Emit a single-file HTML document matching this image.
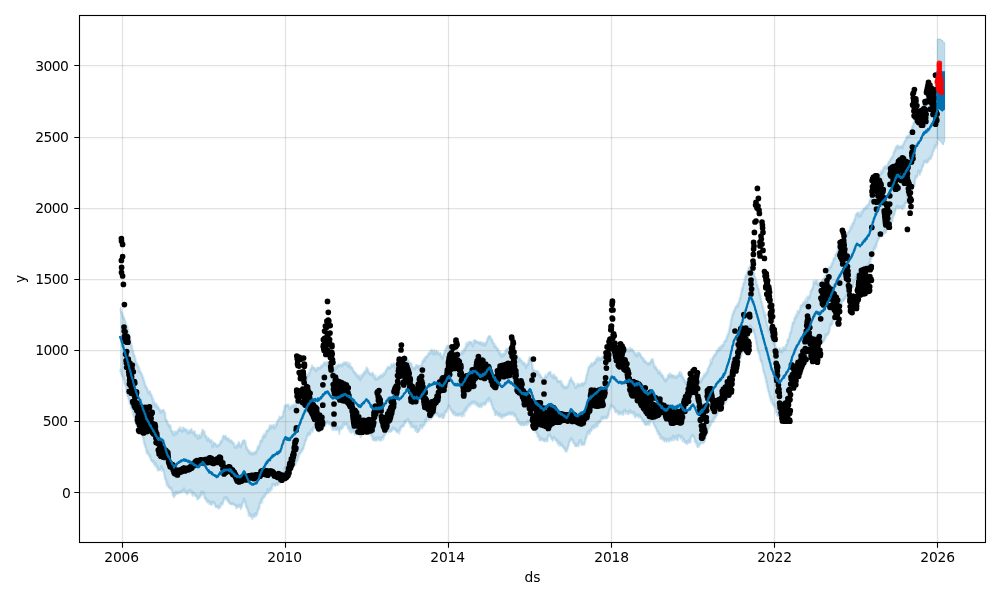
<!DOCTYPE html>
<html lang="en"><head><meta charset="utf-8"><title>Forecast plot</title>
<style>html,body{margin:0;padding:0;background:#fff}svg{display:block;will-change:transform}</style></head>
<body>
<svg width="1000" height="600" viewBox="0 0 1000 600">
<rect width="1000" height="600" fill="#fff"/>
<defs><clipPath id="ax"><rect x="79.5" y="15.5" width="906.0" height="527.0"/></clipPath></defs>
<g clip-path="url(#ax)">
<path d="M120 306.7 120.4 306.8 120.8 309.1 121.2 311.6 121.6 310.9 122 311.3 122.4 314.3 122.8 313.6 123.2 316.3 123.6 315.8 124 317.6 124.4 317.7 124.8 319 125.2 320.3 125.6 320.8 126 322.6 126.4 324.8 126.8 324.9 127.2 325.1 127.6 326.5 128 328.9 128.4 330.7 128.8 333.5 129.2 335.1 129.6 336.4 130 338 130.4 338.5 130.8 339.4 131.2 343.7 131.6 344 132 345.8 132.4 347.6 132.8 350.9 133.2 350 133.6 353.2 134 353.8 134.4 354.8 134.8 354.9 135.2 357.7 135.6 359.1 136 360.4 136.4 363.4 136.8 362.1 137.2 363.3 137.6 363.8 138 365.8 138.4 365.2 138.8 366 139.2 370.6 139.6 367.4 140 370.4 140.4 370.9 140.8 371.4 141.2 372 141.6 373.1 142 373.8 142.4 374.7 142.8 376.5 143.2 376.7 143.6 377.8 144 380.3 144.4 380 144.8 383.1 145.2 383.1 145.6 385.6 146 386 146.4 386.3 146.8 386.5 147.2 387.9 147.6 388.5 148 390.5 148.4 391.8 148.8 391.5 149.2 390.3 149.6 391.2 150 390.5 150.4 392.1 150.8 393.6 151.2 394.5 151.6 394.3 152 394.4 152.4 397.4 152.8 398.3 153.2 397.7 153.6 403.6 154 401.4 154.4 400.8 154.8 403.1 155.2 402.7 155.6 405.5 156 402.7 156.4 403.2 156.8 404.5 157.2 405.5 157.6 407.2 158 405.2 158.4 406.5 158.8 407.4 159.2 407.7 159.6 409.2 160 409.1 160.4 411.5 160.8 409.2 161.2 410.1 161.6 410.7 162 409.9 162.4 409.7 162.8 409.6 163.2 409.6 163.6 408.9 164 410.5 164.4 410.3 164.8 413.6 165.2 411.7 165.6 418.1 166 418.7 166.4 419.5 166.8 419.3 167.2 420 167.6 423 168 422.7 168.4 424.1 168.8 423.3 169.2 425.8 169.6 424 170 425.2 170.4 424.3 170.8 427.1 171.2 429.6 171.6 429.7 172 430 172.4 431.4 172.8 430.7 173.2 433.6 173.6 430.4 174 434.1 174.4 433.7 174.8 430.7 175.2 430.8 175.6 432.5 176 430.6 176.4 430.9 176.8 432.7 177.2 430.7 177.6 431 178 428.7 178.4 429.1 178.8 429.7 179.2 429.1 179.6 426.3 180 429.5 180.4 429.1 180.8 427.2 181.2 429.7 181.6 426.7 182 430.4 182.4 429.1 182.8 430.2 183.2 427.6 183.6 426.7 184 427.4 184.4 427.7 184.8 428.7 185.2 429.6 185.6 428 186 430.1 186.4 428.9 186.8 429.3 187.2 429.5 187.6 429.9 188 432.4 188.4 431.9 188.8 430.1 189.2 429.3 189.6 431.6 190 429.1 190.4 431.5 190.8 430.2 191.2 427.9 191.6 429.5 192 429.1 192.4 431.3 192.8 432.1 193.2 431 193.6 432.2 194 431.6 194.4 430.3 194.8 430.8 195.2 435 195.6 433.5 196 433.8 196.4 433.9 196.8 435 197.2 433.7 197.6 436.2 198 437.7 198.4 436.3 198.8 434.7 199.2 435.2 199.6 433.8 200 434.1 200.4 436.2 200.8 436.3 201.2 434 201.6 431.7 202 432.5 202.4 428.7 202.8 429.2 203.2 430.9 203.6 430.6 204 430.3 204.4 430.5 204.8 434.4 205.2 434.3 205.6 434.4 206 436.3 206.4 436 206.8 435.6 207.2 439.5 207.6 438 208 437 208.4 437 208.8 438.3 209.2 438.2 209.6 439.9 210 439 210.4 441.1 210.8 440.2 211.2 439.9 211.6 438.9 212 440.7 212.4 442.9 212.8 446.1 213.2 441 213.6 441.3 214 442.9 214.4 443.3 214.8 442.3 215.2 443.4 215.6 442.5 216 443.8 216.4 444.5 216.8 445.4 217.2 444.6 217.6 444.2 218 445 218.4 444.9 218.8 444.5 219.2 443 219.6 443.1 220 443.1 220.4 441.2 220.8 439.7 221.2 440.8 221.6 440.5 222 440.2 222.4 437.7 222.8 436.2 223.2 435.4 223.6 434.8 224 435.2 224.4 435.9 224.8 435.7 225.2 437.1 225.6 434.7 226 435.9 226.4 436.6 226.8 438.3 227.2 438.2 227.6 437.5 228 438.6 228.4 437.7 228.8 437.3 229.2 439.3 229.6 438.8 230 440.5 230.4 440.5 230.8 440.6 231.2 439.5 231.6 439.4 232 441.1 232.4 440.8 232.8 442.4 233.2 442.6 233.6 442.3 234 442 234.4 444.9 234.8 446.3 235.2 445.6 235.6 446 236 446.8 236.4 444.4 236.8 444.6 237.2 443.6 237.6 445.7 238 444.5 238.4 442.4 238.8 441 239.2 441.8 239.6 443.5 240 443.2 240.4 444.8 240.8 445.9 241.2 443.3 241.6 443.7 242 442.6 242.4 440.8 242.8 440 243.2 441.2 243.6 440.1 244 439.5 244.4 439.3 244.8 439.9 245.2 440.4 245.6 441.5 246 444.7 246.4 445.9 246.8 447.7 247.2 446.5 247.6 449.4 248 449.2 248.4 449.3 248.8 450.2 249.2 450.6 249.6 452.3 250 450.2 250.4 452.6 250.8 451.8 251.2 451.6 251.6 452.9 252 453.3 252.4 451.5 252.8 452.8 253.2 453.1 253.6 451.5 254 453.1 254.4 451.5 254.8 451.4 255.2 450.7 255.6 452.3 256 450.4 256.4 449.2 256.8 450.3 257.2 447.6 257.6 446.8 258 445 258.4 447.5 258.8 445.3 259.2 444.9 259.6 443.1 260 441.6 260.4 440.2 260.8 439.5 261.2 440 261.6 439 262 439.9 262.4 436 262.8 435.8 263.2 434.7 263.6 436.5 264 432.9 264.4 434.8 264.8 435.8 265.2 433.3 265.6 433.7 266 430.6 266.4 431.1 266.8 429.3 267.2 430.1 267.6 430 268 428.9 268.4 429.6 268.8 427.5 269.2 426.4 269.6 425.7 270 424.2 270.4 425.5 270.8 427.3 271.2 424.6 271.6 425.6 272 424.6 272.4 425.9 272.8 425.7 273.2 425 273.6 424 274 425.3 274.4 427.2 274.8 425.8 275.2 426.2 275.6 424.3 276 422.5 276.4 424.1 276.8 422.6 277.2 420.8 277.6 419.4 278 419.4 278.4 418.4 278.8 418.4 279.2 417.8 279.6 415.6 280 417.2 280.4 416.9 280.8 417.1 281.2 416.9 281.6 416 282 416 282.4 415.5 282.8 414.4 283.2 411 283.6 410 284 410.1 284.4 406.8 284.8 404.7 285.2 404.8 285.6 404.6 286 404.6 286.4 405.1 286.8 403.7 287.2 404.1 287.6 404.4 288 405 288.4 403.5 288.8 405.3 289.2 405 289.6 407.8 290 407.4 290.4 407.1 290.8 405.9 291.2 404.7 291.6 406.5 292 405.3 292.4 405.7 292.8 404 293.2 403.7 293.6 404.7 294 405.9 294.4 403.8 294.8 405.7 295.2 405.9 295.6 401.5 296 402.1 296.4 399.9 296.8 400.6 297.2 399.3 297.6 398 298 397.6 298.4 396 298.8 394.8 299.2 393.6 299.6 391.6 300 390.8 300.4 390.9 300.8 389.5 301.2 388.5 301.6 385.2 302 386.4 302.4 386.7 302.8 383.3 303.2 379.8 303.6 382.4 304 380.3 304.4 376.3 304.8 377.8 305.2 378 305.6 378.7 306 378.8 306.4 377.4 306.8 376.6 307.2 374.7 307.6 374.4 308 374.5 308.4 374.9 308.8 371.5 309.2 372.5 309.6 372 310 368.7 310.4 368.4 310.8 368.6 311.2 367.8 311.6 366.7 312 364.1 312.4 366.4 312.8 366.2 313.2 367.1 313.6 366.7 314 367.6 314.4 367.4 314.8 366.9 315.2 368.4 315.6 369.4 316 369 316.4 369.9 316.8 367 317.2 368.7 317.6 367.6 318 366.4 318.4 367.7 318.8 366.7 319.2 367.2 319.6 367.3 320 367.5 320.4 366.1 320.8 366.5 321.2 364.3 321.6 365.8 322 365.8 322.4 364.9 322.8 364.3 323.2 363.1 323.6 362.5 324 363.1 324.4 361.6 324.8 361.3 325.2 363.3 325.6 361.3 326 364 326.4 361.5 326.8 363.3 327.2 360.7 327.6 362.3 328 361.5 328.4 362.4 328.8 361.6 329.2 362.1 329.6 363.6 330 365.3 330.4 363.3 330.8 365.8 331.2 366.1 331.6 366.3 332 368.7 332.4 364.6 332.8 367.7 333.2 366.4 333.6 367 334 366.9 334.4 370.5 334.8 366 335.2 367.7 335.6 366.7 336 364.6 336.4 365.2 336.8 366.7 337.2 364.5 337.6 365.1 338 365.4 338.4 363.6 338.8 363.9 339.2 364.5 339.6 364.7 340 363.9 340.4 364.5 340.8 363.3 341.2 364 341.6 365 342 364.1 342.4 363.4 342.8 362.3 343.2 362.6 343.6 364 344 361 344.4 363 344.8 362.3 345.2 361.4 345.6 362.7 346 361.5 346.4 361.7 346.8 362.1 347.2 362.5 347.6 365.1 348 361.3 348.4 363.7 348.8 364.2 349.2 365.7 349.6 364 350 362.3 350.4 366.6 350.8 365.2 351.2 367.3 351.6 366 352 366.7 352.4 367.2 352.8 368 353.2 369.8 353.6 369.5 354 371.2 354.4 370.8 354.8 371.5 355.2 371.9 355.6 373.5 356 372 356.4 372.7 356.8 374.5 357.2 374.4 357.6 374 358 376.7 358.4 374.7 358.8 375.4 359.2 375.7 359.6 376.8 360 374.1 360.4 378.9 360.8 376.1 361.2 374.3 361.6 375.3 362 376.4 362.4 374.3 362.8 373.2 363.2 372.7 363.6 373.8 364 370.7 364.4 371.7 364.8 371 365.2 372.1 365.6 369.2 366 370.3 366.4 367.4 366.8 366.4 367.2 368.4 367.6 368.8 368 368 368.4 370.9 368.8 371.6 369.2 371.3 369.6 372.4 370 373.1 370.4 373.2 370.8 373.1 371.2 373.5 371.6 374.2 372 372.2 372.4 373.2 372.8 371.5 373.2 373.9 373.6 374.1 374 374 374.4 376.4 374.8 377.8 375.2 377.6 375.6 374.4 376 378.3 376.4 378.2 376.8 378.3 377.2 377.1 377.6 377.8 378 378 378.4 376.4 378.8 375.8 379.2 375.3 379.6 375.9 380 376.3 380.4 376.7 380.8 373.9 381.2 375.2 381.6 374.2 382 374.5 382.4 375.2 382.8 375.2 383.2 372.4 383.6 373.2 384 374 384.4 373.2 384.8 372.2 385.2 370.2 385.6 370.2 386 370.5 386.4 368.8 386.8 367.3 387.2 367.7 387.6 367.4 388 365.6 388.4 367.4 388.8 366.6 389.2 366.1 389.6 366.9 390 366.3 390.4 367 390.8 365.7 391.2 363.4 391.6 363.4 392 365.4 392.4 363.6 392.8 364.3 393.2 364.1 393.6 364.8 394 362 394.4 365.2 394.8 364.3 395.2 366.5 395.6 366.8 396 363.8 396.4 365.6 396.8 365.1 397.2 364.5 397.6 365.3 398 364.8 398.4 364.5 398.8 366.2 399.2 366.1 399.6 364.2 400 363.6 400.4 367.1 400.8 365.4 401.2 364.2 401.6 361.7 402 361 402.4 361.2 402.8 359.4 403.2 361.6 403.6 360.7 404 360.6 404.4 358.6 404.8 358.5 405.2 359 405.6 359.8 406 359.6 406.4 359.7 406.8 360.3 407.2 359.6 407.6 361.1 408 359.5 408.4 359.3 408.8 360.8 409.2 362.4 409.6 361.5 410 362.2 410.4 362.5 410.8 363.1 411.2 363.6 411.6 362.8 412 364.3 412.4 366.7 412.8 367.1 413.2 367.5 413.6 367.7 414 367.3 414.4 366.3 414.8 368 415.2 366.2 415.6 366.4 416 364 416.4 365.5 416.8 365.4 417.2 364.2 417.6 366.1 418 364.5 418.4 365.8 418.8 365.5 419.2 365.1 419.6 368.2 420 366.1 420.4 365.7 420.8 364.2 421.2 365.3 421.6 364 422 362 422.4 360.2 422.8 360.2 423.2 361 423.6 358.6 424 358.2 424.4 357.3 424.8 359.4 425.2 356.9 425.6 355.7 426 356 426.4 355.6 426.8 356.3 427.2 355.7 427.6 354.5 428 352.9 428.4 352.4 428.8 353.1 429.2 352.8 429.6 350.7 430 352.8 430.4 352.4 430.8 349.5 431.2 350.1 431.6 348.7 432 350.8 432.4 349.9 432.8 349.6 433.2 351.1 433.6 353.3 434 350.4 434.4 349.2 434.8 350.7 435.2 351.1 435.6 353 436 350.2 436.4 349.8 436.8 351.3 437.2 351.6 437.6 351.4 438 352.6 438.4 351.2 438.8 352.4 439.2 352.9 439.6 353.7 440 353.5 440.4 352.2 440.8 352.6 441.2 354.9 441.6 355.4 442 357.5 442.4 355 442.8 356.8 443.2 354.2 443.6 353.7 444 352.6 444.4 351.6 444.8 350.3 445.2 349.1 445.6 349.2 446 347.2 446.4 346.9 446.8 345.4 447.2 344.7 447.6 346.2 448 345.3 448.4 345.6 448.8 344.9 449.2 345.5 449.6 346.5 450 346.1 450.4 349 450.8 350.2 451.2 350.3 451.6 349.3 452 348.4 452.4 349.9 452.8 350.6 453.2 352.5 453.6 351.2 454 351.2 454.4 354.1 454.8 351 455.2 352.4 455.6 352.5 456 349.5 456.4 352.3 456.8 350.7 457.2 350.6 457.6 351 458 351.9 458.4 353.1 458.8 353.5 459.2 354.1 459.6 352.8 460 353.8 460.4 352.7 460.8 352.8 461.2 351.7 461.6 353 462 352.2 462.4 350.2 462.8 350.7 463.2 351.3 463.6 350.8 464 347.9 464.4 348.5 464.8 348.6 465.2 346.4 465.6 346.9 466 342.6 466.4 346.1 466.8 343.9 467.2 341.3 467.6 344.1 468 343.5 468.4 343.1 468.8 342.3 469.2 340.9 469.6 340.6 470 341.2 470.4 342.2 470.8 342.2 471.2 341.2 471.6 341.4 472 342.3 472.4 342.4 472.8 345 473.2 344.2 473.6 340.1 474 340.3 474.4 339.1 474.8 339 475.2 341.4 475.6 339.8 476 340.1 476.4 340.5 476.8 340.8 477.2 340.7 477.6 340.9 478 341.8 478.4 341.4 478.8 342.1 479.2 342.5 479.6 341.1 480 341.9 480.4 341.3 480.8 343 481.2 342.4 481.6 341.1 482 343.4 482.4 341.9 482.8 344 483.2 343.1 483.6 342 484 342.1 484.4 343.2 484.8 344.2 485.2 342.5 485.6 343.5 486 341.2 486.4 341.5 486.8 340.9 487.2 337.7 487.6 338.8 488 337.4 488.4 335.3 488.8 335.6 489.2 336.2 489.6 336.6 490 334.8 490.4 336.3 490.8 336.5 491.2 337.7 491.6 339.4 492 338.6 492.4 338.7 492.8 341.7 493.2 342.1 493.6 342.3 494 343 494.4 342.8 494.8 345.9 495.2 345.9 495.6 344.6 496 346 496.4 346.8 496.8 346.9 497.2 348.7 497.6 348.6 498 347.2 498.4 349.6 498.8 351.2 499.2 351.7 499.6 353.1 500 350.5 500.4 352.5 500.8 352.7 501.2 354.1 501.6 355.8 502 353.5 502.4 353.7 502.8 352.9 503.2 354.8 503.6 352.3 504 354.1 504.4 353.3 504.8 353 505.2 349.5 505.6 350.2 506 350.9 506.4 348.2 506.8 348.4 507.2 348.6 507.6 348 508 348.1 508.4 349.6 508.8 348.8 509.2 350 509.6 350.6 510 352.4 510.4 351.5 510.8 353.2 511.2 350.2 511.6 354.5 512 353.1 512.4 354.1 512.8 353.1 513.2 354.2 513.6 354.5 514 351.9 514.4 353.2 514.8 353.3 515.2 353.7 515.6 352.7 516 354.4 516.4 353.9 516.8 354.4 517.2 355 517.6 354.6 518 358.1 518.4 357.7 518.8 359.7 519.2 357.6 519.6 357.1 520 359.8 520.4 357.9 520.8 359.8 521.2 359.7 521.6 359.9 522 360.2 522.4 361 522.8 362.8 523.2 362.8 523.6 361.2 524 362.9 524.4 361.8 524.8 363.6 525.2 362.7 525.6 363.9 526 366.7 526.4 364.2 526.8 364.7 527.2 364 527.6 363.1 528 363.8 528.4 360.3 528.8 359 529.2 359.4 529.6 356.1 530 357 530.4 359 530.8 358.5 531.2 358.8 531.6 360.8 532 361.9 532.4 364.3 532.8 366.7 533.2 369.2 533.6 370.1 534 368.7 534.4 369.3 534.8 371.3 535.2 370.2 535.6 370.7 536 372 536.4 370.3 536.8 370.6 537.2 371.1 537.6 369.7 538 371.8 538.4 372.7 538.8 373.8 539.2 371.5 539.6 375.2 540 373.7 540.4 374.4 540.8 374.8 541.2 376.3 541.6 376.3 542 378.3 542.4 376.9 542.8 377.5 543.2 379.6 543.6 377.9 544 378.8 544.4 377.8 544.8 376.1 545.2 376.7 545.6 373.8 546 376.8 546.4 375.4 546.8 375.4 547.2 375.1 547.6 373.5 548 372.3 548.4 372.7 548.8 372 549.2 371.2 549.6 371.5 550 371.6 550.4 372.7 550.8 371.1 551.2 374.5 551.6 375.3 552 374.8 552.4 374 552.8 376.2 553.2 373.7 553.6 375.5 554 377.2 554.4 373.6 554.8 376.1 555.2 375.9 555.6 376.9 556 376.5 556.4 377.1 556.8 376.4 557.2 379 557.6 380.6 558 379.8 558.4 380 558.8 380.7 559.2 380.6 559.6 380.3 560 380.7 560.4 381.3 560.8 381 561.2 379.7 561.6 383.2 562 384.8 562.4 382.5 562.8 383.4 563.2 385.1 563.6 386.5 564 385.8 564.4 386.7 564.8 385.5 565.2 386 565.6 386.7 566 385.6 566.4 386.9 566.8 386.5 567.2 386.4 567.6 384.5 568 385.4 568.4 383 568.8 383.3 569.2 379.9 569.6 379.7 570 380.1 570.4 378.1 570.8 377.9 571.2 376.6 571.6 379.8 572 380 572.4 379.6 572.8 380.7 573.2 381 573.6 382.8 574 383 574.4 382.3 574.8 384.1 575.2 386 575.6 386.8 576 385.5 576.4 386.1 576.8 384.9 577.2 384.6 577.6 382.6 578 382.8 578.4 383.9 578.8 383.9 579.2 385 579.6 385 580 383 580.4 383.7 580.8 383.2 581.2 383.6 581.6 383.5 582 382.5 582.4 381.8 582.8 384.3 583.2 382.1 583.6 383.8 584 382.3 584.4 381.9 584.8 382.4 585.2 381.6 585.6 378.5 586 378.5 586.4 374.5 586.8 373.6 587.2 374 587.6 370 588 369.5 588.4 366.7 588.8 366.7 589.2 365.7 589.6 365.4 590 364.7 590.4 364.1 590.8 364.9 591.2 362.3 591.6 362.6 592 364.9 592.4 363.7 592.8 363 593.2 361.9 593.6 362.9 594 361.2 594.4 361.5 594.8 360.6 595.2 362.6 595.6 360.3 596 357.9 596.4 359.3 596.8 358.3 597.2 358 597.6 355.9 598 358.9 598.4 357.9 598.8 358 599.2 356.5 599.6 357.8 600 357.6 600.4 358.8 600.8 357.2 601.2 357.2 601.6 358.4 602 356.5 602.4 356.8 602.8 355.6 603.2 356 603.6 355.9 604 355.3 604.4 355.1 604.8 354.8 605.2 354.9 605.6 355.1 606 356.7 606.4 356.8 606.8 353.9 607.2 355.3 607.6 356.2 608 354.4 608.4 353.8 608.8 352.3 609.2 351 609.6 348.5 610 349.6 610.4 348.7 610.8 348.3 611.2 347.2 611.6 345.6 612 344.2 612.4 343.6 612.8 343.8 613.2 344.7 613.6 344.6 614 344.9 614.4 346.1 614.8 345.2 615.2 343.5 615.6 347.5 616 346.1 616.4 351 616.8 350.5 617.2 349.6 617.6 347.9 618 347.2 618.4 348.8 618.8 349.2 619.2 348.5 619.6 348.7 620 349.8 620.4 349.2 620.8 347.5 621.2 347.2 621.6 349.4 622 349.1 622.4 350.3 622.8 352.1 623.2 351.7 623.6 350.4 624 350.5 624.4 351.2 624.8 349.7 625.2 349.7 625.6 350.8 626 349.8 626.4 348.9 626.8 347.8 627.2 349.1 627.6 348.3 628 349.8 628.4 348.6 628.8 350.3 629.2 350 629.6 346.8 630 348.8 630.4 347.3 630.8 349.4 631.2 348.6 631.6 348.2 632 349 632.4 348.4 632.8 348.9 633.2 350 633.6 350.3 634 351.5 634.4 351.4 634.8 353.1 635.2 351.5 635.6 354.5 636 353.7 636.4 353.5 636.8 353.1 637.2 355.2 637.6 351.9 638 352.2 638.4 351.7 638.8 353.4 639.2 352 639.6 353.3 640 352.5 640.4 353.9 640.8 353.7 641.2 356 641.6 355.7 642 356.1 642.4 357.5 642.8 357.1 643.2 358.1 643.6 359.6 644 357.6 644.4 361 644.8 359.9 645.2 359.8 645.6 360.7 646 361.5 646.4 361.1 646.8 361.5 647.2 362.7 647.6 363.2 648 363.1 648.4 362.4 648.8 362.1 649.2 361.9 649.6 363.1 650 361.7 650.4 360.5 650.8 361 651.2 359.1 651.6 358.8 652 358.6 652.4 360.6 652.8 357.8 653.2 360.6 653.6 361.9 654 362.9 654.4 365.8 654.8 366 655.2 366.8 655.6 365.4 656 367.4 656.4 367 656.8 368.5 657.2 369.2 657.6 368.9 658 370.2 658.4 372.2 658.8 371.6 659.2 370.8 659.6 369.7 660 372.1 660.4 372.9 660.8 371.8 661.2 372.6 661.6 374.8 662 374.3 662.4 375.5 662.8 374.4 663.2 375 663.6 377.2 664 377 664.4 378.9 664.8 379.3 665.2 377.7 665.6 380.3 666 378.6 666.4 379.1 666.8 378.5 667.2 377.1 667.6 376.5 668 373.8 668.4 374.4 668.8 374.3 669.2 375.9 669.6 374.1 670 372.2 670.4 375.1 670.8 374.4 671.2 373.5 671.6 374.1 672 376.1 672.4 374.7 672.8 374 673.2 375.6 673.6 374.8 674 376.3 674.4 375.6 674.8 375.3 675.2 375.5 675.6 376.7 676 376.9 676.4 375.5 676.8 374.6 677.2 376 677.6 375.2 678 374.4 678.4 374.7 678.8 372.6 679.2 373.2 679.6 371.9 680 370.9 680.4 374.5 680.8 374.4 681.2 371.4 681.6 373.9 682 374 682.4 376.5 682.8 376.2 683.2 376.4 683.6 377.6 684 378.6 684.4 379.3 684.8 379.5 685.2 380.8 685.6 382.1 686 380.5 686.4 380.8 686.8 380.8 687.2 380.6 687.6 381.4 688 378.6 688.4 378.2 688.8 377.5 689.2 378.1 689.6 376.4 690 375.8 690.4 376.1 690.8 373.1 691.2 374.4 691.6 372.9 692 373 692.4 373.1 692.8 372.7 693.2 372.2 693.6 372.6 694 372.6 694.4 372.5 694.8 373.9 695.2 375.9 695.6 377.2 696 377.4 696.4 377.5 696.8 380.2 697.2 381.6 697.6 382.4 698 382 698.4 380.3 698.8 381.5 699.2 382.7 699.6 382.5 700 379.5 700.4 381.2 700.8 378 701.2 381 701.6 379.1 702 376.6 702.4 378.1 702.8 376.6 703.2 376.8 703.6 375.1 704 373.4 704.4 375.1 704.8 372.9 705.2 374.7 705.6 373.5 706 372.3 706.4 370.6 706.8 372.5 707.2 371.1 707.6 367.7 708 369.9 708.4 366.8 708.8 366.1 709.2 365.8 709.6 364.3 710 364.3 710.4 361.7 710.8 358.5 711.2 362.4 711.6 360.8 712 358.3 712.4 358.3 712.8 356.5 713.2 356.2 713.6 355.5 714 354.9 714.4 353.8 714.8 353.9 715.2 354.5 715.6 352.4 716 353 716.4 349.9 716.8 351.4 717.2 350.1 717.6 348.7 718 350.3 718.4 348.9 718.8 347.1 719.2 347.2 719.6 348 720 345.9 720.4 348 720.8 346.3 721.2 344.5 721.6 345.5 722 346 722.4 344.2 722.8 343.8 723.2 344.7 723.6 344.1 724 341 724.4 340.8 724.8 341 725.2 340.6 725.6 338.9 726 339.8 726.4 337.8 726.8 335.9 727.2 336 727.6 333.4 728 333.4 728.4 332.9 728.8 330.4 729.2 328.8 729.6 327.7 730 324.7 730.4 324.6 730.8 320.3 731.2 319.4 731.6 316.8 732 316.1 732.4 313.2 732.8 313.4 733.2 311.9 733.6 310.2 734 310.7 734.4 309.1 734.8 308.4 735.2 307.8 735.6 305.6 736 306.3 736.4 305.7 736.8 305 737.2 304.5 737.6 303 738 305.2 738.4 301.5 738.8 301.6 739.2 300.5 739.6 297.1 740 297.8 740.4 296.4 740.8 293.4 741.2 291.2 741.6 289.5 742 286.8 742.4 289.1 742.8 285.9 743.2 283.6 743.6 281.9 744 282.9 744.4 281.6 744.8 277.8 745.2 276.5 745.6 274.5 746 275.8 746.4 273.6 746.8 274.8 747.2 271.1 747.6 270.6 748 269 748.4 270.6 748.8 266.5 749.2 267.6 749.6 266.6 750 264.9 750.4 264.8 750.8 267.2 751.2 268.7 751.6 266.8 752 268.2 752.4 269.9 752.8 268.7 753.2 270.5 753.6 269.7 754 272.2 754.4 274.1 754.8 275.4 755.2 277.2 755.6 277.8 756 278.5 756.4 280.4 756.8 283.6 757.2 283.8 757.6 285.1 758 287.1 758.4 287.8 758.8 287.9 759.2 289.9 759.6 292.1 760 294 760.4 294.5 760.8 296.8 761.2 298.8 761.6 301.4 762 301.2 762.4 304.9 762.8 306.4 763.2 305.4 763.6 309.7 764 311.2 764.4 310.6 764.8 315.4 765.2 312.4 765.6 314.3 766 317 766.4 320 766.8 321.3 767.2 322.9 767.6 325.1 768 325.6 768.4 327.3 768.8 329.9 769.2 329.4 769.6 327 770 330.2 770.4 330.3 770.8 333.2 771.2 334.7 771.6 334.7 772 336.5 772.4 338 772.8 339.1 773.2 337 773.6 342.8 774 342.9 774.4 343.3 774.8 343.4 775.2 343.1 775.6 345.2 776 346.9 776.4 347.7 776.8 347.6 777.2 348.1 777.6 347.9 778 349.8 778.4 349.6 778.8 349.5 779.2 347.4 779.6 348.9 780 347.5 780.4 350.8 780.8 350.3 781.2 349.1 781.6 349 782 351.3 782.4 349.7 782.8 346.5 783.2 348.2 783.6 346.7 784 346.5 784.4 347.6 784.8 348.5 785.2 347.2 785.6 344.7 786 344 786.4 343.8 786.8 344.1 787.2 340 787.6 338.6 788 340.2 788.4 338.3 788.8 338.3 789.2 335.8 789.6 335.1 790 331.5 790.4 332 790.8 330.9 791.2 329.3 791.6 326.1 792 325.7 792.4 322.7 792.8 321.5 793.2 321.7 793.6 322.4 794 320.7 794.4 316.8 794.8 318.2 795.2 316.7 795.6 315.7 796 313.1 796.4 315.9 796.8 315.3 797.2 313.8 797.6 310 798 310.1 798.4 312.1 798.8 311.3 799.2 311 799.6 308.6 800 308.7 800.4 305.7 800.8 304.9 801.2 304.1 801.6 305.3 802 303.8 802.4 304.1 802.8 303.7 803.2 301.5 803.6 303.9 804 300.3 804.4 302.3 804.8 302.2 805.2 302.2 805.6 297.7 806 300.6 806.4 301.1 806.8 300.4 807.2 295.7 807.6 297 808 297.7 808.4 296 808.8 297.2 809.2 294.6 809.6 296.4 810 294.3 810.4 291 810.8 290 811.2 289.9 811.6 288.7 812 288.2 812.4 286.7 812.8 287.2 813.2 283.6 813.6 280.2 814 282.5 814.4 282.3 814.8 281.1 815.2 279.5 815.6 280.9 816 282.6 816.4 280.5 816.8 279.7 817.2 279.4 817.6 283.8 818 281.9 818.4 283.6 818.8 284.1 819.2 283.2 819.6 281.5 820 282.9 820.4 282.9 820.8 282.2 821.2 283 821.6 280.5 822 279.7 822.4 278.6 822.8 279.4 823.2 278.1 823.6 278.7 824 277.1 824.4 277.4 824.8 275.8 825.2 275.3 825.6 274.8 826 274.3 826.4 272.5 826.8 269.8 827.2 271.8 827.6 268.7 828 268.3 828.4 267.4 828.8 268.9 829.2 266.2 829.6 266.8 830 266.4 830.4 266.4 830.8 266.1 831.2 265.1 831.6 262.5 832 263.5 832.4 262.1 832.8 260.3 833.2 259.2 833.6 257.7 834 257.2 834.4 258.4 834.8 257.1 835.2 253.8 835.6 254.3 836 252.8 836.4 252.8 836.8 251.6 837.2 252 837.6 250.1 838 247.7 838.4 243.8 838.8 244.3 839.2 242.2 839.6 241 840 242.1 840.4 239.2 840.8 241.5 841.2 241.7 841.6 239 842 240.9 842.4 240.2 842.8 240.4 843.2 238.4 843.6 238.7 844 237.4 844.4 237.2 844.8 235.6 845.2 235.4 845.6 234.1 846 233.7 846.4 234.2 846.8 232.7 847.2 233.2 847.6 232.2 848 232 848.4 230.5 848.8 230.9 849.2 230.6 849.6 229.4 850 229.3 850.4 227.4 850.8 225.1 851.2 226.2 851.6 226.7 852 224.8 852.4 222.3 852.8 223.3 853.2 221.4 853.6 222.2 854 220.1 854.4 219 854.8 217.9 855.2 216.6 855.6 214.7 856 213.2 856.4 213.5 856.8 212.4 857.2 213.8 857.6 211.6 858 211.8 858.4 213 858.8 211.9 859.2 215.7 859.6 211.9 860 214.9 860.4 211.1 860.8 212.5 861.2 214.7 861.6 209.9 862 210.3 862.4 211.3 862.8 210.3 863.2 208.6 863.6 208.4 864 207.3 864.4 207.9 864.8 208.3 865.2 206.4 865.6 205.9 866 207 866.4 207.2 866.8 204.3 867.2 205.6 867.6 204.8 868 204 868.4 203.8 868.8 203.1 869.2 201.3 869.6 199.7 870 199.7 870.4 199 870.8 197.9 871.2 193.7 871.6 193.8 872 193.5 872.4 192.7 872.8 190.3 873.2 189 873.6 189.4 874 185.6 874.4 185.6 874.8 183.5 875.2 185.1 875.6 182.9 876 183.8 876.4 180.6 876.8 181.5 877.2 180.4 877.6 181.2 878 177.3 878.4 178.5 878.8 176.3 879.2 175.8 879.6 174.8 880 174.2 880.4 172.7 880.8 170.1 881.2 172.7 881.6 171.3 882 169.2 882.4 169 882.8 171.2 883.2 167.8 883.6 166.2 884 167.9 884.4 166.4 884.8 166.3 885.2 165.1 885.6 165.1 886 166.9 886.4 167 886.8 164.7 887.2 164.5 887.6 163.9 888 162.9 888.4 161.8 888.8 160.9 889.2 160.4 889.6 160.8 890 158.7 890.4 159.2 890.8 157.7 891.2 156.7 891.6 157.5 892 156.2 892.4 155.6 892.8 155 893.2 153.4 893.6 151.3 894 151.7 894.4 150.2 894.8 149.1 895.2 149.6 895.6 147 896 146.3 896.4 145.4 896.8 146.8 897.2 144.6 897.6 145 898 144.6 898.4 146 898.8 147.1 899.2 145.5 899.6 146.1 900 145.8 900.4 145.7 900.8 146.2 901.2 145.4 901.6 145.9 902 144.4 902.4 147 902.8 144.5 903.2 143.2 903.6 143.4 904 141.4 904.4 140.9 904.8 139.9 905.2 140.1 905.6 139 906 138.7 906.4 136.6 906.8 135.5 907.2 135.4 907.6 135.6 908 134.9 908.4 136.5 908.8 135.9 909.2 134.6 909.6 131.9 910 132.8 910.4 130.5 910.8 131.1 911.2 129.8 911.6 128 912 126.3 912.4 124.9 912.8 126.2 913.2 122.7 913.6 122 914 121.9 914.4 119.8 914.8 119.2 915.2 115.7 915.6 114.6 916 117.7 916.4 114.3 916.8 113.1 917.2 112.9 917.6 113.2 918 110.4 918.4 111.8 918.8 111.5 919.2 111.9 919.6 111.3 920 110.4 920.4 108.5 920.8 106.8 921.2 109.2 921.6 105.7 922 106.3 922.4 107.7 922.8 104.3 923.2 104.5 923.6 102.1 924 102.7 924.4 102.6 924.8 101.9 925.2 103.3 925.6 101.2 926 99.9 926.4 99.7 926.8 100.4 927.2 98 927.6 100.6 928 100.3 928.4 99.5 928.8 96.1 929.2 96.8 929.6 93.8 930 94.1 930.4 94.2 930.8 94 931.2 92.5 931.6 91.9 932 91 932.4 91.5 932.8 91.6 933.2 91.2 933.6 90.4 934 90.2 934.4 89.7 934.8 85.7 935.2 87.6 935.6 86.8 936 84.5 936.4 85.1 936.8 82.6 937.2 79.7 937.6 78.8 938 78.4 L938 142.6 937.6 142.7 937.2 145.4 936.8 144.8 936.4 147.5 936 146.3 935.6 149.2 935.2 146.8 934.8 149 934.4 148.5 934 151.4 933.6 150.9 933.2 152.5 932.8 153.6 932.4 156.1 932 156.5 931.6 156.8 931.2 159 930.8 157.9 930.4 160.4 930 159.6 929.6 159.5 929.2 160.5 928.8 160.1 928.4 162.4 928 161.4 927.6 163.5 927.2 162.3 926.8 163.8 926.4 163.1 926 162.9 925.6 163.2 925.2 161.9 924.8 162.1 924.4 164.1 924 162.9 923.6 166 923.2 166 922.8 168.1 922.4 167.1 922 169 921.6 171.8 921.2 172 920.8 172.4 920.4 172.9 920 175.8 919.6 174.8 919.2 174.3 918.8 171.8 918.4 172.8 918 175.5 917.6 176.5 917.2 177.3 916.8 178.6 916.4 178.1 916 177.2 915.6 179.8 915.2 180.8 914.8 185.5 914.4 186.9 914 186.5 913.6 186.1 913.2 186.5 912.8 188 912.4 190.2 912 190.3 911.6 193.8 911.2 193.1 910.8 193.2 910.4 194.2 910 196.4 909.6 197.9 909.2 198.8 908.8 198.7 908.4 199 908 201.2 907.6 198.7 907.2 204.1 906.8 203.2 906.4 203.5 906 202.8 905.6 204.1 905.2 205 904.8 207.3 904.4 208.5 904 206.3 903.6 209.3 903.2 207.1 902.8 210.1 902.4 208.6 902 209.9 901.6 209.1 901.2 208.3 900.8 208.2 900.4 207.9 900 208.6 899.6 208.6 899.2 208.1 898.8 208.7 898.4 209.3 898 209.2 897.6 208 897.2 207.1 896.8 207.8 896.4 208.3 896 209.9 895.6 211.5 895.2 211.7 894.8 214.7 894.4 215.4 894 216.2 893.6 216 893.2 218 892.8 218.6 892.4 222.2 892 221.9 891.6 220.8 891.2 222.6 890.8 222.2 890.4 220.5 890 222.6 889.6 225.6 889.2 224.8 888.8 226.2 888.4 224.9 888 226.6 887.6 229 887.2 228.9 886.8 230.6 886.4 232.1 886 233.6 885.6 232.8 885.2 233.8 884.8 233.5 884.4 231.3 884 234.7 883.6 233.3 883.2 234.4 882.8 236.9 882.4 235.7 882 236.4 881.6 236.3 881.2 237.4 880.8 236 880.4 237.5 880 236 879.6 238.4 879.2 239 878.8 238.9 878.4 240.3 878 241.4 877.6 242.7 877.2 242.7 876.8 244.8 876.4 247.7 876 245.4 875.6 247.9 875.2 249.4 874.8 249.2 874.4 248.5 874 250.3 873.6 252.5 873.2 254.5 872.8 253.1 872.4 255.6 872 255 871.6 259.6 871.2 259 870.8 259.2 870.4 262.6 870 264.4 869.6 263.8 869.2 264.2 868.8 264.7 868.4 267.4 868 268 867.6 268 867.2 268.5 866.8 269.9 866.4 270.3 866 268.2 865.6 270 865.2 272.1 864.8 271.9 864.4 271.3 864 272.6 863.6 273.5 863.2 271.7 862.8 272.1 862.4 273.9 862 272.6 861.6 274.5 861.2 275.5 860.8 275.8 860.4 276.1 860 276.8 859.6 278.6 859.2 276.2 858.8 276.5 858.4 278.1 858 276.9 857.6 275.9 857.2 274.4 856.8 277.8 856.4 278.9 856 278.1 855.6 279.9 855.2 280.7 854.8 282.5 854.4 282.6 854 283.8 853.6 287.5 853.2 287.2 852.8 286.9 852.4 288.4 852 288.1 851.6 290.3 851.2 289.4 850.8 291.6 850.4 290.3 850 292.2 849.6 293.8 849.2 293.1 848.8 292.4 848.4 294 848 295.5 847.6 295.9 847.2 296.4 846.8 295.6 846.4 298.1 846 298.9 845.6 298.5 845.2 298.6 844.8 300.2 844.4 300.3 844 301.2 843.6 301.8 843.2 301.8 842.8 300.9 842.4 302.6 842 303.2 841.6 305.4 841.2 307 840.8 305.7 840.4 307.8 840 309.2 839.6 311.1 839.2 308.6 838.8 310.1 838.4 310.6 838 309.9 837.6 313.5 837.2 312.5 836.8 314.2 836.4 316.9 836 316.9 835.6 317.5 835.2 317.3 834.8 320.2 834.4 320.3 834 318.3 833.6 319.9 833.2 321.2 832.8 322.1 832.4 324.7 832 325.4 831.6 326 831.2 325.7 830.8 325 830.4 326.8 830 328.9 829.6 331.3 829.2 333.3 828.8 334 828.4 333.9 828 335.3 827.6 335.7 827.2 335.9 826.8 336.3 826.4 335.7 826 339 825.6 335.7 825.2 339.7 824.8 339.2 824.4 341.5 824 341 823.6 341.5 823.2 343.1 822.8 341.4 822.4 342.1 822 344.3 821.6 344.7 821.2 342.4 820.8 340.5 820.4 343.4 820 341.8 819.6 343.1 819.2 342.3 818.8 343.1 818.4 345 818 340.3 817.6 343.7 817.2 344.9 816.8 342.2 816.4 344 816 342.9 815.6 344.4 815.2 344.9 814.8 347.4 814.4 348.4 814 350.9 813.6 348.3 813.2 351.5 812.8 353 812.4 351.8 812 354.7 811.6 355.2 811.2 352.6 810.8 355.9 810.4 358.9 810 358.7 809.6 357.4 809.2 358.9 808.8 357.3 808.4 361.8 808 360.8 807.6 361.2 807.2 362 806.8 362.1 806.4 363.8 806 362.7 805.6 364.3 805.2 364.8 804.8 367.3 804.4 367.3 804 366.2 803.6 365.3 803.2 365.8 802.8 367.3 802.4 369.3 802 370.7 801.6 371 801.2 370.7 800.8 371.1 800.4 370.7 800 372.6 799.6 374 799.2 373.9 798.8 376.9 798.4 374.9 798 376.2 797.6 376.6 797.2 378.5 796.8 378.5 796.4 381.1 796 380.8 795.6 385.2 795.2 380.7 794.8 385 794.4 383.2 794 382.1 793.6 385 793.2 388.5 792.8 386.8 792.4 388.4 792 388.8 791.6 391.8 791.2 393.7 790.8 395.1 790.4 398.1 790 400.8 789.6 399.7 789.2 402.5 788.8 401.6 788.4 403.9 788 404.1 787.6 405.2 787.2 404.1 786.8 403.9 786.4 405 786 402.2 785.6 404.1 785.2 405.5 784.8 407 784.4 407.5 784 407.9 783.6 408 783.2 408.8 782.8 410.8 782.4 410.7 782 410.5 781.6 410.8 781.2 413.4 780.8 413.7 780.4 413.2 780 414.6 779.6 413.4 779.2 416.1 778.8 416.8 778.4 415.9 778 417.1 777.6 416.3 777.2 416.6 776.8 412.9 776.4 412.8 776 413.7 775.6 409 775.2 406.4 774.8 409 774.4 406.2 774 407.1 773.6 405.3 773.2 405.8 772.8 404.6 772.4 405.3 772 402.9 771.6 401.3 771.2 399 770.8 402.6 770.4 400.1 770 396.8 769.6 397.8 769.2 394.1 768.8 393.6 768.4 392.2 768 391.8 767.6 389.1 767.2 387.2 766.8 385.2 766.4 382.2 766 383.1 765.6 379 765.2 378.4 764.8 376 764.4 375.6 764 373.4 763.6 373.2 763.2 370.9 762.8 369.4 762.4 366.3 762 365.6 761.6 361.7 761.2 363.3 760.8 361.7 760.4 361.1 760 360.4 759.6 356.8 759.2 354.5 758.8 353.4 758.4 353.8 758 352 757.6 349.2 757.2 350.4 756.8 345.9 756.4 344.3 756 342.2 755.6 338.7 755.2 339.5 754.8 335.9 754.4 334.4 754 333.8 753.6 331.1 753.2 332.2 752.8 332.6 752.4 332.8 752 329.6 751.6 328.7 751.2 329.6 750.8 327.1 750.4 329.2 750 326.5 749.6 327.5 749.2 330.6 748.8 332.4 748.4 333.5 748 333.4 747.6 337.5 747.2 337.3 746.8 340.2 746.4 340.7 746 341.5 745.6 342.3 745.2 345.2 744.8 345.9 744.4 348.4 744 348.6 743.6 348.9 743.2 350.7 742.8 351.6 742.4 353.3 742 354.5 741.6 356.2 741.2 357.3 740.8 357.4 740.4 357.3 740 361 739.6 363.6 739.2 363.6 738.8 362.4 738.4 366 738 366.3 737.6 367.7 737.2 366 736.8 368.1 736.4 368.9 736 368.4 735.6 369.4 735.2 371.2 734.8 371.4 734.4 369.9 734 371.2 733.6 371 733.2 374 732.8 375.6 732.4 379 732 380.7 731.6 381.6 731.2 386.8 730.8 386.8 730.4 388.8 730 392.1 729.6 393.2 729.2 393.9 728.8 395.6 728.4 395.1 728 398.8 727.6 400.1 727.2 399.2 726.8 398.7 726.4 402.8 726 401.1 725.6 401.4 725.2 402.8 724.8 404.8 724.4 403.3 724 405.7 723.6 406.9 723.2 406.2 722.8 409.1 722.4 407 722 406.6 721.6 406.7 721.2 408 720.8 409.8 720.4 408.3 720 409.4 719.6 410.5 719.2 410.4 718.8 411.6 718.4 412 718 411.8 717.6 414.4 717.2 416.1 716.8 416.3 716.4 416.5 716 416.9 715.6 417.7 715.2 419.6 714.8 419.6 714.4 418.7 714 418.3 713.6 422.8 713.2 422.6 712.8 420.8 712.4 423.1 712 422.1 711.6 423 711.2 424.6 710.8 426.2 710.4 426 710 427 709.6 426.2 709.2 429 708.8 427.3 708.4 429.9 708 430.7 707.6 433.4 707.2 432 706.8 433.3 706.4 436.1 706 436.3 705.6 439.4 705.2 439.9 704.8 442 704.4 442.7 704 442.6 703.6 442.1 703.2 444.4 702.8 442.2 702.4 444.1 702 443.5 701.6 443.1 701.2 444.3 700.8 444 700.4 444.3 700 445.4 699.6 445.5 699.2 446.1 698.8 447.9 698.4 445.7 698 446.3 697.6 448.1 697.2 447.7 696.8 443.8 696.4 445.8 696 442.3 695.6 443.1 695.2 443 694.8 442.8 694.4 438.9 694 439.2 693.6 437.2 693.2 437 692.8 436.7 692.4 436.1 692 437.4 691.6 437.5 691.2 437.6 690.8 440.5 690.4 443.4 690 443.1 689.6 440.8 689.2 443.8 688.8 443.3 688.4 442.3 688 443.9 687.6 443 687.2 443.8 686.8 445.3 686.4 442.5 686 443.4 685.6 444 685.2 443.1 684.8 443.4 684.4 443 684 441.3 683.6 440.2 683.2 440.2 682.8 442.4 682.4 441.6 682 438.1 681.6 437.2 681.2 437.2 680.8 439.5 680.4 439.1 680 438.2 679.6 436.6 679.2 436.9 678.8 437.2 678.4 436.5 678 440.9 677.6 441.3 677.2 439.7 676.8 439.7 676.4 437.1 676 439.7 675.6 440.3 675.2 438.5 674.8 438.8 674.4 441.2 674 439 673.6 439.4 673.2 436.7 672.8 439.3 672.4 441.5 672 439.3 671.6 440.4 671.2 441.5 670.8 439.3 670.4 440.6 670 441.8 669.6 440.8 669.2 441 668.8 442.6 668.4 441.9 668 440 667.6 440.5 667.2 440.7 666.8 442.8 666.4 441.5 666 441.7 665.6 440.2 665.2 440.9 664.8 441.8 664.4 442.7 664 439.3 663.6 440.2 663.2 440.5 662.8 440.8 662.4 438.5 662 438.5 661.6 440 661.2 438.1 660.8 439.8 660.4 436 660 439.1 659.6 435.3 659.2 435.5 658.8 433.8 658.4 435.3 658 435.3 657.6 432 657.2 431.2 656.8 432.5 656.4 430.3 656 429.8 655.6 427.8 655.2 428.3 654.8 427.1 654.4 426.6 654 425.3 653.6 424.7 653.2 424.2 652.8 420.9 652.4 422 652 420 651.6 420.6 651.2 422.3 650.8 422.7 650.4 423.5 650 422.5 649.6 421.3 649.2 426.3 648.8 424.3 648.4 424.6 648 425.5 647.6 423.6 647.2 425.5 646.8 425.6 646.4 425.7 646 426 645.6 425.1 645.2 425.6 644.8 424.8 644.4 425 644 421.6 643.6 423 643.2 421.7 642.8 421.1 642.4 420.7 642 421.1 641.6 419.5 641.2 418.7 640.8 418.2 640.4 417.9 640 417.4 639.6 416 639.2 417.7 638.8 418.8 638.4 416.7 638 416 637.6 416.7 637.2 416 636.8 416.8 636.4 417 636 415.6 635.6 418.3 635.2 416.3 634.8 418.4 634.4 414.2 634 413.3 633.6 415.8 633.2 414.7 632.8 413.4 632.4 413.7 632 413.1 631.6 412.9 631.2 414.2 630.8 414.1 630.4 412.9 630 411.5 629.6 412.7 629.2 413 628.8 415.1 628.4 414.1 628 413.6 627.6 415.1 627.2 412.4 626.8 412.4 626.4 412.5 626 412.5 625.6 414.8 625.2 412.8 624.8 410.9 624.4 412.9 624 411.2 623.6 414.6 623.2 415.9 622.8 415 622.4 414.7 622 413.6 621.6 413.2 621.2 414 620.8 415.7 620.4 413.6 620 414.9 619.6 413.5 619.2 415.1 618.8 413 618.4 415.6 618 414 617.6 414.3 617.2 411.9 616.8 413 616.4 412 616 411.7 615.6 412.6 615.2 413.2 614.8 410 614.4 409 614 410.5 613.6 407.7 613.2 407.8 612.8 407.9 612.4 407.3 612 406.8 611.6 406.9 611.2 405.9 610.8 408.2 610.4 409.3 610 409.5 609.6 410.8 609.2 412.7 608.8 415.3 608.4 415.3 608 418.3 607.6 417 607.2 418.9 606.8 417.9 606.4 419.4 606 419.4 605.6 419.1 605.2 418.6 604.8 418.3 604.4 418.1 604 418.4 603.6 418.9 603.2 420 602.8 419.9 602.4 418.9 602 418.4 601.6 419.1 601.2 422 600.8 421.9 600.4 421.4 600 423.4 599.6 422.3 599.2 424.4 598.8 423.4 598.4 422.8 598 425.3 597.6 426.9 597.2 427.5 596.8 427.7 596.4 424.4 596 426.1 595.6 428.6 595.2 425.8 594.8 428.1 594.4 428.7 594 427.6 593.6 427.9 593.2 430 592.8 426.9 592.4 429.8 592 428.2 591.6 431 591.2 432.2 590.8 432.3 590.4 430.6 590 432.2 589.6 435.2 589.2 433.1 588.8 431.9 588.4 435.1 588 432.9 587.6 435.4 587.2 435.1 586.8 438.2 586.4 437.4 586 440.1 585.6 439.7 585.2 442.8 584.8 444 584.4 445.7 584 444.9 583.6 444.2 583.2 445.5 582.8 444.4 582.4 446.5 582 444.9 581.6 445.2 581.2 444.4 580.8 441.2 580.4 443.8 580 445.1 579.6 441.8 579.2 443.5 578.8 447.4 578.4 444.9 578 444.8 577.6 446.8 577.2 446 576.8 446.8 576.4 446.4 576 447.3 575.6 447.3 575.2 445.7 574.8 446.4 574.4 444.4 574 443.8 573.6 444.1 573.2 443 572.8 442.9 572.4 440.5 572 440.9 571.6 440.7 571.2 439.2 570.8 440.3 570.4 441.9 570 441.2 569.6 443 569.2 443.5 568.8 446.6 568.4 447.1 568 448.9 567.6 449.9 567.2 449.8 566.8 452.5 566.4 451.2 566 452.5 565.6 450.6 565.2 452.5 564.8 449.5 564.4 448.9 564 449.6 563.6 449.1 563.2 447.5 562.8 447.8 562.4 447.3 562 446.8 561.6 444.9 561.2 446.7 560.8 446.1 560.4 446.6 560 444.4 559.6 443.5 559.2 446.9 558.8 443.1 558.4 445.2 558 444.4 557.6 444.4 557.2 440.9 556.8 443.1 556.4 441.3 556 441.1 555.6 441.1 555.2 440.5 554.8 438.9 554.4 438.9 554 438.9 553.6 438.2 553.2 439.9 552.8 441.8 552.4 440.2 552 439.5 551.6 439 551.2 440.1 550.8 437.4 550.4 437.4 550 437 549.6 435.3 549.2 437.1 548.8 437.5 548.4 436.4 548 437.9 547.6 441.5 547.2 442.6 546.8 440.6 546.4 441 546 442.1 545.6 441 545.2 439.9 544.8 442.2 544.4 442 544 441.7 543.6 441.7 543.2 440.3 542.8 441.6 542.4 440 542 439.8 541.6 440.9 541.2 439.5 540.8 440.7 540.4 441.2 540 438.6 539.6 441.5 539.2 440.2 538.8 438.4 538.4 436.3 538 437.2 537.6 437.9 537.2 434.4 536.8 434.1 536.4 434.1 536 431.2 535.6 429.6 535.2 433 534.8 430.2 534.4 430.4 534 430.6 533.6 426.8 533.2 428.4 532.8 427.6 532.4 424.9 532 426 531.6 426.8 531.2 425.1 530.8 425.2 530.4 423.3 530 422 529.6 421.9 529.2 422.6 528.8 422.8 528.4 423.9 528 424.9 527.6 422 527.2 426.2 526.8 425.2 526.4 423.8 526 424.4 525.6 424.1 525.2 425.9 524.8 425.7 524.4 425.4 524 425.6 523.6 426.3 523.2 425.8 522.8 425.6 522.4 424 522 424.5 521.6 426.5 521.2 426.1 520.8 424.5 520.4 425.7 520 425 519.6 424.3 519.2 424.5 518.8 423.7 518.4 423.9 518 421 517.6 421.9 517.2 420.7 516.8 421.6 516.4 419.3 516 418.7 515.6 418.1 515.2 415.5 514.8 416.7 514.4 416.1 514 416.5 513.6 416.8 513.2 414.7 512.8 413.8 512.4 415.3 512 414 511.6 415.3 511.2 415.4 510.8 413.9 510.4 414.3 510 415.8 509.6 414.2 509.2 413.7 508.8 414.8 508.4 415.4 508 415 507.6 415.8 507.2 414.5 506.8 416.2 506.4 415.9 506 415.7 505.6 416.1 505.2 416.6 504.8 417.3 504.4 415.6 504 416.3 503.6 418.1 503.2 416 502.8 416.5 502.4 417.3 502 418.6 501.6 419.2 501.2 416.4 500.8 417.3 500.4 416.9 500 417 499.6 414.4 499.2 417.5 498.8 416 498.4 416.7 498 415.3 497.6 415.1 497.2 415.8 496.8 413.1 496.4 415.6 496 415.2 495.6 415.4 495.2 416.2 494.8 413.8 494.4 412.5 494 410.3 493.6 410.8 493.2 409.4 492.8 409.8 492.4 408 492 405.6 491.6 405.8 491.2 405.1 490.8 401.7 490.4 402.7 490 401.8 489.6 401.1 489.2 398.9 488.8 402.4 488.4 399.8 488 403.2 487.6 400.3 487.2 401.1 486.8 403.3 486.4 402.6 486 403.6 485.6 405.4 485.2 404.3 484.8 405.3 484.4 406.1 484 404.1 483.6 404.4 483.2 404.6 482.8 405 482.4 406.4 482 405.9 481.6 408.1 481.2 406.6 480.8 405.6 480.4 407.4 480 408.2 479.6 405.9 479.2 408 478.8 407.2 478.4 407.1 478 407 477.6 404.4 477.2 406.5 476.8 406.3 476.4 406.3 476 404.6 475.6 404 475.2 403 474.8 405.2 474.4 402.8 474 402.9 473.6 404 473.2 403.6 472.8 403.7 472.4 402.9 472 405.2 471.6 403.6 471.2 405.1 470.8 404 470.4 404.7 470 407.7 469.6 404.7 469.2 406 468.8 406.4 468.4 406.2 468 407 467.6 409.4 467.2 407.9 466.8 411 466.4 411 466 408.8 465.6 412.6 465.2 412.5 464.8 411 464.4 412.5 464 417.2 463.6 414.1 463.2 415.5 462.8 413.7 462.4 415.9 462 415.6 461.6 417.8 461.2 415.3 460.8 415.2 460.4 415.1 460 415.7 459.6 415.3 459.2 416 458.8 416.8 458.4 416.4 458 415.2 457.6 415.1 457.2 416.6 456.8 416 456.4 416.3 456 416.3 455.6 416.6 455.2 415.2 454.8 415.9 454.4 413.1 454 414.2 453.6 415.5 453.2 414.8 452.8 412.4 452.4 414.2 452 411.9 451.6 412.6 451.2 410.9 450.8 410.5 450.4 410.4 450 409.6 449.6 407.7 449.2 407.3 448.8 406.6 448.4 407.7 448 409.2 447.6 410 447.2 410 446.8 412.8 446.4 413 446 412 445.6 412.9 445.2 413.3 444.8 415.7 444.4 416.6 444 418.4 443.6 418.1 443.2 418.9 442.8 419 442.4 419.1 442 415.4 441.6 416.7 441.2 416.4 440.8 417.9 440.4 417.7 440 417.6 439.6 417.2 439.2 418 438.8 417.5 438.4 417.4 438 415.8 437.6 414.5 437.2 414.6 436.8 416.4 436.4 414.5 436 414.2 435.6 414.1 435.2 414.8 434.8 415.4 434.4 414.8 434 415.7 433.6 416.7 433.2 417.2 432.8 417.6 432.4 417 432 418.8 431.6 418.5 431.2 419.9 430.8 417.9 430.4 419.9 430 418.2 429.6 418.8 429.2 420.5 428.8 420.7 428.4 419.9 428 417.8 427.6 418.2 427.2 419.5 426.8 422.4 426.4 420.9 426 421.6 425.6 424.2 425.2 421 424.8 424.7 424.4 426.1 424 426.2 423.6 426.5 423.2 427.2 422.8 426.1 422.4 428.4 422 429.4 421.6 428.4 421.2 426 420.8 427.7 420.4 427.2 420 430.1 419.6 429.9 419.2 431.9 418.8 431 418.4 431.8 418 433 417.6 433.3 417.2 433 416.8 432.9 416.4 430.3 416 427.7 415.6 431.9 415.2 431.1 414.8 428 414.4 429.3 414 427.6 413.6 427.1 413.2 428.4 412.8 428.2 412.4 427.9 412 427.4 411.6 427.6 411.2 423.8 410.8 428.4 410.4 424.8 410 424.5 409.6 424.6 409.2 423.6 408.8 422.9 408.4 420.8 408 420.3 407.6 420.6 407.2 421.1 406.8 421.1 406.4 422.4 406 421.4 405.6 423.6 405.2 424.2 404.8 422.3 404.4 424.9 404 426.4 403.6 427 403.2 427.6 402.8 426.3 402.4 426.4 402 427.5 401.6 428.3 401.2 428.5 400.8 428.1 400.4 431.2 400 430.7 399.6 430.4 399.2 434.7 398.8 431.8 398.4 431.4 398 431.4 397.6 432.8 397.2 433.2 396.8 433.1 396.4 432.2 396 432.2 395.6 429.9 395.2 431 394.8 430 394.4 430.3 394 429.7 393.6 429.7 393.2 428.5 392.8 429.6 392.4 431.4 392 430.6 391.6 432.1 391.2 432.2 390.8 431.1 390.4 432.8 390 432.5 389.6 431.9 389.2 431.5 388.8 433.1 388.4 431.8 388 431.2 387.6 431.5 387.2 429 386.8 430.9 386.4 432.2 386 434.6 385.6 434.6 385.2 436.2 384.8 434.5 384.4 436.9 384 437.7 383.6 437 383.2 440.5 382.8 437.9 382.4 437.7 382 439 381.6 441.5 381.2 440.1 380.8 441.7 380.4 440.1 380 438.9 379.6 441.4 379.2 440.3 378.8 438.8 378.4 440 378 441 377.6 439.7 377.2 438.8 376.8 441.3 376.4 439.9 376 442.1 375.6 438.9 375.2 441.5 374.8 441.1 374.4 440.9 374 439.4 373.6 440.8 373.2 441.1 372.8 440.5 372.4 439.8 372 435.5 371.6 436.6 371.2 436.7 370.8 436.6 370.4 434.8 370 433.3 369.6 434.1 369.2 433.2 368.8 431 368.4 430.8 368 431.6 367.6 430.5 367.2 429.6 366.8 428.9 366.4 428 366 429.5 365.6 431.3 365.2 432.8 364.8 432.9 364.4 433.7 364 433.9 363.6 433.9 363.2 433.3 362.8 434.5 362.4 435.4 362 436.2 361.6 435.8 361.2 436.7 360.8 438.4 360.4 435.6 360 436.5 359.6 434.8 359.2 435.8 358.8 434.7 358.4 434.5 358 431.5 357.6 434.6 357.2 434.9 356.8 435.3 356.4 435.1 356 433.7 355.6 434.3 355.2 434.9 354.8 435.7 354.4 433.7 354 433.4 353.6 431.8 353.2 433 352.8 432.8 352.4 431.8 352 430 351.6 432.6 351.2 434.2 350.8 432.2 350.4 430.2 350 430.8 349.6 432.8 349.2 428.8 348.8 428.2 348.4 428.4 348 430 347.6 428.3 347.2 425.3 346.8 424.7 346.4 426.1 346 425.7 345.6 425.3 345.2 424.6 344.8 426 344.4 425.9 344 425.3 343.6 424.2 343.2 428.7 342.8 426.4 342.4 428.2 342 428.8 341.6 430.2 341.2 429.6 340.8 428.3 340.4 429.7 340 431 339.6 430.8 339.2 434.9 338.8 432.1 338.4 431 338 429.4 337.6 430.2 337.2 428 336.8 430.8 336.4 430.5 336 430.1 335.6 431.1 335.2 427.1 334.8 431 334.4 429.2 334 427.3 333.6 430.5 333.2 430.6 332.8 428.8 332.4 431.2 332 426.4 331.6 428.5 331.2 427 330.8 426.2 330.4 424.6 330 424.5 329.6 423.8 329.2 425.5 328.8 424.3 328.4 424.7 328 424.1 327.6 424.3 327.2 422.4 326.8 424.4 326.4 424 326 425 325.6 425.3 325.2 426.5 324.8 427.3 324.4 427.7 324 426.4 323.6 426 323.2 428.5 322.8 426.5 322.4 430 322 427.6 321.6 430.2 321.2 429.4 320.8 429.7 320.4 429.9 320 430.9 319.6 432.6 319.2 431.4 318.8 431.1 318.4 432.4 318 431.4 317.6 428.7 317.2 430.9 316.8 430.8 316.4 429.4 316 430 315.6 430.2 315.2 426.9 314.8 427.3 314.4 429.5 314 428.3 313.6 428.4 313.2 430.2 312.8 430.5 312.4 432.9 312 431.3 311.6 430.7 311.2 430.8 310.8 433.6 310.4 434.4 310 435.5 309.6 434.4 309.2 435.8 308.8 436.6 308.4 434.2 308 435.6 307.6 436.6 307.2 437.8 306.8 438.6 306.4 440.7 306 440.9 305.6 441.7 305.2 442.4 304.8 445.4 304.4 445.8 304 447.2 303.6 449.7 303.2 449.9 302.8 450.6 302.4 450.2 302 452.7 301.6 450.7 301.2 452.4 300.8 453.8 300.4 454.1 300 454.4 299.6 454.8 299.2 455.1 298.8 457.7 298.4 457.7 298 460.5 297.6 460.3 297.2 462 296.8 460.8 296.4 462.7 296 464 295.6 465.8 295.2 464.9 294.8 464.5 294.4 465.2 294 462.4 293.6 463.9 293.2 467.5 292.8 467.9 292.4 466.7 292 467.7 291.6 469 291.2 470.1 290.8 469.8 290.4 471.2 290 471.9 289.6 473.4 289.2 473.9 288.8 471.2 288.4 470.3 288 469.6 287.6 469.8 287.2 468.8 286.8 470.5 286.4 470.1 286 469.5 285.6 470.7 285.2 468.4 284.8 469 284.4 472 284 474.2 283.6 473.8 283.2 477.9 282.8 475.8 282.4 476.9 282 476.4 281.6 479.3 281.2 481.2 280.8 479.8 280.4 483.8 280 482 279.6 483.2 279.2 484 278.8 483.4 278.4 484.4 278 486.3 277.6 484.6 277.2 486.2 276.8 484.4 276.4 485.6 276 485.2 275.6 487 275.2 486.1 274.8 486.4 274.4 485.9 274 485.1 273.6 485.2 273.2 485.3 272.8 487.5 272.4 485.4 272 490.4 271.6 488.7 271.2 489 270.8 491.9 270.4 489.5 270 491.4 269.6 491.4 269.2 491.4 268.8 492.9 268.4 494.1 268 491 267.6 490.5 267.2 493.3 266.8 493.5 266.4 495 266 494.8 265.6 495.5 265.2 496.6 264.8 497.6 264.4 497.3 264 496.7 263.6 499.3 263.2 498.2 262.8 500.2 262.4 499.3 262 504.1 261.6 502.2 261.2 500.7 260.8 504.3 260.4 504.1 260 504.1 259.6 507.8 259.2 509.4 258.8 508.4 258.4 511.4 258 510.7 257.6 513.3 257.2 515.4 256.8 514.8 256.4 515.9 256 517 255.6 516.3 255.2 514.6 254.8 516.9 254.4 518.1 254 517.9 253.6 517.7 253.2 516 252.8 516 252.4 518.7 252 520.1 251.6 516.7 251.2 517.2 250.8 517.6 250.4 516.8 250 516 249.6 514.2 249.2 516.7 248.8 516.8 248.4 513.6 248 512.1 247.6 510.4 247.2 509.4 246.8 509.1 246.4 508.1 246 506.5 245.6 506.5 245.2 502.4 244.8 503.2 244.4 502.5 244 499.9 243.6 502.7 243.2 503.5 242.8 504 242.4 505.1 242 506.2 241.6 508.4 241.2 507.7 240.8 510.2 240.4 508.4 240 505.8 239.6 506.9 239.2 507.8 238.8 507.4 238.4 507.9 238 506.9 237.6 507.6 237.2 506.9 236.8 508.4 236.4 509.4 236 507.3 235.6 506.7 235.2 505.7 234.8 506.3 234.4 506.2 234 505.4 233.6 505.3 233.2 504.6 232.8 504.5 232.4 504.6 232 505.5 231.6 504.7 231.2 504.4 230.8 504.4 230.4 504.9 230 504.1 229.6 504.5 229.2 502.7 228.8 503.6 228.4 502.7 228 500.5 227.6 502.1 227.2 501.9 226.8 498.6 226.4 499.7 226 500.3 225.6 498.5 225.2 499.6 224.8 498.7 224.4 499.9 224 499.7 223.6 502.3 223.2 503.3 222.8 504 222.4 505.5 222 505.1 221.6 504.2 221.2 504.5 220.8 506.2 220.4 508.5 220 507.2 219.6 507.6 219.2 508.3 218.8 509.6 218.4 508.8 218 507.1 217.6 508.5 217.2 507.6 216.8 508.1 216.4 507.4 216 507.2 215.6 507.5 215.2 507.6 214.8 505.2 214.4 505.1 214 503.3 213.6 504.1 213.2 503.6 212.8 503.5 212.4 503.1 212 505.3 211.6 505.1 211.2 505.8 210.8 505.5 210.4 503.7 210 504.5 209.6 503 209.2 502.4 208.8 505 208.4 501.8 208 502.3 207.6 501.7 207.2 503.4 206.8 500.9 206.4 502.2 206 499.7 205.6 499.2 205.2 500 204.8 498.9 204.4 498.8 204 494.4 203.6 493.8 203.2 494.9 202.8 496.3 202.4 492.7 202 496.4 201.6 496 201.2 493.3 200.8 496.2 200.4 496.2 200 498.7 199.6 496.9 199.2 498.9 198.8 498.6 198.4 498.9 198 499.4 197.6 500.4 197.2 500.4 196.8 497.4 196.4 496.3 196 497 195.6 497.4 195.2 496 194.8 496.2 194.4 494.5 194 494.3 193.6 493.8 193.2 495.5 192.8 497 192.4 494.1 192 495.2 191.6 492.2 191.2 493.7 190.8 493.3 190.4 491.1 190 492.2 189.6 493.6 189.2 492 188.8 492.1 188.4 491.8 188 494.5 187.6 494.2 187.2 492.8 186.8 495.4 186.4 492.9 186 493 185.6 492.8 185.2 491.9 184.8 492.8 184.4 493.2 184 489.8 183.6 492.2 183.2 492.2 182.8 492.7 182.4 491.7 182 492.1 181.6 493.5 181.2 492.5 180.8 493.1 180.4 493.1 180 493.5 179.6 492.7 179.2 493.5 178.8 494.2 178.4 493.9 178 493.8 177.6 493.5 177.2 494.8 176.8 494.4 176.4 494.6 176 492.9 175.6 495 175.2 496.2 174.8 496.8 174.4 494.3 174 498.3 173.6 497.2 173.2 496.3 172.8 496.2 172.4 493.2 172 491.8 171.6 491.2 171.2 489.4 170.8 490.5 170.4 488.9 170 488.7 169.6 488.4 169.2 488.8 168.8 488.6 168.4 487.8 168 486.6 167.6 486.9 167.2 483.9 166.8 486.6 166.4 483.4 166 481.7 165.6 480.2 165.2 480.6 164.8 478 164.4 476.9 164 473.3 163.6 472.9 163.2 470.8 162.8 470.8 162.4 470 162 471.9 161.6 467.3 161.2 468.9 160.8 469.6 160.4 470.8 160 470.2 159.6 470.9 159.2 470.5 158.8 470.9 158.4 469.5 158 471.7 157.6 470.2 157.2 467.5 156.8 466.6 156.4 468.6 156 467.3 155.6 464.3 155.2 465.3 154.8 466.8 154.4 464.6 154 464.9 153.6 463.4 153.2 462 152.8 463.2 152.4 462.6 152 461.7 151.6 461.7 151.2 461.4 150.8 460.3 150.4 460 150 456.6 149.6 456.9 149.2 457.6 148.8 455.2 148.4 455.1 148 455.4 147.6 453.2 147.2 452.4 146.8 454.6 146.4 451.9 146 450.3 145.6 447.7 145.2 448 144.8 446.3 144.4 444.8 144 444.4 143.6 441.6 143.2 439.3 142.8 438.5 142.4 437.4 142 435.1 141.6 435.2 141.2 432.7 140.8 432.7 140.4 431.5 140 431.9 139.6 429.8 139.2 428.1 138.8 428.5 138.4 429.2 138 429 137.6 428.9 137.2 428.1 136.8 424.7 136.4 425.7 136 421.6 135.6 424.1 135.2 421.3 134.8 420.4 134.4 417.8 134 417.4 133.6 417.1 133.2 414.9 132.8 413.6 132.4 410.2 132 410.1 131.6 408.1 131.2 409.4 130.8 406.7 130.4 403.9 130 405.5 129.6 403.1 129.2 402.5 128.8 400.2 128.4 399.5 128 398.3 127.6 396.6 127.2 396.2 126.8 393 126.4 390.7 126 389.5 125.6 387 125.2 385 124.8 385.5 124.4 384.2 124 379.7 123.6 381 123.2 378.6 122.8 377.6 122.4 377.6 122 376.4 121.6 375.9 121.2 374.2 120.8 373.4 120.4 371.1 120 370Z" fill="#0072B2" fill-opacity="0.2"/>
<path d="M120 307.9 120.4 308 120.8 310.3 121.2 312.8 121.6 312.1 122 312.5 122.4 315.5 122.8 314.8 123.2 317.5 123.6 317 124 318.8 124.4 318.9 124.8 320.2 125.2 321.5 125.6 322 126 323.8 126.4 326 126.8 326.1 127.2 326.3 127.6 327.7 128 330.1 128.4 331.9 128.8 334.7 129.2 336.3 129.6 337.6 130 339.2 130.4 339.7 130.8 340.6 131.2 344.9 131.6 345.2 132 347 132.4 348.8 132.8 352.1 133.2 351.2 133.6 354.4 134 355 134.4 356 134.8 356.1 135.2 358.9 135.6 360.3 136 361.6 136.4 364.6 136.8 363.3 137.2 364.5 137.6 365 138 367 138.4 366.4 138.8 367.2 139.2 371.8 139.6 368.6 140 371.6 140.4 372.1 140.8 372.6 141.2 373.2 141.6 374.3 142 375 142.4 375.9 142.8 377.7 143.2 377.9 143.6 379 144 381.5 144.4 381.2 144.8 384.3 145.2 384.3 145.6 386.8 146 387.2 146.4 387.5 146.8 387.7 147.2 389.1 147.6 389.7 148 391.7 148.4 393 148.8 392.7 149.2 391.5 149.6 392.4 150 391.7 150.4 393.3 150.8 394.8 151.2 395.7 151.6 395.5 152 395.6 152.4 398.6 152.8 399.5 153.2 398.9 153.6 404.8 154 402.6 154.4 402 154.8 404.3 155.2 403.9 155.6 406.7 156 403.9 156.4 404.4 156.8 405.7 157.2 406.7 157.6 408.4 158 406.4 158.4 407.7 158.8 408.6 159.2 408.9 159.6 410.4 160 410.3 160.4 412.7 160.8 410.4 161.2 411.3 161.6 411.9 162 411.1 162.4 410.9 162.8 410.8 163.2 410.8 163.6 410.1 164 411.7 164.4 411.5 164.8 414.8 165.2 412.9 165.6 419.3 166 419.9 166.4 420.7 166.8 420.5 167.2 421.2 167.6 424.2 168 423.9 168.4 425.3 168.8 424.5 169.2 427 169.6 425.2 170 426.4 170.4 425.5 170.8 428.3 171.2 430.8 171.6 430.9 172 431.2 172.4 432.6 172.8 431.9 173.2 434.8 173.6 431.6 174 435.3 174.4 434.9 174.8 431.9 175.2 432 175.6 433.7 176 431.8 176.4 432.1 176.8 433.9 177.2 431.9 177.6 432.2 178 429.9 178.4 430.3 178.8 430.9 179.2 430.3 179.6 427.5 180 430.7 180.4 430.3 180.8 428.4 181.2 430.9 181.6 427.9 182 431.6 182.4 430.3 182.8 431.4 183.2 428.8 183.6 427.9 184 428.6 184.4 428.9 184.8 429.9 185.2 430.8 185.6 429.2 186 431.3 186.4 430.1 186.8 430.5 187.2 430.7 187.6 431.1 188 433.6 188.4 433.1 188.8 431.3 189.2 430.5 189.6 432.8 190 430.3 190.4 432.7 190.8 431.4 191.2 429.1 191.6 430.7 192 430.3 192.4 432.5 192.8 433.3 193.2 432.2 193.6 433.4 194 432.8 194.4 431.5 194.8 432 195.2 436.2 195.6 434.7 196 435 196.4 435.1 196.8 436.2 197.2 434.9 197.6 437.4 198 438.9 198.4 437.5 198.8 435.9 199.2 436.4 199.6 435 200 435.3 200.4 437.4 200.8 437.5 201.2 435.2 201.6 432.9 202 433.7 202.4 429.9 202.8 430.4 203.2 432.1 203.6 431.8 204 431.5 204.4 431.7 204.8 435.6 205.2 435.5 205.6 435.6 206 437.5 206.4 437.2 206.8 436.8 207.2 440.7 207.6 439.2 208 438.2 208.4 438.2 208.8 439.5 209.2 439.4 209.6 441.1 210 440.2 210.4 442.3 210.8 441.4 211.2 441.1 211.6 440.1 212 441.9 212.4 444.1 212.8 447.3 213.2 442.2 213.6 442.5 214 444.1 214.4 444.5 214.8 443.5 215.2 444.6 215.6 443.7 216 445 216.4 445.7 216.8 446.6 217.2 445.8 217.6 445.4 218 446.2 218.4 446.1 218.8 445.7 219.2 444.2 219.6 444.3 220 444.3 220.4 442.4 220.8 440.9 221.2 442 221.6 441.7 222 441.4 222.4 438.9 222.8 437.4 223.2 436.6 223.6 436 224 436.4 224.4 437.1 224.8 436.9 225.2 438.3 225.6 435.9 226 437.1 226.4 437.8 226.8 439.5 227.2 439.4 227.6 438.7 228 439.8 228.4 438.9 228.8 438.5 229.2 440.5 229.6 440 230 441.7 230.4 441.7 230.8 441.8 231.2 440.7 231.6 440.6 232 442.3 232.4 442 232.8 443.6 233.2 443.8 233.6 443.5 234 443.2 234.4 446.1 234.8 447.5 235.2 446.8 235.6 447.2 236 448 236.4 445.6 236.8 445.8 237.2 444.8 237.6 446.9 238 445.7 238.4 443.6 238.8 442.2 239.2 443 239.6 444.7 240 444.4 240.4 446 240.8 447.1 241.2 444.5 241.6 444.9 242 443.8 242.4 442 242.8 441.2 243.2 442.4 243.6 441.3 244 440.7 244.4 440.5 244.8 441.1 245.2 441.6 245.6 442.7 246 445.9 246.4 447.1 246.8 448.9 247.2 447.7 247.6 450.6 248 450.4 248.4 450.5 248.8 451.4 249.2 451.8 249.6 453.5 250 451.4 250.4 453.8 250.8 453 251.2 452.8 251.6 454.1 252 454.5 252.4 452.7 252.8 454 253.2 454.3 253.6 452.7 254 454.3 254.4 452.7 254.8 452.6 255.2 451.9 255.6 453.5 256 451.6 256.4 450.4 256.8 451.5 257.2 448.8 257.6 448 258 446.2 258.4 448.7 258.8 446.5 259.2 446.1 259.6 444.3 260 442.8 260.4 441.4 260.8 440.7 261.2 441.2 261.6 440.2 262 441.1 262.4 437.2 262.8 437 263.2 435.9 263.6 437.7 264 434.1 264.4 436 264.8 437 265.2 434.5 265.6 434.9 266 431.8 266.4 432.3 266.8 430.5 267.2 431.3 267.6 431.2 268 430.1 268.4 430.8 268.8 428.7 269.2 427.6 269.6 426.9 270 425.4 270.4 426.7 270.8 428.5 271.2 425.8 271.6 426.8 272 425.8 272.4 427.1 272.8 426.9 273.2 426.2 273.6 425.2 274 426.5 274.4 428.4 274.8 427 275.2 427.4 275.6 425.5 276 423.7 276.4 425.3 276.8 423.8 277.2 422 277.6 420.6 278 420.6 278.4 419.6 278.8 419.6 279.2 419 279.6 416.8 280 418.4 280.4 418.1 280.8 418.3 281.2 418.1 281.6 417.2 282 417.2 282.4 416.7 282.8 415.6 283.2 412.2 283.6 411.2 284 411.3 284.4 408 284.8 405.9 285.2 406 285.6 405.8 286 405.8 286.4 406.3 286.8 404.9 287.2 405.3 287.6 405.6 288 406.2 288.4 404.7 288.8 406.5 289.2 406.2 289.6 409 290 408.6 290.4 408.3 290.8 407.1 291.2 405.9 291.6 407.7 292 406.5 292.4 406.9 292.8 405.2 293.2 404.9 293.6 405.9 294 407.1 294.4 405 294.8 406.9 295.2 407.1 295.6 402.7 296 403.3 296.4 401.1 296.8 401.8 297.2 400.5 297.6 399.2 298 398.8 298.4 397.2 298.8 396 299.2 394.8 299.6 392.8 300 392 300.4 392.1 300.8 390.7 301.2 389.7 301.6 386.4 302 387.6 302.4 387.9 302.8 384.5 303.2 381 303.6 383.6 304 381.5 304.4 377.5 304.8 379 305.2 379.2 305.6 379.9 306 380 306.4 378.6 306.8 377.8 307.2 375.9 307.6 375.6 308 375.7 308.4 376.1 308.8 372.7 309.2 373.7 309.6 373.2 310 369.9 310.4 369.6 310.8 369.8 311.2 369 311.6 367.9 312 365.3 312.4 367.6 312.8 367.4 313.2 368.3 313.6 367.9 314 368.8 314.4 368.6 314.8 368.1 315.2 369.6 315.6 370.6 316 370.2 316.4 371.1 316.8 368.2 317.2 369.9 317.6 368.8 318 367.6 318.4 368.9 318.8 367.9 319.2 368.4 319.6 368.5 320 368.7 320.4 367.3 320.8 367.7 321.2 365.5 321.6 367 322 367 322.4 366.1 322.8 365.5 323.2 364.3 323.6 363.7 324 364.3 324.4 362.8 324.8 362.5 325.2 364.5 325.6 362.5 326 365.2 326.4 362.7 326.8 364.5 327.2 361.9 327.6 363.5 328 362.7 328.4 363.6 328.8 362.8 329.2 363.3 329.6 364.8 330 366.5 330.4 364.5 330.8 367 331.2 367.3 331.6 367.5 332 369.9 332.4 365.8 332.8 368.9 333.2 367.6 333.6 368.2 334 368.1 334.4 371.7 334.8 367.2 335.2 368.9 335.6 367.9 336 365.8 336.4 366.4 336.8 367.9 337.2 365.7 337.6 366.3 338 366.6 338.4 364.8 338.8 365.1 339.2 365.7 339.6 365.9 340 365.1 340.4 365.7 340.8 364.5 341.2 365.2 341.6 366.2 342 365.3 342.4 364.6 342.8 363.5 343.2 363.8 343.6 365.2 344 362.2 344.4 364.2 344.8 363.5 345.2 362.6 345.6 363.9 346 362.7 346.4 362.9 346.8 363.3 347.2 363.7 347.6 366.3 348 362.5 348.4 364.9 348.8 365.4 349.2 366.9 349.6 365.2 350 363.5 350.4 367.8 350.8 366.4 351.2 368.5 351.6 367.2 352 367.9 352.4 368.4 352.8 369.2 353.2 371 353.6 370.7 354 372.4 354.4 372 354.8 372.7 355.2 373.1 355.6 374.7 356 373.2 356.4 373.9 356.8 375.7 357.2 375.6 357.6 375.2 358 377.9 358.4 375.9 358.8 376.6 359.2 376.9 359.6 378 360 375.3 360.4 380.1 360.8 377.3 361.2 375.5 361.6 376.5 362 377.6 362.4 375.5 362.8 374.4 363.2 373.9 363.6 375 364 371.9 364.4 372.9 364.8 372.2 365.2 373.3 365.6 370.4 366 371.5 366.4 368.6 366.8 367.6 367.2 369.6 367.6 370 368 369.2 368.4 372.1 368.8 372.8 369.2 372.5 369.6 373.6 370 374.3 370.4 374.4 370.8 374.3 371.2 374.7 371.6 375.4 372 373.4 372.4 374.4 372.8 372.7 373.2 375.1 373.6 375.3 374 375.2 374.4 377.6 374.8 379 375.2 378.8 375.6 375.6 376 379.5 376.4 379.4 376.8 379.5 377.2 378.3 377.6 379 378 379.2 378.4 377.6 378.8 377 379.2 376.5 379.6 377.1 380 377.5 380.4 377.9 380.8 375.1 381.2 376.4 381.6 375.4 382 375.7 382.4 376.4 382.8 376.4 383.2 373.6 383.6 374.4 384 375.2 384.4 374.4 384.8 373.4 385.2 371.4 385.6 371.4 386 371.7 386.4 370 386.8 368.5 387.2 368.9 387.6 368.6 388 366.8 388.4 368.6 388.8 367.8 389.2 367.3 389.6 368.1 390 367.5 390.4 368.2 390.8 366.9 391.2 364.6 391.6 364.6 392 366.6 392.4 364.8 392.8 365.5 393.2 365.3 393.6 366 394 363.2 394.4 366.4 394.8 365.5 395.2 367.7 395.6 368 396 365 396.4 366.8 396.8 366.3 397.2 365.7 397.6 366.5 398 366 398.4 365.7 398.8 367.4 399.2 367.3 399.6 365.4 400 364.8 400.4 368.3 400.8 366.6 401.2 365.4 401.6 362.9 402 362.2 402.4 362.4 402.8 360.6 403.2 362.8 403.6 361.9 404 361.8 404.4 359.8 404.8 359.7 405.2 360.2 405.6 361 406 360.8 406.4 360.9 406.8 361.5 407.2 360.8 407.6 362.3 408 360.7 408.4 360.5 408.8 362 409.2 363.6 409.6 362.7 410 363.4 410.4 363.7 410.8 364.3 411.2 364.8 411.6 364 412 365.5 412.4 367.9 412.8 368.3 413.2 368.7 413.6 368.9 414 368.5 414.4 367.5 414.8 369.2 415.2 367.4 415.6 367.6 416 365.2 416.4 366.7 416.8 366.6 417.2 365.4 417.6 367.3 418 365.7 418.4 367 418.8 366.7 419.2 366.3 419.6 369.4 420 367.3 420.4 366.9 420.8 365.4 421.2 366.5 421.6 365.2 422 363.2 422.4 361.4 422.8 361.4 423.2 362.2 423.6 359.8 424 359.4 424.4 358.5 424.8 360.6 425.2 358.1 425.6 356.9 426 357.2 426.4 356.8 426.8 357.5 427.2 356.9 427.6 355.7 428 354.1 428.4 353.6 428.8 354.3 429.2 354 429.6 351.9 430 354 430.4 353.6 430.8 350.7 431.2 351.3 431.6 349.9 432 352 432.4 351.1 432.8 350.8 433.2 352.3 433.6 354.5 434 351.6 434.4 350.4 434.8 351.9 435.2 352.3 435.6 354.2 436 351.4 436.4 351 436.8 352.5 437.2 352.8 437.6 352.6 438 353.8 438.4 352.4 438.8 353.6 439.2 354.1 439.6 354.9 440 354.7 440.4 353.4 440.8 353.8 441.2 356.1 441.6 356.6 442 358.7 442.4 356.2 442.8 358 443.2 355.4 443.6 354.9 444 353.8 444.4 352.8 444.8 351.5 445.2 350.3 445.6 350.4 446 348.4 446.4 348.1 446.8 346.6 447.2 345.9 447.6 347.4 448 346.5 448.4 346.8 448.8 346.1 449.2 346.7 449.6 347.7 450 347.3 450.4 350.2 450.8 351.4 451.2 351.5 451.6 350.5 452 349.6 452.4 351.1 452.8 351.8 453.2 353.7 453.6 352.4 454 352.4 454.4 355.3 454.8 352.2 455.2 353.6 455.6 353.7 456 350.7 456.4 353.5 456.8 351.9 457.2 351.8 457.6 352.2 458 353.1 458.4 354.3 458.8 354.7 459.2 355.3 459.6 354 460 355 460.4 353.9 460.8 354 461.2 352.9 461.6 354.2 462 353.4 462.4 351.4 462.8 351.9 463.2 352.5 463.6 352 464 349.1 464.4 349.7 464.8 349.8 465.2 347.6 465.6 348.1 466 343.8 466.4 347.3 466.8 345.1 467.2 342.5 467.6 345.3 468 344.7 468.4 344.3 468.8 343.5 469.2 342.1 469.6 341.8 470 342.4 470.4 343.4 470.8 343.4 471.2 342.4 471.6 342.6 472 343.5 472.4 343.6 472.8 346.2 473.2 345.4 473.6 341.3 474 341.5 474.4 340.3 474.8 340.2 475.2 342.6 475.6 341 476 341.3 476.4 341.7 476.8 342 477.2 341.9 477.6 342.1 478 343 478.4 342.6 478.8 343.3 479.2 343.7 479.6 342.3 480 343.1 480.4 342.5 480.8 344.2 481.2 343.6 481.6 342.3 482 344.6 482.4 343.1 482.8 345.2 483.2 344.3 483.6 343.2 484 343.3 484.4 344.4 484.8 345.4 485.2 343.7 485.6 344.7 486 342.4 486.4 342.7 486.8 342.1 487.2 338.9 487.6 340 488 338.6 488.4 336.5 488.8 336.8 489.2 337.4 489.6 337.8 490 336 490.4 337.5 490.8 337.7 491.2 338.9 491.6 340.6 492 339.8 492.4 339.9 492.8 342.9 493.2 343.3 493.6 343.5 494 344.2 494.4 344 494.8 347.1 495.2 347.1 495.6 345.8 496 347.2 496.4 348 496.8 348.1 497.2 349.9 497.6 349.8 498 348.4 498.4 350.8 498.8 352.4 499.2 352.9 499.6 354.3 500 351.7 500.4 353.7 500.8 353.9 501.2 355.3 501.6 357 502 354.7 502.4 354.9 502.8 354.1 503.2 356 503.6 353.5 504 355.3 504.4 354.5 504.8 354.2 505.2 350.7 505.6 351.4 506 352.1 506.4 349.4 506.8 349.6 507.2 349.8 507.6 349.2 508 349.3 508.4 350.8 508.8 350 509.2 351.2 509.6 351.8 510 353.6 510.4 352.7 510.8 354.4 511.2 351.4 511.6 355.7 512 354.3 512.4 355.3 512.8 354.3 513.2 355.4 513.6 355.7 514 353.1 514.4 354.4 514.8 354.5 515.2 354.9 515.6 353.9 516 355.6 516.4 355.1 516.8 355.6 517.2 356.2 517.6 355.8 518 359.3 518.4 358.9 518.8 360.9 519.2 358.8 519.6 358.3 520 361 520.4 359.1 520.8 361 521.2 360.9 521.6 361.1 522 361.4 522.4 362.2 522.8 364 523.2 364 523.6 362.4 524 364.1 524.4 363 524.8 364.8 525.2 363.9 525.6 365.1 526 367.9 526.4 365.4 526.8 365.9 527.2 365.2 527.6 364.3 528 365 528.4 361.5 528.8 360.2 529.2 360.6 529.6 357.3 530 358.2 530.4 360.2 530.8 359.7 531.2 360 531.6 362 532 363.1 532.4 365.5 532.8 367.9 533.2 370.4 533.6 371.3 534 369.9 534.4 370.5 534.8 372.5 535.2 371.4 535.6 371.9 536 373.2 536.4 371.5 536.8 371.8 537.2 372.3 537.6 370.9 538 373 538.4 373.9 538.8 375 539.2 372.7 539.6 376.4 540 374.9 540.4 375.6 540.8 376 541.2 377.5 541.6 377.5 542 379.5 542.4 378.1 542.8 378.7 543.2 380.8 543.6 379.1 544 380 544.4 379 544.8 377.3 545.2 377.9 545.6 375 546 378 546.4 376.6 546.8 376.6 547.2 376.3 547.6 374.7 548 373.5 548.4 373.9 548.8 373.2 549.2 372.4 549.6 372.7 550 372.8 550.4 373.9 550.8 372.3 551.2 375.7 551.6 376.5 552 376 552.4 375.2 552.8 377.4 553.2 374.9 553.6 376.7 554 378.4 554.4 374.8 554.8 377.3 555.2 377.1 555.6 378.1 556 377.7 556.4 378.3 556.8 377.6 557.2 380.2 557.6 381.8 558 381 558.4 381.2 558.8 381.9 559.2 381.8 559.6 381.5 560 381.9 560.4 382.5 560.8 382.2 561.2 380.9 561.6 384.4 562 386 562.4 383.7 562.8 384.6 563.2 386.3 563.6 387.7 564 387 564.4 387.9 564.8 386.7 565.2 387.2 565.6 387.9 566 386.8 566.4 388.1 566.8 387.7 567.2 387.6 567.6 385.7 568 386.6 568.4 384.2 568.8 384.5 569.2 381.1 569.6 380.9 570 381.3 570.4 379.3 570.8 379.1 571.2 377.8 571.6 381 572 381.2 572.4 380.8 572.8 381.9 573.2 382.2 573.6 384 574 384.2 574.4 383.5 574.8 385.3 575.2 387.2 575.6 388 576 386.7 576.4 387.3 576.8 386.1 577.2 385.8 577.6 383.8 578 384 578.4 385.1 578.8 385.1 579.2 386.2 579.6 386.2 580 384.2 580.4 384.9 580.8 384.4 581.2 384.8 581.6 384.7 582 383.7 582.4 383 582.8 385.5 583.2 383.3 583.6 385 584 383.5 584.4 383.1 584.8 383.6 585.2 382.8 585.6 379.7 586 379.7 586.4 375.7 586.8 374.8 587.2 375.2 587.6 371.2 588 370.7 588.4 367.9 588.8 367.9 589.2 366.9 589.6 366.6 590 365.9 590.4 365.3 590.8 366.1 591.2 363.5 591.6 363.8 592 366.1 592.4 364.9 592.8 364.2 593.2 363.1 593.6 364.1 594 362.4 594.4 362.7 594.8 361.8 595.2 363.8 595.6 361.5 596 359.1 596.4 360.5 596.8 359.5 597.2 359.2 597.6 357.1 598 360.1 598.4 359.1 598.8 359.2 599.2 357.7 599.6 359 600 358.8 600.4 360 600.8 358.4 601.2 358.4 601.6 359.6 602 357.7 602.4 358 602.8 356.8 603.2 357.2 603.6 357.1 604 356.5 604.4 356.3 604.8 356 605.2 356.1 605.6 356.3 606 357.9 606.4 358 606.8 355.1 607.2 356.5 607.6 357.4 608 355.6 608.4 355 608.8 353.5 609.2 352.2 609.6 349.7 610 350.8 610.4 349.9 610.8 349.5 611.2 348.4 611.6 346.8 612 345.4 612.4 344.8 612.8 345 613.2 345.9 613.6 345.8 614 346.1 614.4 347.3 614.8 346.4 615.2 344.7 615.6 348.7 616 347.3 616.4 352.2 616.8 351.7 617.2 350.8 617.6 349.1 618 348.4 618.4 350 618.8 350.4 619.2 349.7 619.6 349.9 620 351 620.4 350.4 620.8 348.7 621.2 348.4 621.6 350.6 622 350.3 622.4 351.5 622.8 353.3 623.2 352.9 623.6 351.6 624 351.7 624.4 352.4 624.8 350.9 625.2 350.9 625.6 352 626 351 626.4 350.1 626.8 349 627.2 350.3 627.6 349.5 628 351 628.4 349.8 628.8 351.5 629.2 351.2 629.6 348 630 350 630.4 348.5 630.8 350.6 631.2 349.8 631.6 349.4 632 350.2 632.4 349.6 632.8 350.1 633.2 351.2 633.6 351.5 634 352.7 634.4 352.6 634.8 354.3 635.2 352.7 635.6 355.7 636 354.9 636.4 354.7 636.8 354.3 637.2 356.4 637.6 353.1 638 353.4 638.4 352.9 638.8 354.6 639.2 353.2 639.6 354.5 640 353.7 640.4 355.1 640.8 354.9 641.2 357.2 641.6 356.9 642 357.3 642.4 358.7 642.8 358.3 643.2 359.3 643.6 360.8 644 358.8 644.4 362.2 644.8 361.1 645.2 361 645.6 361.9 646 362.7 646.4 362.3 646.8 362.7 647.2 363.9 647.6 364.4 648 364.3 648.4 363.6 648.8 363.3 649.2 363.1 649.6 364.3 650 362.9 650.4 361.7 650.8 362.2 651.2 360.3 651.6 360 652 359.8 652.4 361.8 652.8 359 653.2 361.8 653.6 363.1 654 364.1 654.4 367 654.8 367.2 655.2 368 655.6 366.6 656 368.6 656.4 368.2 656.8 369.7 657.2 370.4 657.6 370.1 658 371.4 658.4 373.4 658.8 372.8 659.2 372 659.6 370.9 660 373.3 660.4 374.1 660.8 373 661.2 373.8 661.6 376 662 375.5 662.4 376.7 662.8 375.6 663.2 376.2 663.6 378.4 664 378.2 664.4 380.1 664.8 380.5 665.2 378.9 665.6 381.5 666 379.8 666.4 380.3 666.8 379.7 667.2 378.3 667.6 377.7 668 375 668.4 375.6 668.8 375.5 669.2 377.1 669.6 375.3 670 373.4 670.4 376.3 670.8 375.6 671.2 374.7 671.6 375.3 672 377.3 672.4 375.9 672.8 375.2 673.2 376.8 673.6 376 674 377.5 674.4 376.8 674.8 376.5 675.2 376.7 675.6 377.9 676 378.1 676.4 376.7 676.8 375.8 677.2 377.2 677.6 376.4 678 375.6 678.4 375.9 678.8 373.8 679.2 374.4 679.6 373.1 680 372.1 680.4 375.7 680.8 375.6 681.2 372.6 681.6 375.1 682 375.2 682.4 377.7 682.8 377.4 683.2 377.6 683.6 378.8 684 379.8 684.4 380.5 684.8 380.7 685.2 382 685.6 383.3 686 381.7 686.4 382 686.8 382 687.2 381.8 687.6 382.6 688 379.8 688.4 379.4 688.8 378.7 689.2 379.3 689.6 377.6 690 377 690.4 377.3 690.8 374.3 691.2 375.6 691.6 374.1 692 374.2 692.4 374.3 692.8 373.9 693.2 373.4 693.6 373.8 694 373.8 694.4 373.7 694.8 375.1 695.2 377.1 695.6 378.4 696 378.6 696.4 378.7 696.8 381.4 697.2 382.8 697.6 383.6 698 383.2 698.4 381.5 698.8 382.7 699.2 383.9 699.6 383.7 700 380.7 700.4 382.4 700.8 379.2 701.2 382.2 701.6 380.3 702 377.8 702.4 379.3 702.8 377.8 703.2 378 703.6 376.3 704 374.6 704.4 376.3 704.8 374.1 705.2 375.9 705.6 374.7 706 373.5 706.4 371.8 706.8 373.7 707.2 372.3 707.6 368.9 708 371.1 708.4 368 708.8 367.3 709.2 367 709.6 365.5 710 365.5 710.4 362.9 710.8 359.7 711.2 363.6 711.6 362 712 359.5 712.4 359.5 712.8 357.7 713.2 357.4 713.6 356.7 714 356.1 714.4 355 714.8 355.1 715.2 355.7 715.6 353.6 716 354.2 716.4 351.1 716.8 352.6 717.2 351.3 717.6 349.9 718 351.5 718.4 350.1 718.8 348.3 719.2 348.4 719.6 349.2 720 347.1 720.4 349.2 720.8 347.5 721.2 345.7 721.6 346.7 722 347.2 722.4 345.4 722.8 345 723.2 345.9 723.6 345.3 724 342.2 724.4 342 724.8 342.2 725.2 341.8 725.6 340.1 726 341 726.4 339 726.8 337.1 727.2 337.2 727.6 334.6 728 334.6 728.4 334.1 728.8 331.6 729.2 330 729.6 328.9 730 325.9 730.4 325.8 730.8 321.5 731.2 320.6 731.6 318 732 317.3 732.4 314.4 732.8 314.6 733.2 313.1 733.6 311.4 734 311.9 734.4 310.3 734.8 309.6 735.2 309 735.6 306.8 736 307.5 736.4 306.9 736.8 306.2 737.2 305.7 737.6 304.2 738 306.4 738.4 302.7 738.8 302.8 739.2 301.7 739.6 298.3 740 299 740.4 297.6 740.8 294.6 741.2 292.4 741.6 290.7 742 288 742.4 290.3 742.8 287.1 743.2 284.8 743.6 283.1 744 284.1 744.4 282.8 744.8 279 745.2 277.7 745.6 275.7 746 277 746.4 274.8 746.8 276 747.2 272.3 747.6 271.8 748 270.2 748.4 271.8 748.8 267.7 749.2 268.8 749.6 267.8 750 266.1 750.4 266 750.8 268.4 751.2 269.9 751.6 268 752 269.4 752.4 271.1 752.8 269.9 753.2 271.7 753.6 270.9 754 273.4 754.4 275.3 754.8 276.6 755.2 278.4 755.6 279 756 279.7 756.4 281.6 756.8 284.8 757.2 285 757.6 286.3 758 288.3 758.4 289 758.8 289.1 759.2 291.1 759.6 293.3 760 295.2 760.4 295.7 760.8 298 761.2 300 761.6 302.6 762 302.4 762.4 306.1 762.8 307.6 763.2 306.6 763.6 310.9 764 312.4 764.4 311.8 764.8 316.6 765.2 313.6 765.6 315.5 766 318.2 766.4 321.2 766.8 322.5 767.2 324.1 767.6 326.3 768 326.8 768.4 328.5 768.8 331.1 769.2 330.6 769.6 328.2 770 331.4 770.4 331.5 770.8 334.4 771.2 335.9 771.6 335.9 772 337.7 772.4 339.2 772.8 340.3 773.2 338.2 773.6 344 774 344.1 774.4 344.5 774.8 344.6 775.2 344.3 775.6 346.4 776 348.1 776.4 348.9 776.8 348.8 777.2 349.3 777.6 349.1 778 351 778.4 350.8 778.8 350.7 779.2 348.6 779.6 350.1 780 348.7 780.4 352 780.8 351.5 781.2 350.3 781.6 350.2 782 352.5 782.4 350.9 782.8 347.7 783.2 349.4 783.6 347.9 784 347.7 784.4 348.8 784.8 349.7 785.2 348.4 785.6 345.9 786 345.2 786.4 345 786.8 345.3 787.2 341.2 787.6 339.8 788 341.4 788.4 339.5 788.8 339.5 789.2 337 789.6 336.3 790 332.7 790.4 333.2 790.8 332.1 791.2 330.5 791.6 327.3 792 326.9 792.4 323.9 792.8 322.7 793.2 322.9 793.6 323.6 794 321.9 794.4 318 794.8 319.4 795.2 317.9 795.6 316.9 796 314.3 796.4 317.1 796.8 316.5 797.2 315 797.6 311.2 798 311.3 798.4 313.3 798.8 312.5 799.2 312.2 799.6 309.8 800 309.9 800.4 306.9 800.8 306.1 801.2 305.3 801.6 306.5 802 305 802.4 305.3 802.8 304.9 803.2 302.7 803.6 305.1 804 301.5 804.4 303.5 804.8 303.4 805.2 303.4 805.6 298.9 806 301.8 806.4 302.3 806.8 301.6 807.2 296.9 807.6 298.2 808 298.9 808.4 297.2 808.8 298.4 809.2 295.8 809.6 297.6 810 295.5 810.4 292.2 810.8 291.2 811.2 291.1 811.6 289.9 812 289.4 812.4 287.9 812.8 288.4 813.2 284.8 813.6 281.4 814 283.7 814.4 283.5 814.8 282.3 815.2 280.7 815.6 282.1 816 283.8 816.4 281.7 816.8 280.9 817.2 280.6 817.6 285 818 283.1 818.4 284.8 818.8 285.3 819.2 284.4 819.6 282.7 820 284.1 820.4 284.1 820.8 283.4 821.2 284.2 821.6 281.7 822 280.9 822.4 279.8 822.8 280.6 823.2 279.3 823.6 279.9 824 278.3 824.4 278.6 824.8 277 825.2 276.5 825.6 276 826 275.5 826.4 273.7 826.8 271 827.2 273 827.6 269.9 828 269.5 828.4 268.6 828.8 270.1 829.2 267.4 829.6 268 830 267.6 830.4 267.6 830.8 267.3 831.2 266.3 831.6 263.7 832 264.7 832.4 263.3 832.8 261.5 833.2 260.4 833.6 258.9 834 258.4 834.4 259.6 834.8 258.3 835.2 255 835.6 255.5 836 254 836.4 254 836.8 252.8 837.2 253.2 837.6 251.3 838 248.9 838.4 245 838.8 245.5 839.2 243.4 839.6 242.2 840 243.3 840.4 240.4 840.8 242.7 841.2 242.9 841.6 240.2 842 242.1 842.4 241.4 842.8 241.6 843.2 239.6 843.6 239.9 844 238.6 844.4 238.4 844.8 236.8 845.2 236.6 845.6 235.3 846 234.9 846.4 235.4 846.8 233.9 847.2 234.4 847.6 233.4 848 233.2 848.4 231.7 848.8 232.1 849.2 231.8 849.6 230.6 850 230.5 850.4 228.6 850.8 226.3 851.2 227.4 851.6 227.9 852 226 852.4 223.5 852.8 224.5 853.2 222.6 853.6 223.4 854 221.3 854.4 220.2 854.8 219.1 855.2 217.8 855.6 215.9 856 214.4 856.4 214.7 856.8 213.6 857.2 215 857.6 212.8 858 213 858.4 214.2 858.8 213.1 859.2 216.9 859.6 213.1 860 216.1 860.4 212.3 860.8 213.7 861.2 215.9 861.6 211.1 862 211.5 862.4 212.5 862.8 211.5 863.2 209.8 863.6 209.6 864 208.5 864.4 209.1 864.8 209.5 865.2 207.6 865.6 207.1 866 208.2 866.4 208.4 866.8 205.5 867.2 206.8 867.6 206 868 205.2 868.4 205 868.8 204.3 869.2 202.5 869.6 200.9 870 200.9 870.4 200.2 870.8 199.1 871.2 194.9 871.6 195 872 194.7 872.4 193.9 872.8 191.5 873.2 190.2 873.6 190.6 874 186.8 874.4 186.8 874.8 184.7 875.2 186.3 875.6 184.1 876 185 876.4 181.8 876.8 182.7 877.2 181.6 877.6 182.4 878 178.5 878.4 179.7 878.8 177.5 879.2 177 879.6 176 880 175.4 880.4 173.9 880.8 171.3 881.2 173.9 881.6 172.5 882 170.4 882.4 170.2 882.8 172.4 883.2 169 883.6 167.4 884 169.1 884.4 167.6 884.8 167.5 885.2 166.3 885.6 166.3 886 168.1 886.4 168.2 886.8 165.9 887.2 165.7 887.6 165.1 888 164.1 888.4 163 888.8 162.1 889.2 161.6 889.6 162 890 159.9 890.4 160.4 890.8 158.9 891.2 157.9 891.6 158.7 892 157.4 892.4 156.8 892.8 156.2 893.2 154.6 893.6 152.5 894 152.9 894.4 151.4 894.8 150.3 895.2 150.8 895.6 148.2 896 147.5 896.4 146.6 896.8 148 897.2 145.8 897.6 146.2 898 145.8 898.4 147.2 898.8 148.3 899.2 146.7 899.6 147.3 900 147 900.4 146.9 900.8 147.4 901.2 146.6 901.6 147.1 902 145.6 902.4 148.2 902.8 145.7 903.2 144.4 903.6 144.6 904 142.6 904.4 142.1 904.8 141.1 905.2 141.3 905.6 140.2 906 139.9 906.4 137.8 906.8 136.7 907.2 136.6 907.6 136.8 908 136.1 908.4 137.7 908.8 137.1 909.2 135.8 909.6 133.1 910 134 910.4 131.7 910.8 132.3 911.2 131 911.6 129.2 912 127.5 912.4 126.1 912.8 127.4 913.2 123.9 913.6 123.2 914 123.1 914.4 121 914.8 120.4 915.2 116.9 915.6 115.8 916 118.9 916.4 115.5 916.8 114.3 917.2 114.1 917.6 114.4 918 111.6 918.4 113 918.8 112.7 919.2 113.1 919.6 112.5 920 111.6 920.4 109.7 920.8 108 921.2 110.4 921.6 106.9 922 107.5 922.4 108.9 922.8 105.5 923.2 105.7 923.6 103.3 924 103.9 924.4 103.8 924.8 103.1 925.2 104.5 925.6 102.4 926 101.1 926.4 100.9 926.8 101.6 927.2 99.2 927.6 101.8 928 101.5 928.4 100.7 928.8 97.3 929.2 98 929.6 95 930 95.3 930.4 95.4 930.8 95.2 931.2 93.7 931.6 93.1 932 92.2 932.4 92.7 932.8 92.8 933.2 92.4 933.6 91.6 934 91.4 934.4 90.9 934.8 86.9 935.2 88.8 935.6 88 936 85.7 936.4 86.3 936.8 83.8 937.2 80.9 937.6 80 938 79.6" fill="none" stroke="#0072B2" stroke-opacity="0.14" stroke-width="2.6" stroke-linejoin="round"/>
<path d="M120 368.8 120.4 369.9 120.8 372.2 121.2 373 121.6 374.7 122 375.2 122.4 376.4 122.8 376.4 123.2 377.4 123.6 379.8 124 378.5 124.4 383 124.8 384.3 125.2 383.8 125.6 385.8 126 388.3 126.4 389.5 126.8 391.8 127.2 395 127.6 395.4 128 397.1 128.4 398.3 128.8 399 129.2 401.3 129.6 401.9 130 404.3 130.4 402.7 130.8 405.5 131.2 408.2 131.6 406.9 132 408.9 132.4 409 132.8 412.4 133.2 413.7 133.6 415.9 134 416.2 134.4 416.6 134.8 419.2 135.2 420.1 135.6 422.9 136 420.4 136.4 424.5 136.8 423.5 137.2 426.9 137.6 427.7 138 427.8 138.4 428 138.8 427.3 139.2 426.9 139.6 428.6 140 430.7 140.4 430.3 140.8 431.5 141.2 431.5 141.6 434 142 433.9 142.4 436.2 142.8 437.3 143.2 438.1 143.6 440.4 144 443.2 144.4 443.6 144.8 445.1 145.2 446.8 145.6 446.5 146 449.1 146.4 450.7 146.8 453.4 147.2 451.2 147.6 452 148 454.2 148.4 453.9 148.8 454 149.2 456.4 149.6 455.7 150 455.4 150.4 458.8 150.8 459.1 151.2 460.2 151.6 460.5 152 460.5 152.4 461.4 152.8 462 153.2 460.8 153.6 462.2 154 463.7 154.4 463.4 154.8 465.6 155.2 464.1 155.6 463.1 156 466.1 156.4 467.4 156.8 465.4 157.2 466.3 157.6 469 158 470.5 158.4 468.3 158.8 469.7 159.2 469.3 159.6 469.7 160 469 160.4 469.6 160.8 468.4 161.2 467.7 161.6 466.1 162 470.7 162.4 468.8 162.8 469.6 163.2 469.6 163.6 471.7 164 472.1 164.4 475.7 164.8 476.8 165.2 479.4 165.6 479 166 480.5 166.4 482.2 166.8 485.4 167.2 482.7 167.6 485.7 168 485.4 168.4 486.6 168.8 487.4 169.2 487.6 169.6 487.2 170 487.5 170.4 487.7 170.8 489.3 171.2 488.2 171.6 490 172 490.6 172.4 492 172.8 495 173.2 495.1 173.6 496 174 497.1 174.4 493.1 174.8 495.6 175.2 495 175.6 493.8 176 491.7 176.4 493.4 176.8 493.2 177.2 493.6 177.6 492.3 178 492.6 178.4 492.7 178.8 493 179.2 492.3 179.6 491.5 180 492.3 180.4 491.9 180.8 491.9 181.2 491.3 181.6 492.3 182 490.9 182.4 490.5 182.8 491.5 183.2 491 183.6 491 184 488.6 184.4 492 184.8 491.6 185.2 490.7 185.6 491.6 186 491.8 186.4 491.7 186.8 494.2 187.2 491.6 187.6 493 188 493.3 188.4 490.6 188.8 490.9 189.2 490.8 189.6 492.4 190 491 190.4 489.9 190.8 492.1 191.2 492.5 191.6 491 192 494 192.4 492.9 192.8 495.8 193.2 494.3 193.6 492.6 194 493.1 194.4 493.3 194.8 495 195.2 494.8 195.6 496.2 196 495.8 196.4 495.1 196.8 496.2 197.2 499.2 197.6 499.2 198 498.2 198.4 497.7 198.8 497.4 199.2 497.7 199.6 495.7 200 497.5 200.4 495 200.8 495 201.2 492.1 201.6 494.8 202 495.2 202.4 491.5 202.8 495.1 203.2 493.7 203.6 492.6 204 493.2 204.4 497.6 204.8 497.7 205.2 498.8 205.6 498 206 498.5 206.4 501 206.8 499.7 207.2 502.2 207.6 500.5 208 501.1 208.4 500.6 208.8 503.8 209.2 501.2 209.6 501.8 210 503.3 210.4 502.5 210.8 504.3 211.2 504.6 211.6 503.9 212 504.1 212.4 501.9 212.8 502.3 213.2 502.4 213.6 502.9 214 502.1 214.4 503.9 214.8 504 215.2 506.4 215.6 506.3 216 506 216.4 506.2 216.8 506.9 217.2 506.4 217.6 507.3 218 505.9 218.4 507.6 218.8 508.4 219.2 507.1 219.6 506.4 220 506 220.4 507.3 220.8 505 221.2 503.3 221.6 503 222 503.9 222.4 504.3 222.8 502.8 223.2 502.1 223.6 501.1 224 498.5 224.4 498.7 224.8 497.5 225.2 498.4 225.6 497.3 226 499.1 226.4 498.5 226.8 497.4 227.2 500.7 227.6 500.9 228 499.3 228.4 501.5 228.8 502.4 229.2 501.5 229.6 503.3 230 502.9 230.4 503.7 230.8 503.2 231.2 503.2 231.6 503.5 232 504.3 232.4 503.4 232.8 503.3 233.2 503.4 233.6 504.1 234 504.2 234.4 505 234.8 505.1 235.2 504.5 235.6 505.5 236 506.1 236.4 508.2 236.8 507.2 237.2 505.7 237.6 506.4 238 505.7 238.4 506.7 238.8 506.2 239.2 506.6 239.6 505.7 240 504.6 240.4 507.2 240.8 509 241.2 506.5 241.6 507.2 242 505 242.4 503.9 242.8 502.8 243.2 502.3 243.6 501.5 244 498.7 244.4 501.3 244.8 502 245.2 501.2 245.6 505.3 246 505.3 246.4 506.9 246.8 507.9 247.2 508.2 247.6 509.2 248 510.9 248.4 512.4 248.8 515.6 249.2 515.5 249.6 513 250 514.8 250.4 515.6 250.8 516.4 251.2 516 251.6 515.5 252 518.9 252.4 517.5 252.8 514.8 253.2 514.8 253.6 516.5 254 516.7 254.4 516.9 254.8 515.7 255.2 513.4 255.6 515.1 256 515.8 256.4 514.7 256.8 513.6 257.2 514.2 257.6 512.1 258 509.5 258.4 510.2 258.8 507.2 259.2 508.2 259.6 506.6 260 502.9 260.4 502.9 260.8 503.1 261.2 499.5 261.6 501 262 502.9 262.4 498.1 262.8 499 263.2 497 263.6 498.1 264 495.5 264.4 496.1 264.8 496.4 265.2 495.4 265.6 494.3 266 493.6 266.4 493.8 266.8 492.3 267.2 492.1 267.6 489.3 268 489.8 268.4 492.9 268.8 491.7 269.2 490.2 269.6 490.2 270 490.2 270.4 488.3 270.8 490.7 271.2 487.8 271.6 487.5 272 489.2 272.4 484.2 272.8 486.3 273.2 484.1 273.6 484 274 483.9 274.4 484.7 274.8 485.2 275.2 484.9 275.6 485.8 276 484 276.4 484.4 276.8 483.2 277.2 485 277.6 483.4 278 485.1 278.4 483.2 278.8 482.2 279.2 482.8 279.6 482 280 480.8 280.4 482.6 280.8 478.6 281.2 480 281.6 478.1 282 475.2 282.4 475.7 282.8 474.6 283.2 476.7 283.6 472.6 284 473 284.4 470.8 284.8 467.8 285.2 467.2 285.6 469.5 286 468.3 286.4 468.9 286.8 469.3 287.2 467.6 287.6 468.6 288 468.4 288.4 469.1 288.8 470 289.2 472.7 289.6 472.2 290 470.7 290.4 470 290.8 468.6 291.2 468.9 291.6 467.8 292 466.5 292.4 465.5 292.8 466.7 293.2 466.3 293.6 462.7 294 461.2 294.4 464 294.8 463.3 295.2 463.7 295.6 464.6 296 462.8 296.4 461.5 296.8 459.6 297.2 460.8 297.6 459.1 298 459.3 298.4 456.5 298.8 456.5 299.2 453.9 299.6 453.6 300 453.2 300.4 452.9 300.8 452.6 301.2 451.2 301.6 449.5 302 451.5 302.4 449 302.8 449.4 303.2 448.7 303.6 448.5 304 446 304.4 444.6 304.8 444.2 305.2 441.2 305.6 440.5 306 439.7 306.4 439.5 306.8 437.4 307.2 436.6 307.6 435.4 308 434.4 308.4 433 308.8 435.4 309.2 434.6 309.6 433.2 310 434.3 310.4 433.2 310.8 432.4 311.2 429.6 311.6 429.5 312 430.1 312.4 431.7 312.8 429.3 313.2 429 313.6 427.2 314 427.1 314.4 428.3 314.8 426.1 315.2 425.7 315.6 429 316 428.8 316.4 428.2 316.8 429.6 317.2 429.7 317.6 427.5 318 430.2 318.4 431.2 318.8 429.9 319.2 430.2 319.6 431.4 320 429.7 320.4 428.7 320.8 428.5 321.2 428.2 321.6 429 322 426.4 322.4 428.8 322.8 425.3 323.2 427.3 323.6 424.8 324 425.2 324.4 426.5 324.8 426.1 325.2 425.3 325.6 424.1 326 423.8 326.4 422.8 326.8 423.2 327.2 421.2 327.6 423.1 328 422.9 328.4 423.5 328.8 423.1 329.2 424.3 329.6 422.6 330 423.3 330.4 423.4 330.8 425 331.2 425.8 331.6 427.3 332 425.2 332.4 430 332.8 427.6 333.2 429.4 333.6 429.3 334 426.1 334.4 428 334.8 429.8 335.2 425.9 335.6 429.9 336 428.9 336.4 429.3 336.8 429.6 337.2 426.8 337.6 429 338 428.2 338.4 429.8 338.8 430.9 339.2 433.7 339.6 429.6 340 429.8 340.4 428.5 340.8 427.1 341.2 428.4 341.6 429 342 427.6 342.4 427 342.8 425.2 343.2 427.5 343.6 423 344 424.1 344.4 424.7 344.8 424.8 345.2 423.4 345.6 424.1 346 424.5 346.4 424.9 346.8 423.5 347.2 424.1 347.6 427.1 348 428.8 348.4 427.2 348.8 427 349.2 427.6 349.6 431.6 350 429.6 350.4 429 350.8 431 351.2 433 351.6 431.4 352 428.8 352.4 430.6 352.8 431.6 353.2 431.8 353.6 430.6 354 432.2 354.4 432.5 354.8 434.5 355.2 433.7 355.6 433.1 356 432.5 356.4 433.9 356.8 434.1 357.2 433.7 357.6 433.4 358 430.3 358.4 433.3 358.8 433.5 359.2 434.6 359.6 433.6 360 435.3 360.4 434.4 360.8 437.2 361.2 435.5 361.6 434.6 362 435 362.4 434.2 362.8 433.3 363.2 432.1 363.6 432.7 364 432.7 364.4 432.5 364.8 431.7 365.2 431.6 365.6 430.1 366 428.3 366.4 426.8 366.8 427.7 367.2 428.4 367.6 429.3 368 430.4 368.4 429.6 368.8 429.8 369.2 432 369.6 432.9 370 432.1 370.4 433.6 370.8 435.4 371.2 435.5 371.6 435.4 372 434.3 372.4 438.6 372.8 439.3 373.2 439.9 373.6 439.6 374 438.2 374.4 439.7 374.8 439.9 375.2 440.3 375.6 437.7 376 440.9 376.4 438.7 376.8 440.1 377.2 437.6 377.6 438.5 378 439.8 378.4 438.8 378.8 437.6 379.2 439.1 379.6 440.2 380 437.7 380.4 438.9 380.8 440.5 381.2 438.9 381.6 440.3 382 437.8 382.4 436.5 382.8 436.7 383.2 439.3 383.6 435.8 384 436.5 384.4 435.7 384.8 433.3 385.2 435 385.6 433.4 386 433.4 386.4 431 386.8 429.7 387.2 427.8 387.6 430.3 388 430 388.4 430.6 388.8 431.9 389.2 430.3 389.6 430.7 390 431.3 390.4 431.6 390.8 429.9 391.2 431 391.6 430.9 392 429.4 392.4 430.2 392.8 428.4 393.2 427.3 393.6 428.5 394 428.5 394.4 429.1 394.8 428.8 395.2 429.8 395.6 428.7 396 431 396.4 431 396.8 431.9 397.2 432 397.6 431.6 398 430.2 398.4 430.2 398.8 430.6 399.2 433.5 399.6 429.2 400 429.5 400.4 430 400.8 426.9 401.2 427.3 401.6 427.1 402 426.3 402.4 425.2 402.8 425.1 403.2 426.4 403.6 425.8 404 425.2 404.4 423.7 404.8 421.1 405.2 423 405.6 422.4 406 420.2 406.4 421.2 406.8 419.9 407.2 419.9 407.6 419.4 408 419.1 408.4 419.6 408.8 421.7 409.2 422.4 409.6 423.4 410 423.3 410.4 423.6 410.8 427.2 411.2 422.6 411.6 426.4 412 426.2 412.4 426.7 412.8 427 413.2 427.2 413.6 425.9 414 426.4 414.4 428.1 414.8 426.8 415.2 429.9 415.6 430.7 416 426.5 416.4 429.1 416.8 431.7 417.2 431.8 417.6 432.1 418 431.8 418.4 430.6 418.8 429.8 419.2 430.7 419.6 428.7 420 428.9 420.4 426 420.8 426.5 421.2 424.8 421.6 427.2 422 428.2 422.4 427.2 422.8 424.9 423.2 426 423.6 425.3 424 425 424.4 424.9 424.8 423.5 425.2 419.8 425.6 423 426 420.4 426.4 419.7 426.8 421.2 427.2 418.3 427.6 417 428 416.6 428.4 418.7 428.8 419.5 429.2 419.3 429.6 417.6 430 417 430.4 418.7 430.8 416.7 431.2 418.7 431.6 417.3 432 417.6 432.4 415.8 432.8 416.4 433.2 416 433.6 415.5 434 414.5 434.4 413.6 434.8 414.2 435.2 413.6 435.6 412.9 436 413 436.4 413.3 436.8 415.2 437.2 413.4 437.6 413.3 438 414.6 438.4 416.2 438.8 416.3 439.2 416.8 439.6 416 440 416.4 440.4 416.5 440.8 416.7 441.2 415.2 441.6 415.5 442 414.2 442.4 417.9 442.8 417.8 443.2 417.7 443.6 416.9 444 417.2 444.4 415.4 444.8 414.5 445.2 412.1 445.6 411.7 446 410.8 446.4 411.8 446.8 411.6 447.2 408.8 447.6 408.8 448 408 448.4 406.5 448.8 405.4 449.2 406.1 449.6 406.5 450 408.4 450.4 409.2 450.8 409.3 451.2 409.7 451.6 411.4 452 410.7 452.4 413 452.8 411.2 453.2 413.6 453.6 414.3 454 413 454.4 411.9 454.8 414.7 455.2 414 455.6 415.4 456 415.1 456.4 415.1 456.8 414.8 457.2 415.4 457.6 413.9 458 414 458.4 415.2 458.8 415.6 459.2 414.8 459.6 414.1 460 414.5 460.4 413.9 460.8 414 461.2 414.1 461.6 416.6 462 414.4 462.4 414.7 462.8 412.5 463.2 414.3 463.6 412.9 464 416 464.4 411.3 464.8 409.8 465.2 411.3 465.6 411.4 466 407.6 466.4 409.8 466.8 409.8 467.2 406.7 467.6 408.2 468 405.8 468.4 405 468.8 405.2 469.2 404.8 469.6 403.5 470 406.5 470.4 403.5 470.8 402.8 471.2 403.9 471.6 402.4 472 404 472.4 401.7 472.8 402.5 473.2 402.4 473.6 402.8 474 401.7 474.4 401.6 474.8 404 475.2 401.8 475.6 402.8 476 403.4 476.4 405.1 476.8 405.1 477.2 405.3 477.6 403.2 478 405.8 478.4 405.9 478.8 406 479.2 406.8 479.6 404.7 480 407 480.4 406.2 480.8 404.4 481.2 405.4 481.6 406.9 482 404.7 482.4 405.2 482.8 403.8 483.2 403.4 483.6 403.2 484 402.9 484.4 404.9 484.8 404.1 485.2 403.1 485.6 404.2 486 402.4 486.4 401.4 486.8 402.1 487.2 399.9 487.6 399.1 488 402 488.4 398.6 488.8 401.2 489.2 397.7 489.6 399.9 490 400.6 490.4 401.5 490.8 400.5 491.2 403.9 491.6 404.6 492 404.4 492.4 406.8 492.8 408.6 493.2 408.2 493.6 409.6 494 409.1 494.4 411.3 494.8 412.6 495.2 415 495.6 414.2 496 414 496.4 414.4 496.8 411.9 497.2 414.6 497.6 413.9 498 414.1 498.4 415.5 498.8 414.8 499.2 416.3 499.6 413.2 500 415.8 500.4 415.7 500.8 416.1 501.2 415.2 501.6 418 502 417.4 502.4 416.1 502.8 415.3 503.2 414.8 503.6 416.9 504 415.1 504.4 414.4 504.8 416.1 505.2 415.4 505.6 414.9 506 414.5 506.4 414.7 506.8 415 507.2 413.3 507.6 414.6 508 413.8 508.4 414.2 508.8 413.6 509.2 412.5 509.6 413 510 414.6 510.4 413.1 510.8 412.7 511.2 414.2 511.6 414.1 512 412.8 512.4 414.1 512.8 412.6 513.2 413.5 513.6 415.6 514 415.3 514.4 414.9 514.8 415.5 515.2 414.3 515.6 416.9 516 417.5 516.4 418.1 516.8 420.4 517.2 419.5 517.6 420.7 518 419.8 518.4 422.7 518.8 422.5 519.2 423.3 519.6 423.1 520 423.8 520.4 424.5 520.8 423.3 521.2 424.9 521.6 425.3 522 423.3 522.4 422.8 522.8 424.4 523.2 424.6 523.6 425.1 524 424.4 524.4 424.2 524.8 424.5 525.2 424.7 525.6 422.9 526 423.2 526.4 422.6 526.8 424 527.2 425 527.6 420.8 528 423.7 528.4 422.7 528.8 421.6 529.2 421.4 529.6 420.7 530 420.8 530.4 422.1 530.8 424 531.2 423.9 531.6 425.6 532 424.8 532.4 423.7 532.8 426.4 533.2 427.2 533.6 425.6 534 429.4 534.4 429.2 534.8 429 535.2 431.8 535.6 428.4 536 430 536.4 432.9 536.8 432.9 537.2 433.2 537.6 436.7 538 436 538.4 435.1 538.8 437.2 539.2 439 539.6 440.3 540 437.4 540.4 440 540.8 439.5 541.2 438.3 541.6 439.7 542 438.6 542.4 438.8 542.8 440.4 543.2 439.1 543.6 440.5 544 440.5 544.4 440.8 544.8 441 545.2 438.7 545.6 439.8 546 440.9 546.4 439.8 546.8 439.4 547.2 441.4 547.6 440.3 548 436.7 548.4 435.2 548.8 436.3 549.2 435.9 549.6 434.1 550 435.8 550.4 436.2 550.8 436.2 551.2 438.9 551.6 437.8 552 438.3 552.4 439 552.8 440.6 553.2 438.7 553.6 437 554 437.7 554.4 437.7 554.8 437.7 555.2 439.3 555.6 439.9 556 439.9 556.4 440.1 556.8 441.9 557.2 439.7 557.6 443.2 558 443.2 558.4 444 558.8 441.9 559.2 445.7 559.6 442.3 560 443.2 560.4 445.4 560.8 444.9 561.2 445.5 561.6 443.7 562 445.6 562.4 446.1 562.8 446.6 563.2 446.3 563.6 447.9 564 448.4 564.4 447.7 564.8 448.3 565.2 451.3 565.6 449.4 566 451.3 566.4 450 566.8 451.3 567.2 448.6 567.6 448.7 568 447.7 568.4 445.9 568.8 445.4 569.2 442.3 569.6 441.8 570 440 570.4 440.7 570.8 439.1 571.2 438 571.6 439.5 572 439.7 572.4 439.3 572.8 441.7 573.2 441.8 573.6 442.9 574 442.6 574.4 443.2 574.8 445.2 575.2 444.5 575.6 446.1 576 446.1 576.4 445.2 576.8 445.6 577.2 444.8 577.6 445.6 578 443.6 578.4 443.7 578.8 446.2 579.2 442.3 579.6 440.6 580 443.9 580.4 442.6 580.8 440 581.2 443.2 581.6 444 582 443.7 582.4 445.3 582.8 443.2 583.2 444.3 583.6 443 584 443.7 584.4 444.5 584.8 442.8 585.2 441.6 585.6 438.5 586 438.9 586.4 436.2 586.8 437 587.2 433.9 587.6 434.2 588 431.7 588.4 433.9 588.8 430.7 589.2 431.9 589.6 434 590 431 590.4 429.4 590.8 431.1 591.2 431 591.6 429.8 592 427 592.4 428.6 592.8 425.7 593.2 428.8 593.6 426.7 594 426.4 594.4 427.5 594.8 426.9 595.2 424.6 595.6 427.4 596 424.9 596.4 423.2 596.8 426.5 597.2 426.3 597.6 425.7 598 424.1 598.4 421.6 598.8 422.2 599.2 423.2 599.6 421.1 600 422.2 600.4 420.2 600.8 420.7 601.2 420.8 601.6 417.9 602 417.2 602.4 417.7 602.8 418.7 603.2 418.8 603.6 417.7 604 417.2 604.4 416.9 604.8 417.1 605.2 417.4 605.6 417.9 606 418.2 606.4 418.2 606.8 416.7 607.2 417.7 607.6 415.8 608 417.1 608.4 414.1 608.8 414.1 609.2 411.5 609.6 409.6 610 408.3 610.4 408.1 610.8 407 611.2 404.7 611.6 405.7 612 405.6 612.4 406.1 612.8 406.7 613.2 406.6 613.6 406.5 614 409.3 614.4 407.8 614.8 408.8 615.2 412 615.6 411.4 616 410.5 616.4 410.8 616.8 411.8 617.2 410.7 617.6 413.1 618 412.8 618.4 414.4 618.8 411.8 619.2 413.9 619.6 412.3 620 413.7 620.4 412.4 620.8 414.5 621.2 412.8 621.6 412 622 412.4 622.4 413.5 622.8 413.8 623.2 414.7 623.6 413.4 624 410 624.4 411.7 624.8 409.7 625.2 411.6 625.6 413.6 626 411.3 626.4 411.3 626.8 411.2 627.2 411.2 627.6 413.9 628 412.4 628.4 412.9 628.8 413.9 629.2 411.8 629.6 411.5 630 410.3 630.4 411.7 630.8 412.9 631.2 413 631.6 411.7 632 411.9 632.4 412.5 632.8 412.2 633.2 413.5 633.6 414.6 634 412.1 634.4 413 634.8 417.2 635.2 415.1 635.6 417.1 636 414.4 636.4 415.8 636.8 415.6 637.2 414.8 637.6 415.5 638 414.8 638.4 415.5 638.8 417.6 639.2 416.5 639.6 414.8 640 416.2 640.4 416.7 640.8 417 641.2 417.5 641.6 418.3 642 419.9 642.4 419.5 642.8 419.9 643.2 420.5 643.6 421.8 644 420.4 644.4 423.8 644.8 423.6 645.2 424.4 645.6 423.9 646 424.8 646.4 424.5 646.8 424.4 647.2 424.3 647.6 422.4 648 424.3 648.4 423.4 648.8 423.1 649.2 425.1 649.6 420.1 650 421.3 650.4 422.3 650.8 421.5 651.2 421.1 651.6 419.4 652 418.8 652.4 420.8 652.8 419.7 653.2 423 653.6 423.5 654 424.1 654.4 425.4 654.8 425.9 655.2 427.1 655.6 426.6 656 428.6 656.4 429.1 656.8 431.3 657.2 430 657.6 430.8 658 434.1 658.4 434.1 658.8 432.6 659.2 434.3 659.6 434.1 660 437.9 660.4 434.8 660.8 438.6 661.2 436.9 661.6 438.8 662 437.3 662.4 437.3 662.8 439.6 663.2 439.3 663.6 439 664 438.1 664.4 441.5 664.8 440.6 665.2 439.7 665.6 439 666 440.5 666.4 440.3 666.8 441.6 667.2 439.5 667.6 439.3 668 438.8 668.4 440.7 668.8 441.4 669.2 439.8 669.6 439.6 670 440.6 670.4 439.4 670.8 438.1 671.2 440.3 671.6 439.2 672 438.1 672.4 440.3 672.8 438.1 673.2 435.5 673.6 438.2 674 437.8 674.4 440 674.8 437.6 675.2 437.3 675.6 439.1 676 438.5 676.4 435.9 676.8 438.5 677.2 438.5 677.6 440.1 678 439.7 678.4 435.3 678.8 436 679.2 435.7 679.6 435.4 680 437 680.4 437.9 680.8 438.3 681.2 436 681.6 436 682 436.9 682.4 440.4 682.8 441.2 683.2 439 683.6 439 684 440.1 684.4 441.8 684.8 442.2 685.2 441.9 685.6 442.8 686 442.2 686.4 441.3 686.8 444.1 687.2 442.6 687.6 441.8 688 442.7 688.4 441.1 688.8 442.1 689.2 442.6 689.6 439.6 690 441.9 690.4 442.2 690.8 439.3 691.2 436.4 691.6 436.3 692 436.2 692.4 434.9 692.8 435.5 693.2 435.8 693.6 436 694 438 694.4 437.7 694.8 441.6 695.2 441.8 695.6 441.9 696 441.1 696.4 444.6 696.8 442.6 697.2 446.5 697.6 446.9 698 445.1 698.4 444.5 698.8 446.7 699.2 444.9 699.6 444.3 700 444.2 700.4 443.1 700.8 442.8 701.2 443.1 701.6 441.9 702 442.3 702.4 442.9 702.8 441 703.2 443.2 703.6 440.9 704 441.4 704.4 441.5 704.8 440.8 705.2 438.7 705.6 438.2 706 435.1 706.4 434.9 706.8 432.1 707.2 430.8 707.6 432.2 708 429.5 708.4 428.7 708.8 426.1 709.2 427.8 709.6 425 710 425.8 710.4 424.8 710.8 425 711.2 423.4 711.6 421.8 712 420.9 712.4 421.9 712.8 419.6 713.2 421.4 713.6 421.6 714 417.1 714.4 417.5 714.8 418.4 715.2 418.4 715.6 416.5 716 415.7 716.4 415.3 716.8 415.1 717.2 414.9 717.6 413.2 718 410.6 718.4 410.8 718.8 410.4 719.2 409.2 719.6 409.3 720 408.2 720.4 407.1 720.8 408.6 721.2 406.8 721.6 405.5 722 405.4 722.4 405.8 722.8 407.9 723.2 405 723.6 405.7 724 404.5 724.4 402.1 724.8 403.6 725.2 401.6 725.6 400.2 726 399.9 726.4 401.6 726.8 397.5 727.2 398 727.6 398.9 728 397.6 728.4 393.9 728.8 394.4 729.2 392.7 729.6 392 730 390.9 730.4 387.6 730.8 385.6 731.2 385.6 731.6 380.4 732 379.5 732.4 377.8 732.8 374.4 733.2 372.8 733.6 369.8 734 370 734.4 368.7 734.8 370.2 735.2 370 735.6 368.2 736 367.2 736.4 367.7 736.8 366.9 737.2 364.8 737.6 366.5 738 365.1 738.4 364.8 738.8 361.2 739.2 362.4 739.6 362.4 740 359.8 740.4 356.1 740.8 356.2 741.2 356.1 741.6 355 742 353.3 742.4 352.1 742.8 350.4 743.2 349.5 743.6 347.7 744 347.4 744.4 347.2 744.8 344.7 745.2 344 745.6 341.1 746 340.3 746.4 339.5 746.8 339 747.2 336.1 747.6 336.3 748 332.2 748.4 332.3 748.8 331.2 749.2 329.4 749.6 326.3 750 325.3 750.4 328 750.8 325.9 751.2 328.4 751.6 327.5 752 328.4 752.4 331.6 752.8 331.4 753.2 331 753.6 329.9 754 332.6 754.4 333.2 754.8 334.7 755.2 338.3 755.6 337.5 756 341 756.4 343.1 756.8 344.7 757.2 349.2 757.6 348 758 350.8 758.4 352.6 758.8 352.2 759.2 353.3 759.6 355.6 760 359.2 760.4 359.9 760.8 360.5 761.2 362.1 761.6 360.5 762 364.4 762.4 365.1 762.8 368.2 763.2 369.7 763.6 372 764 372.2 764.4 374.4 764.8 374.8 765.2 377.2 765.6 377.8 766 381.9 766.4 381 766.8 384 767.2 386 767.6 387.9 768 390.6 768.4 391 768.8 392.4 769.2 392.9 769.6 396.6 770 395.6 770.4 398.9 770.8 401.4 771.2 397.8 771.6 400.1 772 401.7 772.4 404.1 772.8 403.4 773.2 404.6 773.6 404.1 774 405.9 774.4 405 774.8 407.8 775.2 405.2 775.6 407.8 776 412.5 776.4 411.6 776.8 411.7 777.2 415.4 777.6 415.1 778 415.9 778.4 414.7 778.8 415.6 779.2 414.9 779.6 412.2 780 413.4 780.4 412 780.8 412.5 781.2 412.2 781.6 409.6 782 409.3 782.4 409.5 782.8 409.6 783.2 407.6 783.6 406.8 784 406.7 784.4 406.3 784.8 405.8 785.2 404.3 785.6 402.9 786 401 786.4 403.8 786.8 402.7 787.2 402.9 787.6 404 788 402.9 788.4 402.7 788.8 400.4 789.2 401.3 789.6 398.5 790 399.6 790.4 396.9 790.8 393.9 791.2 392.5 791.6 390.6 792 387.6 792.4 387.2 792.8 385.6 793.2 387.3 793.6 383.8 794 380.9 794.4 382 794.8 383.8 795.2 379.5 795.6 384 796 379.6 796.4 379.9 796.8 377.3 797.2 377.3 797.6 375.4 798 375 798.4 373.7 798.8 375.7 799.2 372.7 799.6 372.8 800 371.4 800.4 369.5 800.8 369.9 801.2 369.5 801.6 369.8 802 369.5 802.4 368.1 802.8 366.1 803.2 364.6 803.6 364.1 804 365 804.4 366.1 804.8 366.1 805.2 363.6 805.6 363.1 806 361.5 806.4 362.6 806.8 360.9 807.2 360.8 807.6 360 808 359.6 808.4 360.6 808.8 356.1 809.2 357.7 809.6 356.2 810 357.5 810.4 357.7 810.8 354.7 811.2 351.4 811.6 354 812 353.5 812.4 350.6 812.8 351.8 813.2 350.3 813.6 347.1 814 349.7 814.4 347.2 814.8 346.2 815.2 343.7 815.6 343.2 816 341.7 816.4 342.8 816.8 341 817.2 343.7 817.6 342.5 818 339.1 818.4 343.8 818.8 341.9 819.2 341.1 819.6 341.9 820 340.6 820.4 342.2 820.8 339.3 821.2 341.2 821.6 343.5 822 343.1 822.4 340.9 822.8 340.2 823.2 341.9 823.6 340.3 824 339.8 824.4 340.3 824.8 338 825.2 338.5 825.6 334.5 826 337.8 826.4 334.5 826.8 335.1 827.2 334.7 827.6 334.5 828 334.1 828.4 332.7 828.8 332.8 829.2 332.1 829.6 330.1 830 327.7 830.4 325.6 830.8 323.8 831.2 324.5 831.6 324.8 832 324.2 832.4 323.5 832.8 320.9 833.2 320 833.6 318.7 834 317.1 834.4 319.1 834.8 319 835.2 316.1 835.6 316.3 836 315.7 836.4 315.7 836.8 313 837.2 311.3 837.6 312.3 838 308.7 838.4 309.4 838.8 308.9 839.2 307.4 839.6 309.9 840 308 840.4 306.6 840.8 304.5 841.2 305.8 841.6 304.2 842 302 842.4 301.4 842.8 299.7 843.2 300.6 843.6 300.6 844 300 844.4 299.1 844.8 299 845.2 297.4 845.6 297.3 846 297.7 846.4 296.9 846.8 294.4 847.2 295.2 847.6 294.7 848 294.3 848.4 292.8 848.8 291.2 849.2 291.9 849.6 292.6 850 291 850.4 289.1 850.8 290.4 851.2 288.2 851.6 289.1 852 286.9 852.4 287.2 852.8 285.7 853.2 286 853.6 286.3 854 282.6 854.4 281.4 854.8 281.3 855.2 279.5 855.6 278.7 856 276.9 856.4 277.7 856.8 276.6 857.2 273.2 857.6 274.7 858 275.7 858.4 276.9 858.8 275.3 859.2 275 859.6 277.4 860 275.6 860.4 274.9 860.8 274.6 861.2 274.3 861.6 273.3 862 271.4 862.4 272.7 862.8 270.9 863.2 270.5 863.6 272.3 864 271.4 864.4 270.1 864.8 270.7 865.2 270.9 865.6 268.8 866 267 866.4 269.1 866.8 268.7 867.2 267.3 867.6 266.8 868 266.8 868.4 266.2 868.8 263.5 869.2 263 869.6 262.6 870 263.2 870.4 261.4 870.8 258 871.2 257.8 871.6 258.4 872 253.8 872.4 254.4 872.8 251.9 873.2 253.3 873.6 251.3 874 249.1 874.4 247.3 874.8 248 875.2 248.2 875.6 246.7 876 244.2 876.4 246.5 876.8 243.6 877.2 241.5 877.6 241.5 878 240.2 878.4 239.1 878.8 237.7 879.2 237.8 879.6 237.2 880 234.8 880.4 236.3 880.8 234.8 881.2 236.2 881.6 235.1 882 235.2 882.4 234.5 882.8 235.7 883.2 233.2 883.6 232.1 884 233.5 884.4 230.1 884.8 232.3 885.2 232.6 885.6 231.6 886 232.4 886.4 230.9 886.8 229.4 887.2 227.7 887.6 227.8 888 225.4 888.4 223.7 888.8 225 889.2 223.6 889.6 224.4 890 221.4 890.4 219.3 890.8 221 891.2 221.4 891.6 219.6 892 220.7 892.4 221 892.8 217.4 893.2 216.8 893.6 214.8 894 215 894.4 214.2 894.8 213.5 895.2 210.5 895.6 210.3 896 208.7 896.4 207.1 896.8 206.6 897.2 205.9 897.6 206.8 898 208 898.4 208.1 898.8 207.5 899.2 206.9 899.6 207.4 900 207.4 900.4 206.7 900.8 207 901.2 207.1 901.6 207.9 902 208.7 902.4 207.4 902.8 208.9 903.2 205.9 903.6 208.1 904 205.1 904.4 207.3 904.8 206.1 905.2 203.8 905.6 202.9 906 201.6 906.4 202.3 906.8 202 907.2 202.9 907.6 197.5 908 200 908.4 197.8 908.8 197.5 909.2 197.6 909.6 196.7 910 195.2 910.4 193 910.8 192 911.2 191.9 911.6 192.6 912 189.1 912.4 189 912.8 186.8 913.2 185.3 913.6 184.9 914 185.3 914.4 185.7 914.8 184.3 915.2 179.6 915.6 178.6 916 176 916.4 176.9 916.8 177.4 917.2 176.1 917.6 175.3 918 174.3 918.4 171.6 918.8 170.6 919.2 173.1 919.6 173.6 920 174.6 920.4 171.7 920.8 171.2 921.2 170.8 921.6 170.6 922 167.8 922.4 165.9 922.8 166.9 923.2 164.8 923.6 164.8 924 161.7 924.4 162.9 924.8 160.9 925.2 160.7 925.6 162 926 161.7 926.4 161.9 926.8 162.6 927.2 161.1 927.6 162.3 928 160.2 928.4 161.2 928.8 158.9 929.2 159.3 929.6 158.3 930 158.4 930.4 159.2 930.8 156.7 931.2 157.8 931.6 155.6 932 155.3 932.4 154.9 932.8 152.4 933.2 151.3 933.6 149.7 934 150.2 934.4 147.3 934.8 147.8 935.2 145.6 935.6 148 936 145.1 936.4 146.3 936.8 143.6 937.2 144.2 937.6 141.5 938 141.4" fill="none" stroke="#0072B2" stroke-opacity="0.14" stroke-width="2.6" stroke-linejoin="round"/>
<path d="M937.2 39 L941 39 L941 40.5 L943 40.5 L943 42.5 L944.8 42.5 L944.8 140.5 L943 145 L941 142 L937.2 139 Z" fill="#0072B2" fill-opacity="0.2" stroke="#0072B2" stroke-opacity="0.2" stroke-width="1"/>
<path d="M937.2 39 L941 39 L941 40.5 L943 40.5 L943 42.5 L944.8 42.5 L944.8 140.5 L943 145 L941 142 L937.2 139 Z" fill="#0072B2" fill-opacity="0.06"/>
<g stroke="#808080" stroke-opacity="0.23" stroke-width="1.25" fill="none"><path d="M122.5 15.5V542.5"/><path d="M285.5 15.5V542.5"/><path d="M448.5 15.5V542.5"/><path d="M611.5 15.5V542.5"/><path d="M774.5 15.5V542.5"/><path d="M937.5 15.5V542.5"/><path d="M79.5 492.5H985.5"/><path d="M79.5 421.5H985.5"/><path d="M79.5 350.5H985.5"/><path d="M79.5 279.5H985.5"/><path d="M79.5 208.5H985.5"/><path d="M79.5 137.5H985.5"/><path d="M79.5 65.5H985.5"/></g>
<path d="M124 327h0M124.2 331.1h0M124.4 336.7h0M124.5 338.5h0M124.7 331.7h0M124.8 332.4h0M125.1 331.8h0M125.2 335.3h0M125.5 341.6h0M125.6 354.2h0M125.9 354.8h0M126.1 360.5h0M126.4 363.1h0M126.6 367.2h0M126.7 351.6h0M126.9 342.2h0M127.2 336.6h0M127.4 340.8h0M127.5 338.6h0M127.6 337.3h0M127.8 361.4h0M128 342.2h0M128.3 359.2h0M128.5 362.2h0M128.7 371.8h0M128.8 369.1h0M129 374.7h0M129.2 391.4h0M129.4 383.9h0M129.6 380.4h0M129.8 378h0M129.9 363.1h0M130.1 382.4h0M130.3 374.8h0M130.4 385.2h0M130.7 370h0M130.9 373.5h0M131.1 381.7h0M131.3 393.2h0M131.6 376.9h0M131.7 389.3h0M132 368.5h0M132.3 365.1h0M132.4 386.5h0M132.5 386.2h0M132.7 401.5h0M132.9 402.4h0M133.1 383.6h0M133.3 371.8h0M133.5 391.5h0M133.7 391.7h0M134 394.8h0M134.2 405.6h0M134.4 405.9h0M134.5 381.5h0M134.8 383h0M134.9 397.8h0M135.1 407.4h0M135.2 405.2h0M135.5 406.6h0M135.7 396.6h0M136 405h0M136.2 394.9h0M136.4 391.8h0M136.6 392.7h0M136.8 410.5h0M137 403h0M137.1 403h0M137.3 407.2h0M137.5 420.1h0M137.7 417.3h0M137.8 420.7h0M138.1 422.3h0M138.4 414.2h0M138.6 430.3h0M138.9 431h0M139.2 422.7h0M139.4 425h0M139.6 411.7h0M139.9 425.3h0M140.1 431.5h0M140.2 426.1h0M140.4 420h0M140.6 420.6h0M140.8 415.5h0M141 407h0M141.2 407.3h0M141.4 407.1h0M141.6 421.2h0M141.8 426.6h0M142.1 429.8h0M142.4 427.8h0M142.5 420.5h0M142.7 430h0M142.9 426.9h0M143 432.5h0M143.2 430.6h0M143.4 432.7h0M143.6 432.9h0M143.7 422.1h0M144 413.5h0M144.1 415.7h0M144.3 407.7h0M144.6 407.7h0M144.7 408h0M144.9 412.5h0M145.1 412.6h0M145.4 422.1h0M145.6 421.4h0M145.7 409.3h0M146 407.6h0M146.1 407.6h0M146.3 412.5h0M146.5 426.4h0M146.7 422h0M146.9 426.2h0M147 431.6h0M147.3 427.2h0M147.5 431.2h0M147.7 431h0M147.9 430.8h0M148.2 430.7h0M148.4 430.4h0M148.6 430.3h0M148.9 416h0M149.1 407.9h0M149.4 406.9h0M149.5 406.9h0M149.8 416.8h0M150 422.8h0M150.1 423.3h0M150.3 427h0M150.5 424.7h0M150.7 421.9h0M150.9 418.6h0M151.1 418.4h0M151.4 413.4h0M151.6 413.7h0M151.9 423.2h0M152.1 412.4h0M152.2 412.8h0M152.4 431.4h0M152.6 432.7h0M152.8 432h0M153 427.2h0M153.3 424.6h0M153.4 433.6h0M153.5 433.7h0M153.7 433.9h0M153.9 434.1h0M154.1 431.6h0M154.2 431.9h0M154.4 425.7h0M154.7 425.8h0M154.9 424.4h0M155.1 425.4h0M155.3 426.1h0M155.4 427.1h0M155.7 431.2h0M155.9 438h0M156.1 442.6h0M156.4 438h0M156.7 433.6h0M156.9 435.4h0M157 438.5h0M157.2 437.8h0M157.4 441.4h0M157.6 438.8h0M157.9 440.3h0M158.1 443.6h0M158.3 450.1h0M158.6 450.9h0M158.8 450.9h0M158.9 449.6h0M159.1 454.1h0M159.3 450.3h0M159.5 450.2h0M159.6 448.1h0M159.8 447.3h0M160 447.4h0M160.1 443.7h0M160.4 447.6h0M160.5 453.8h0M160.7 456.1h0M160.9 456.2h0M161.1 447.6h0M161.3 447.5h0M161.5 447.7h0M161.7 450.8h0M162 450.3h0M162.2 450.9h0M162.3 448.2h0M162.5 452.6h0M162.7 449.4h0M162.9 450.4h0M163 456.9h0M163.2 456.7h0M163.3 455.2h0M163.6 457.1h0M163.7 457.1h0M163.9 456.1h0M164 455.7h0M164.3 456.6h0M164.4 457.5h0M164.6 455.9h0M164.9 457.2h0M165.2 455.2h0M165.3 450.1h0M165.6 450.4h0M165.8 452.6h0M165.9 450.7h0M166.1 451.3h0M166.3 454.7h0M166.5 452.7h0M166.6 453h0M166.9 453.2h0M167.1 451.9h0M167.3 452.9h0M167.5 455.1h0M167.7 452.5h0M167.8 452.6h0M168 454.3h0M168.2 456.7h0M168.3 457.9h0M168.6 461.9h0M168.8 462.5h0M168.9 462.9h0M169.1 461.9h0M169.3 463.3h0M169.6 464.9h0M169.8 465.2h0M170 464.2h0M170.2 466.8h0M170.4 465.3h0M170.6 463.5h0M170.8 465h0M171.1 467h0M171.3 466.9h0M171.5 465.4h0M171.7 467.2h0M172 466.7h0M172.1 466.1h0M172.3 466.2h0M172.4 464.7h0M172.7 465.3h0M172.8 465.7h0M173.1 468.4h0M173.2 470h0M173.4 467.2h0M173.6 467.7h0M173.8 468.7h0M174 472.6h0M174.2 472.7h0M174.4 472.2h0M174.6 473.6h0M174.8 473.4h0M175 472.6h0M175.2 469.8h0M175.5 471.7h0M175.6 474.1h0M175.8 473.9h0M176.1 474.2h0M176.3 472.5h0M176.4 473.6h0M176.6 473.1h0M176.8 472.1h0M177 474.5h0M177.1 474.8h0M177.3 474.9h0M177.5 474.9h0M177.7 472.8h0M177.8 470.3h0M178 470.4h0M178.2 471.7h0M178.5 471.6h0M178.7 471.7h0M178.8 472.2h0M179 471.8h0M179.2 471.2h0M179.4 470.9h0M179.6 470.9h0M179.8 470.3h0M179.9 471.4h0M180.2 471.3h0M180.3 471.5h0M180.6 470.8h0M180.7 472.1h0M180.9 469.8h0M181.1 469.6h0M181.3 471.1h0M181.5 471.4h0M181.8 471.5h0M182 470h0M182.2 469h0M182.4 469.4h0M182.7 469.6h0M182.8 468.6h0M183 470.4h0M183.3 469.4h0M183.4 469h0M183.7 468.5h0M183.8 468.1h0M184 468.1h0M184.1 468.5h0M184.3 470.3h0M184.6 469.9h0M184.8 470.2h0M185 470.9h0M185.2 470.3h0M185.5 469.4h0M185.7 470.4h0M185.9 469.4h0M186.1 469h0M186.4 468.6h0M186.6 468.7h0M186.8 470.1h0M187.1 470h0M187.3 470h0M187.5 469.3h0M187.7 469.9h0M187.9 468.7h0M188.1 468.7h0M188.3 469.8h0M188.5 469.7h0M188.7 468h0M188.8 468.2h0M189 468.4h0M189.1 469.3h0M189.4 467.6h0M189.6 469.3h0M189.9 467.9h0M190.2 468.8h0M190.4 467.4h0M190.6 466.6h0M190.9 467.2h0M191 466.5h0M191.2 466.6h0M191.4 468h0M191.5 467.7h0M191.6 466.5h0M191.8 467.9h0M192 467.6h0M192.1 465.7h0M192.3 466.1h0M192.5 466.2h0M192.7 465.2h0M192.9 465.5h0M193.1 465.5h0M193.2 465.3h0M193.4 465.1h0M193.6 463.9h0M193.8 464.5h0M194.1 464.5h0M194.2 463.4h0M194.4 463.9h0M194.6 465.4h0M194.8 463.8h0M194.9 464.1h0M195.1 462.1h0M195.2 462.2h0M195.5 463.7h0M195.7 462.2h0M195.9 461.2h0M196.1 461.7h0M196.2 461.9h0M196.4 461.2h0M196.6 461.8h0M196.9 460.7h0M197 461.4h0M197.2 463h0M197.4 461.5h0M197.7 462.8h0M197.9 463.2h0M198.1 462.5h0M198.3 463.2h0M198.4 462.5h0M198.6 463h0M198.8 463.2h0M199 463.2h0M199.2 463.2h0M199.5 462h0M199.7 460.5h0M199.9 460.4h0M200 460.1h0M200.2 460.8h0M200.5 459.8h0M200.6 460.8h0M200.7 460h0M200.9 459.8h0M201.1 462h0M201.3 461h0M201.5 459.9h0M201.7 462.1h0M201.9 460.6h0M202.1 461.6h0M202.3 462.5h0M202.6 461.5h0M202.7 462.5h0M202.9 461.3h0M203.1 461h0M203.3 462.1h0M203.4 463h0M203.6 462.8h0M203.8 462.5h0M204 460.5h0M204.2 460.6h0M204.4 461h0M204.7 460.3h0M204.8 459.5h0M205.1 461.5h0M205.3 461.8h0M205.5 461.9h0M205.7 459.7h0M205.9 461.3h0M206.2 461.5h0M206.4 460.9h0M206.6 459.7h0M206.8 460.1h0M207 459.9h0M207.2 460.8h0M207.4 461.4h0M207.6 462.6h0M207.8 461.9h0M208 462.5h0M208.2 460.8h0M208.5 460.7h0M208.7 459.7h0M208.8 458.9h0M209 458.8h0M209.3 461.1h0M209.4 458.1h0M209.6 457.9h0M209.9 457.8h0M210 458.3h0M210.2 457.9h0M210.5 459.6h0M210.7 460.7h0M210.9 460h0M211.1 459.1h0M211.4 458.3h0M211.7 460.7h0M211.9 462.4h0M212.2 460.9h0M212.3 463h0M212.4 463h0M212.7 462.8h0M213 462.5h0M213.2 462.5h0M213.5 463.4h0M213.7 460.6h0M214 462.1h0M214.2 462.8h0M214.4 462.7h0M214.6 461.6h0M214.8 461.8h0M215 460.8h0M215.2 460.7h0M215.3 459.6h0M215.5 459.9h0M215.6 459.7h0M215.8 460.1h0M216 459.8h0M216.2 459.6h0M216.5 459.7h0M216.7 460.7h0M216.9 459.7h0M217 459h0M217.2 458.9h0M217.3 460.1h0M217.5 461.1h0M217.6 462.3h0M217.8 462.4h0M218.1 462.1h0M218.2 460.1h0M218.4 461.8h0M218.5 461.7h0M218.7 460.6h0M218.9 458.9h0M219.1 458.7h0M219.3 457.3h0M219.5 457.2h0M219.8 458.2h0M219.9 458.6h0M220.2 460h0M220.4 457.5h0M220.5 458.8h0M220.8 461.4h0M221 462h0M221.1 462.7h0M221.2 461.9h0M221.5 462.8h0M221.7 464.6h0M221.8 463h0M222 463.4h0M222.2 464.4h0M222.5 463.8h0M222.8 462.9h0M223 469h0M223.3 469.3h0M223.6 466.5h0M223.8 467.8h0M224 469.5h0M224.1 471.4h0M224.4 473h0M224.6 471.9h0M224.8 472.8h0M225.1 472.7h0M225.2 472.6h0M225.4 471.3h0M225.7 472.4h0M225.9 470.4h0M226.2 469.4h0M226.3 468.8h0M226.6 469.2h0M226.7 471.5h0M226.9 471.6h0M227 470.1h0M227.2 471.6h0M227.5 469.8h0M227.7 468.7h0M227.8 469.1h0M228 469.8h0M228.3 469.1h0M228.5 468h0M228.7 466.9h0M228.9 466.9h0M229.1 467.2h0M229.4 466.9h0M229.5 467.1h0M229.7 467.1h0M229.9 467.8h0M230.1 470.3h0M230.2 470h0M230.4 468.6h0M230.6 469.7h0M230.9 471.5h0M231.1 471.1h0M231.3 471.3h0M231.6 472.5h0M231.8 472.1h0M232 471.7h0M232.2 469.8h0M232.4 469.8h0M232.5 471.6h0M232.7 474.2h0M232.9 474.6h0M233.1 473.7h0M233.3 472.3h0M233.4 472.3h0M233.7 472h0M233.9 472h0M234 472.9h0M234.2 472h0M234.3 472.3h0M234.5 473.7h0M234.7 474.8h0M234.8 475.8h0M235.1 474.2h0M235.3 475.1h0M235.4 477h0M235.6 476.8h0M235.9 475.7h0M236 475.6h0M236.2 477.7h0M236.4 479.3h0M236.6 478h0M236.7 477.2h0M236.9 477.9h0M237.1 480.1h0M237.2 481.1h0M237.5 477.7h0M237.7 478.1h0M237.9 478h0M238.1 478.7h0M238.3 481.5h0M238.5 481.4h0M238.7 480h0M239 481.9h0M239.2 481.8h0M239.4 481.7h0M239.5 481.7h0M239.8 480.9h0M239.9 480.9h0M240 478.9h0M240.3 480.6h0M240.5 480.8h0M240.6 479.6h0M240.9 481.2h0M241 481.2h0M241.3 481.1h0M241.5 480.9h0M241.7 481h0M241.9 479.2h0M242 478.4h0M242.1 477.1h0M242.4 478.5h0M242.5 477.8h0M242.8 478.2h0M243.1 477.8h0M243.2 478.2h0M243.5 477.3h0M243.8 476.6h0M243.9 475.8h0M244.1 476.4h0M244.4 477.5h0M244.5 475.8h0M244.8 477.6h0M245 479.7h0M245.3 478.3h0M245.5 477.8h0M245.6 476.6h0M245.8 478.3h0M246 479.9h0M246.2 479.8h0M246.3 476.9h0M246.5 478.9h0M246.6 476.5h0M246.8 477.3h0M247 477.8h0M247.2 477.6h0M247.4 477.2h0M247.6 476.3h0M247.8 476.1h0M248.1 477.5h0M248.2 478h0M248.4 477.5h0M248.6 476.5h0M248.9 475.8h0M249 475.8h0M249.3 476.9h0M249.5 477.6h0M249.6 477.8h0M249.9 477.2h0M250.2 476.6h0M250.3 476.7h0M250.4 477.5h0M250.7 475.9h0M250.9 475.6h0M251.1 476.1h0M251.3 475.6h0M251.6 476.8h0M251.8 478h0M252 477.3h0M252.2 477.9h0M252.5 476.6h0M252.8 475.4h0M252.9 475.8h0M253.2 477.5h0M253.4 478.4h0M253.6 478.6h0M253.8 478.6h0M254 478.5h0M254.3 478.3h0M254.5 476.9h0M254.8 477h0M254.9 476.7h0M255.1 477.2h0M255.2 475.7h0M255.4 475.5h0M255.5 474.9h0M255.7 476.3h0M255.8 474.8h0M256.1 477.3h0M256.3 478h0M256.5 477.1h0M256.6 477.1h0M256.9 477.7h0M257.1 474.9h0M257.3 475.5h0M257.6 477.2h0M257.7 477.3h0M257.9 477.2h0M258.1 476.6h0M258.4 475.2h0M258.6 474.9h0M258.8 474.7h0M259.1 475.3h0M259.3 475.5h0M259.5 476.2h0M259.6 475.7h0M259.8 475.5h0M260 476.2h0M260.3 475.8h0M260.5 474.6h0M260.7 473.7h0M261 471.7h0M261.2 471.3h0M261.5 471.1h0M261.7 471.7h0M262 470.8h0M262.2 471.4h0M262.4 470.8h0M262.6 470.8h0M262.8 471.2h0M263 471.4h0M263.1 472.5h0M263.3 472.9h0M263.5 472.1h0M263.7 471.9h0M264 473h0M264.2 473h0M264.4 474.2h0M264.6 472.8h0M264.9 471.7h0M265.1 470.8h0M265.3 472.4h0M265.4 474.6h0M265.6 473.6h0M265.7 472.6h0M266 471h0M266.2 472.8h0M266.4 472.3h0M266.6 472.7h0M266.8 472.8h0M267 470.8h0M267.2 470.8h0M267.4 473.2h0M267.6 474.7h0M267.8 475.2h0M268.1 474.4h0M268.3 473h0M268.6 473h0M268.8 471.7h0M268.9 472.3h0M269.2 472.2h0M269.4 471.8h0M269.5 472.4h0M269.8 472.1h0M270 471.1h0M270.2 471.1h0M270.4 471.3h0M270.6 471.3h0M270.8 472.7h0M271.1 473h0M271.3 473.5h0M271.4 471.6h0M271.7 471.6h0M271.8 471.3h0M271.9 471.3h0M272.1 472.4h0M272.3 471.7h0M272.5 471.5h0M272.7 472.1h0M272.9 471.8h0M273.1 473.6h0M273.2 472.8h0M273.4 472.6h0M273.7 474.6h0M273.9 474.6h0M274.1 474.2h0M274.4 476h0M274.6 475.9h0M274.9 476.1h0M275 476.1h0M275.2 476.1h0M275.3 476.1h0M275.6 476.2h0M275.8 476.2h0M276 475.2h0M276.1 474.9h0M276.3 474.8h0M276.5 476.5h0M276.7 476.7h0M276.9 476.7h0M277.1 476.5h0M277.4 476.6h0M277.6 477.2h0M277.8 477.4h0M278 477.5h0M278.2 475.9h0M278.4 474.2h0M278.6 473.5h0M278.8 476.7h0M279 474.9h0M279.1 474.7h0M279.3 475.2h0M279.4 474.4h0M279.7 475.1h0M280 474.4h0M280.2 475.7h0M280.3 476.4h0M280.5 478.1h0M280.8 479.4h0M281 476.4h0M281.2 479.4h0M281.3 479.7h0M281.5 478.5h0M281.7 480h0M281.9 480.2h0M282.1 478.4h0M282.4 477.5h0M282.5 475.5h0M282.8 476.8h0M282.9 476.5h0M283.1 478.5h0M283.4 477.7h0M283.7 477h0M283.9 475.3h0M284.1 478.1h0M284.3 477.2h0M284.6 478.5h0M284.7 478.4h0M285 478.2h0M285.2 477.8h0M285.5 476.7h0M285.8 476.3h0M286 476.9h0M286.2 477.4h0M286.5 477.2h0M286.7 477.1h0M287 476.5h0M287.1 474.6h0M287.4 473.1h0M287.6 472.7h0M287.7 474.1h0M288 475.6h0M288.2 473.5h0M288.3 472.1h0M288.5 468.9h0M288.6 468.3h0M288.8 469.4h0M289 472.9h0M289.1 470.3h0M289.3 467.7h0M289.6 464.9h0M289.7 465h0M289.9 463.3h0M290.2 467.7h0M290.3 466.6h0M290.6 468.1h0M290.7 465h0M290.9 464.3h0M291.1 466.2h0M291.3 460.2h0M291.4 458.9h0M291.7 460h0M291.9 464.7h0M292.1 463.9h0M292.3 460.6h0M292.6 460h0M292.8 455.3h0M293 457.7h0M293.3 456.9h0M293.4 456.5h0M293.6 452.9h0M293.9 454.4h0M294.2 447.9h0M294.4 449.8h0M294.6 446.3h0M294.9 443.6h0M295 442.9h0M295.1 441.7h0M295.4 442.6h0M295.6 449.4h0M295.9 448.1h0M296.1 440.4h0M296.2 429.9h0M296.4 427.8h0M296.5 410.6h0M296.7 390.2h0M296.8 392.1h0M297.1 396.2h0M297.2 358.5h0M297.5 363.9h0M297.7 361.3h0M297.9 365.6h0M298 390.6h0M298.2 400.8h0M298.5 397.7h0M298.7 397.5h0M298.9 397.7h0M299 366.1h0M299.2 372.5h0M299.4 357.4h0M299.7 357.6h0M299.9 359.4h0M300.1 358.7h0M300.4 378.6h0M300.6 375.3h0M300.8 358.4h0M301.1 358.8h0M301.3 358.7h0M301.5 358.8h0M301.7 372.8h0M301.9 372.2h0M302.2 393.4h0M302.4 393.9h0M302.6 402.6h0M302.8 389h0M303 379.3h0M303.2 371.8h0M303.4 374.2h0M303.6 394.3h0M303.7 397.3h0M303.9 377.9h0M304.1 382.4h0M304.3 364.1h0M304.4 366.3h0M304.5 364.9h0M304.7 389.7h0M304.9 395.7h0M305.1 404.9h0M305.4 401.4h0M305.6 405.3h0M305.8 396.5h0M306 399.3h0M306.1 399.6h0M306.3 399.8h0M306.5 398.3h0M306.8 386.5h0M307 393.4h0M307.3 392.2h0M307.5 387.1h0M307.8 389.5h0M307.9 397.6h0M308.2 398.2h0M308.3 396.4h0M308.6 405.5h0M308.8 392h0M309 399h0M309.2 395.5h0M309.4 396.5h0M309.7 398.2h0M309.9 410.1h0M310.1 393.3h0M310.2 400.5h0M310.5 404.6h0M310.6 405.7h0M310.9 403.2h0M311.2 404.4h0M311.4 412.3h0M311.6 404.1h0M311.8 411.3h0M312 413.1h0M312.1 413.5h0M312.3 413.9h0M312.6 414.5h0M312.7 404.7h0M313 405.2h0M313.1 408h0M313.2 404.6h0M313.4 407.4h0M313.6 416.9h0M313.8 416h0M314 417.8h0M314.2 411.4h0M314.3 416.5h0M314.4 418.7h0M314.6 419.3h0M314.9 414.5h0M315 414.7h0M315.3 407.1h0M315.4 416.5h0M315.7 414.5h0M315.9 412.5h0M316 414.2h0M316.2 417.7h0M316.4 412h0M316.7 408.6h0M316.9 412.1h0M317.1 416.2h0M317.4 424.4h0M317.6 425.3h0M317.7 426.6h0M317.9 423.5h0M318.1 422.2h0M318.3 425.8h0M318.4 427.8h0M318.7 428.8h0M318.9 419.5h0M319.1 417h0M319.2 422.1h0M319.4 422.9h0M319.6 415.1h0M319.7 415.4h0M319.9 415.9h0M320.1 416.3h0M320.3 416.9h0M320.6 417.6h0M320.7 423.5h0M320.9 427.8h0M321.2 421.4h0M321.4 418.7h0M321.7 418h0M321.9 417.4h0M322.2 421.7h0M322.4 424.2h0M322.6 422.6h0M322.8 405.2h0M322.9 384.8h0M323.2 346.5h0M323.4 339.7h0M323.5 345.1h0M323.8 349.2h0M324.1 350h0M324.2 350.6h0M324.5 338.4h0M324.6 331h0M324.8 340h0M325 331.3h0M325.2 339.9h0M325.4 326.1h0M325.6 345.2h0M325.8 354.5h0M326 352.6h0M326.2 344.9h0M326.4 345.6h0M326.6 327.3h0M326.9 321.2h0M327.1 337.4h0M327.4 335.2h0M327.6 350.5h0M327.7 352.3h0M327.9 335.7h0M328.2 320h0M328.3 325.3h0M328.6 320.6h0M328.8 320.9h0M329 352.8h0M329.2 352.4h0M329.4 342.5h0M329.6 339.6h0M329.8 344.7h0M330 333.1h0M330.2 325.6h0M330.4 357.5h0M330.7 366.7h0M330.9 368.2h0M331.1 369.9h0M331.3 362.8h0M331.6 356.1h0M331.8 352.3h0M331.9 345.1h0M332 346.5h0M332.2 353.9h0M332.5 359.8h0M332.7 362.5h0M332.9 362.6h0M333.1 375.7h0M333.2 384.6h0M333.5 389.2h0M333.7 389.8h0M333.9 390.6h0M334 389.1h0M334.3 392.2h0M334.4 392.9h0M334.6 393.8h0M334.8 391.5h0M334.9 390.7h0M335.1 382.8h0M335.3 380.6h0M335.5 377h0M335.7 378.8h0M335.9 381.1h0M336.2 389.2h0M336.4 389.2h0M336.6 387h0M336.7 383.6h0M337 381.1h0M337.2 391.5h0M337.3 396.8h0M337.6 389.4h0M337.8 389.7h0M338 384.8h0M338.1 387.7h0M338.4 392.3h0M338.6 390.7h0M338.8 381.7h0M339 381.8h0M339.3 381.9h0M339.6 395.4h0M339.7 399.8h0M339.9 399.9h0M340.2 394h0M340.5 389.9h0M340.7 386.2h0M340.9 391.7h0M341.1 382.5h0M341.3 389.4h0M341.5 382.6h0M341.7 390.4h0M341.8 393.9h0M342 393.9h0M342.2 394h0M342.3 391.7h0M342.5 400.4h0M342.8 397h0M342.9 396.1h0M343.2 396.5h0M343.5 393.7h0M343.7 400.8h0M343.9 394.8h0M344.1 390.6h0M344.4 384h0M344.6 387.9h0M344.7 387h0M344.9 389.1h0M345.2 394.5h0M345.4 390.7h0M345.5 386.8h0M345.7 385.1h0M345.9 395.9h0M346.1 384.9h0M346.4 385h0M346.6 392.5h0M346.9 396.2h0M347.1 401.9h0M347.3 402h0M347.4 400.3h0M347.6 392.9h0M347.8 392.8h0M348 392.8h0M348.2 387.9h0M348.4 395.8h0M348.6 403.4h0M348.9 395.5h0M349.1 400h0M349.3 402.9h0M349.6 405.3h0M349.7 404h0M350 403.5h0M350.2 406.5h0M350.3 401.6h0M350.5 405.6h0M350.7 400.1h0M350.8 403.5h0M351 403.3h0M351.3 405.8h0M351.5 402.3h0M351.7 402.9h0M351.9 405h0M352.1 410.6h0M352.2 411.6h0M352.4 410.5h0M352.6 408.2h0M352.8 415.3h0M353 417.1h0M353.2 418.7h0M353.5 420.4h0M353.6 421.7h0M353.8 422.9h0M354 424.5h0M354.3 426h0M354.5 414.1h0M354.7 414.7h0M354.9 410.4h0M355.1 411h0M355.3 414.6h0M355.5 411.3h0M355.7 411.6h0M356 412h0M356.1 412.1h0M356.3 414.8h0M356.5 412.6h0M356.6 412.8h0M356.9 418.6h0M357.1 419.7h0M357.3 421.1h0M357.6 424.3h0M357.7 426.1h0M358 431.8h0M358.2 431.8h0M358.4 418.1h0M358.7 416.9h0M358.9 419.2h0M359.1 424.2h0M359.3 426.1h0M359.5 425.9h0M359.8 431.5h0M359.9 432.2h0M360.1 432.2h0M360.2 429.9h0M360.5 431.4h0M360.7 432.2h0M360.8 430.5h0M361 432.2h0M361.2 428.1h0M361.4 429.9h0M361.6 432.2h0M361.8 432.2h0M362.1 428.7h0M362.2 425.1h0M362.4 432.2h0M362.5 426.4h0M362.8 427.2h0M362.9 426.6h0M363.1 420.3h0M363.3 421h0M363.5 427h0M363.7 423.1h0M363.9 420.8h0M364 424.4h0M364.2 427.3h0M364.4 428.3h0M364.6 425.7h0M364.7 423.5h0M364.9 420.7h0M365.1 424.3h0M365.3 427.7h0M365.5 427.3h0M365.7 422.8h0M365.9 423.5h0M366.1 425.3h0M366.3 428.9h0M366.4 428.6h0M366.6 423.8h0M366.9 421.7h0M367 431.9h0M367.3 431.8h0M367.4 431.7h0M367.6 431.7h0M367.8 426.7h0M368 423.1h0M368.2 424.6h0M368.4 424.7h0M368.6 424.5h0M368.8 427.3h0M368.9 419.7h0M369.1 426.5h0M369.2 425h0M369.5 429.6h0M369.7 427.5h0M369.9 430.9h0M370.1 430.8h0M370.3 424.8h0M370.5 423.9h0M370.8 426.6h0M371 430.5h0M371.1 430.5h0M371.4 427.1h0M371.7 426.7h0M371.9 427.1h0M372.1 429.9h0M372.2 420.7h0M372.5 420.1h0M372.6 419.4h0M372.9 422.3h0M373 425.7h0M373.3 424.7h0M373.5 423.7h0M373.7 422.7h0M373.9 414.9h0M374 412.8h0M374.3 415.3h0M374.5 417.2h0M374.7 410.5h0M374.9 406.5h0M375.1 409.9h0M375.3 406h0M375.5 410.3h0M375.7 413.9h0M375.9 412.5h0M376.1 411.9h0M376.3 410.7h0M376.5 409.6h0M376.7 408.8h0M376.9 407.7h0M377.2 392.6h0M377.4 393.4h0M377.6 391.9h0M377.7 392.9h0M377.9 392.2h0M378.2 396.7h0M378.4 400.4h0M378.6 398.3h0M378.8 397.6h0M379 399.6h0M379.1 397.6h0M379.3 400.8h0M379.5 402.7h0M379.8 405.1h0M380 400h0M380.1 402.8h0M380.2 399.9h0M380.5 403.2h0M380.6 404.2h0M380.9 408.4h0M381.1 410.9h0M381.4 416.6h0M381.5 416.9h0M381.7 419.4h0M381.8 417.8h0M382.1 420.7h0M382.2 421.5h0M382.4 421.1h0M382.6 420.6h0M382.8 422.8h0M383 423h0M383.2 425.3h0M383.4 424.4h0M383.5 426.3h0M383.7 426.7h0M383.8 424.6h0M384 427.1h0M384.1 424.2h0M384.4 428.6h0M384.6 428.3h0M384.8 429.1h0M384.9 429.9h0M385 420.1h0M385.2 422.4h0M385.4 428.6h0M385.6 417.4h0M385.8 420.1h0M386 419h0M386.3 424.2h0M386.4 419.2h0M386.6 426.9h0M386.9 425.5h0M387.2 420.8h0M387.4 419.2h0M387.7 413.9h0M388 415h0M388.1 414.1h0M388.4 421h0M388.6 421h0M388.8 418.9h0M388.9 414.6h0M389.1 411.8h0M389.3 411.1h0M389.5 414.4h0M389.7 419.9h0M389.9 418.1h0M390.1 418.6h0M390.3 409.7h0M390.6 416.9h0M390.8 415.8h0M390.9 407.5h0M391.2 401.6h0M391.3 401h0M391.4 406.8h0M391.7 413.2h0M391.9 411.4h0M392.2 406.1h0M392.4 407.6h0M392.5 409h0M392.8 402.4h0M393 402.9h0M393.2 403.5h0M393.4 401.5h0M393.6 406.8h0M393.8 403.8h0M394 391.7h0M394.3 390.9h0M394.6 390.1h0M394.7 389.7h0M394.9 389h0M395.2 388.3h0M395.3 387.8h0M395.5 390.4h0M395.7 397.1h0M396 391.1h0M396.1 386.6h0M396.3 386.2h0M396.5 388.4h0M396.6 393.5h0M396.9 392.2h0M397.1 385.6h0M397.2 389.7h0M397.5 375.6h0M397.7 381.4h0M397.9 387.7h0M398.1 383.7h0M398.2 376.5h0M398.4 371.1h0M398.6 364.2h0M398.8 368.9h0M399 368.6h0M399.1 360h0M399.3 359h0M399.5 360.2h0M399.7 374.6h0M399.8 376.2h0M400 375.3h0M400.3 373.6h0M400.5 372.5h0M400.6 363.5h0M400.8 367.4h0M401.1 363.1h0M401.4 371.7h0M401.6 360.4h0M401.8 365.8h0M402.1 362.7h0M402.2 359.3h0M402.5 360.5h0M402.7 362.9h0M403 374.1h0M403.1 370.5h0M403.4 366.2h0M403.6 382h0M403.8 384.9h0M404.1 370.7h0M404.2 358.5h0M404.5 358.5h0M404.6 364.5h0M404.9 373.9h0M405 377.5h0M405.3 378.9h0M405.5 375.5h0M405.7 381.2h0M405.8 366.6h0M406 367.6h0M406.2 369.9h0M406.5 365.2h0M406.6 372.7h0M406.9 376.4h0M407 366.8h0M407.2 379.1h0M407.4 369.4h0M407.6 368.7h0M407.8 373.8h0M408 369.8h0M408.1 371.8h0M408.3 370.7h0M408.5 372.4h0M408.6 371.7h0M408.9 374.9h0M409 372.9h0M409.2 373.5h0M409.4 383.6h0M409.6 388.5h0M409.9 386.3h0M410.1 383.4h0M410.2 378.6h0M410.3 380h0M410.5 385.5h0M410.7 391.7h0M410.9 398.4h0M411.1 401.1h0M411.3 398.7h0M411.5 399.6h0M411.7 391.8h0M412 394.6h0M412.2 386.3h0M412.4 395.2h0M412.6 401.8h0M412.8 398.4h0M413.1 399.9h0M413.2 397.9h0M413.5 393.9h0M413.6 390.8h0M413.8 391.8h0M414 389.2h0M414.2 391.6h0M414.4 399.2h0M414.7 397.6h0M414.9 393.2h0M415.1 393.4h0M415.4 391h0M415.7 392.7h0M415.8 401.6h0M416 398.9h0M416.3 397.4h0M416.5 394.8h0M416.6 388.8h0M416.8 391.9h0M417.1 395h0M417.2 391.4h0M417.4 394.9h0M417.6 392.1h0M417.8 393.3h0M418.1 386.5h0M418.2 384.8h0M418.4 384.2h0M418.6 387.6h0M418.8 387.7h0M419 386.7h0M419.1 386.1h0M419.3 386.7h0M419.4 379.5h0M419.6 378.8h0M419.8 378h0M419.9 386.9h0M420.1 386h0M420.3 385.7h0M420.4 389h0M420.7 378.8h0M420.8 385h0M421 394.6h0M421.3 385.2h0M421.5 384.9h0M421.6 376.3h0M421.8 381.3h0M422.1 385h0M422.4 383.7h0M422.6 386h0M422.8 390.1h0M423 386.9h0M423.2 397.9h0M423.5 393.9h0M423.7 394.5h0M423.9 401.6h0M424 400.8h0M424.2 403.6h0M424.4 404.6h0M424.7 406.2h0M424.8 407.3h0M425 391.5h0M425.2 392.7h0M425.5 398.6h0M425.7 403.2h0M425.9 401.7h0M426.2 405.1h0M426.3 400.1h0M426.5 402.8h0M426.8 403.4h0M426.9 404.4h0M427.1 404.7h0M427.4 404.6h0M427.6 407.9h0M427.8 404.3h0M428 409h0M428.2 404.1h0M428.4 405.6h0M428.6 406.4h0M428.9 403.7h0M429 403.6h0M429.3 406.7h0M429.6 410.5h0M429.8 414.7h0M430.1 415.2h0M430.4 410.7h0M430.6 406.3h0M430.8 410.8h0M430.9 410.9h0M431.1 413.6h0M431.3 410.2h0M431.4 410.6h0M431.7 408.5h0M431.8 401.9h0M432 405.4h0M432.2 403.3h0M432.4 410.4h0M432.6 409.6h0M432.9 409.2h0M433 411.2h0M433.3 409.3h0M433.5 406.9h0M433.6 402.7h0M433.8 401.9h0M434 401.3h0M434.2 404.6h0M434.4 402.6h0M434.6 402.1h0M434.8 402.9h0M435 401.3h0M435.2 402.9h0M435.5 400h0M435.7 401.6h0M436 402.6h0M436.1 402.2h0M436.4 399.9h0M436.5 399.8h0M436.7 400.4h0M436.8 398.4h0M437.1 396.2h0M437.3 399h0M437.6 397.3h0M437.8 400.2h0M437.9 399.7h0M438.2 396h0M438.3 397h0M438.5 392.4h0M438.7 386.3h0M438.9 384.6h0M439 385.3h0M439.2 383.6h0M439.3 383h0M439.6 383.8h0M439.8 381.9h0M439.9 388.1h0M440 385.5h0M440.1 390h0M440.4 384.4h0M440.5 386.4h0M440.7 384.6h0M440.9 390.4h0M441.2 386.4h0M441.4 389.8h0M441.6 388.6h0M441.7 385h0M441.9 383.3h0M442.2 378.8h0M442.4 380.5h0M442.6 379.3h0M442.9 377.9h0M443.1 384.9h0M443.4 380.9h0M443.6 379.5h0M443.7 380.3h0M444 390.1h0M444.2 385.2h0M444.4 380.3h0M444.6 385.9h0M444.8 383.8h0M445.1 380h0M445.3 382.1h0M445.5 379.6h0M445.8 379.7h0M446 379.8h0M446.2 378.5h0M446.4 377.1h0M446.6 375.6h0M446.9 377.2h0M447.1 373.1h0M447.3 370.9h0M447.4 369.8h0M447.6 376.3h0M447.9 379.1h0M448.1 379.3h0M448.2 376.8h0M448.4 363.1h0M448.6 366h0M448.7 360.8h0M448.9 363.8h0M449.1 358.5h0M449.3 357.3h0M449.5 371h0M449.7 374.5h0M449.9 363.6h0M450 354.7h0M450.2 355.2h0M450.5 357.5h0M450.7 364h0M450.9 369.3h0M451.1 369.1h0M451.3 368.9h0M451.5 352.9h0M451.7 354.7h0M451.8 353.7h0M452 346.8h0M452.2 355.1h0M452.3 355.8h0M452.6 363.1h0M452.8 362.8h0M453 361.1h0M453.2 347.9h0M453.3 363.5h0M453.5 367.6h0M453.8 364h0M454 365.3h0M454.1 356.5h0M454.3 364.5h0M454.5 368.2h0M454.8 355.6h0M455 368.5h0M455.3 359.1h0M455.5 356.6h0M455.7 346.8h0M455.9 341h0M456.1 346.3h0M456.3 343.1h0M456.6 342.8h0M456.7 343.3h0M456.9 344.3h0M457.1 344.8h0M457.3 354.6h0M457.5 362.1h0M457.6 362h0M457.8 360.2h0M458 361.4h0M458.2 363.1h0M458.4 366.4h0M458.6 367.7h0M458.8 363.8h0M459.1 363.2h0M459.3 361.7h0M459.6 369.5h0M459.7 370.2h0M459.9 374.6h0M460.1 368.8h0M460.2 369.6h0M460.5 371.5h0M460.8 365.4h0M461 367.6h0M461.2 373.1h0M461.4 380.5h0M461.6 380.1h0M461.8 379.6h0M461.9 375.4h0M462.2 377.1h0M462.4 379.7h0M462.6 383.5h0M462.8 385.1h0M463 386.3h0M463.3 387.8h0M463.5 390.9h0M463.6 395.2h0M463.8 396h0M464 394.4h0M464.3 382.3h0M464.4 382.6h0M464.7 380.8h0M464.9 380h0M465.1 379.6h0M465.2 380.3h0M465.4 381.4h0M465.6 386.7h0M465.8 385.4h0M466 384.1h0M466.2 382.4h0M466.4 376.1h0M466.7 375.8h0M466.9 384.8h0M467.1 388h0M467.2 388.9h0M467.4 387.6h0M467.7 389.4h0M467.9 389.2h0M468 389.2h0M468.3 387.3h0M468.4 388.3h0M468.6 384h0M468.8 388.8h0M468.9 388.7h0M469.1 385.9h0M469.3 382.1h0M469.4 379.4h0M469.7 379.5h0M469.8 376.5h0M470 377.3h0M470.2 374.3h0M470.4 379h0M470.6 380.1h0M470.8 379.7h0M471 384.4h0M471.1 383h0M471.4 380.3h0M471.5 380.1h0M471.7 376.8h0M471.8 382.4h0M472.1 376.2h0M472.3 369.9h0M472.5 370.2h0M472.7 375.7h0M472.9 373.5h0M473.1 378h0M473.2 386.3h0M473.5 381h0M473.6 378.1h0M473.8 385.9h0M474 377.8h0M474.2 369.5h0M474.4 370.8h0M474.5 378.5h0M474.8 376.9h0M474.9 375.5h0M475.1 375.6h0M475.3 378.3h0M475.6 372h0M475.8 371.3h0M476 368.2h0M476.2 367.5h0M476.4 365.7h0M476.7 362.9h0M476.8 365.6h0M477.1 361.5h0M477.3 360.7h0M477.6 360.6h0M477.7 365.7h0M478 362.8h0M478.2 365.9h0M478.4 371.6h0M478.6 369.3h0M478.8 371.7h0M479 376.4h0M479.1 376.5h0M479.3 375.7h0M479.5 371.7h0M479.6 375.2h0M479.9 375.3h0M480.1 371.1h0M480.3 368.1h0M480.5 374.4h0M480.7 374.7h0M480.9 377.3h0M481.1 377.1h0M481.4 369.8h0M481.6 370.8h0M481.8 372.5h0M481.9 365.3h0M482.1 363.5h0M482.3 360.2h0M482.5 361.8h0M482.7 360.5h0M482.9 360.7h0M483.1 366.4h0M483.2 367h0M483.4 368.4h0M483.7 364.2h0M483.8 365.6h0M484.1 371.2h0M484.4 374.1h0M484.6 378.5h0M484.8 369.4h0M485 375.5h0M485.3 372.6h0M485.5 372h0M485.6 364.2h0M485.8 370.7h0M486 370.2h0M486.1 377.1h0M486.3 370.3h0M486.6 374h0M486.7 371.3h0M486.9 369.9h0M487.1 371.6h0M487.3 367.1h0M487.5 366.7h0M487.6 371.8h0M487.8 371h0M488 371.6h0M488.2 366.3h0M488.4 368.9h0M488.7 367.1h0M489 368h0M489.1 375.2h0M489.3 374.2h0M489.5 373h0M489.8 371.9h0M489.9 371.2h0M490.1 371.6h0M490.2 377.7h0M490.5 373.9h0M490.7 373.7h0M490.9 376h0M491.1 374.9h0M491.3 381h0M491.5 380.2h0M491.6 379.7h0M491.8 378.7h0M492.1 376.2h0M492.3 378.7h0M492.5 381.2h0M492.6 384.7h0M492.9 379.5h0M493 382h0M493.3 379.6h0M493.5 381.6h0M493.8 386.1h0M494 382.4h0M494.1 380.8h0M494.3 380.6h0M494.5 384h0M494.7 387h0M495 383.9h0M495.3 385.1h0M495.5 387.5h0M495.8 386.7h0M496 385.8h0M496.1 383.4h0M496.3 381h0M496.5 381h0M496.7 382.7h0M496.9 382.9h0M497.2 380.7h0M497.4 370.9h0M497.7 374.8h0M497.9 379.5h0M498.2 373.1h0M498.4 379h0M498.6 378.9h0M498.8 376.8h0M499 375.9h0M499.1 372.2h0M499.3 369.6h0M499.5 371.4h0M499.7 372.1h0M499.9 369h0M500.1 366.2h0M500.3 370.1h0M500.6 374.5h0M500.7 369.2h0M500.9 371.5h0M501.1 373.8h0M501.3 370.7h0M501.5 372.4h0M501.6 366h0M501.8 365.7h0M502.1 372.4h0M502.3 373.9h0M502.6 371.9h0M502.8 374.1h0M502.9 370.7h0M503.1 369.2h0M503.3 365.3h0M503.4 367.7h0M503.7 372.3h0M503.9 376.7h0M504.2 374.6h0M504.4 370.2h0M504.6 373.1h0M504.8 371.2h0M505 373.5h0M505.2 372.9h0M505.3 372.8h0M505.6 364.6h0M505.8 367.4h0M506 372.5h0M506.2 376h0M506.5 375.9h0M506.7 375.9h0M506.9 375.8h0M507.1 375.3h0M507.2 373.1h0M507.4 368.2h0M507.7 369.6h0M507.9 365.4h0M508.1 363.4h0M508.2 367.9h0M508.4 373.2h0M508.7 375.4h0M508.8 370.9h0M509.1 368.3h0M509.3 370.9h0M509.4 374.2h0M509.7 375.3h0M509.8 373.2h0M509.9 367.4h0M510.1 373h0M510.3 372.9h0M510.5 366.7h0M510.6 363.8h0M510.9 364.2h0M511 352.7h0M511.2 364.1h0M511.5 348.3h0M511.8 338.3h0M512 348.3h0M512.1 356.2h0M512.4 346.9h0M512.6 348.4h0M512.9 352.8h0M513.1 341.9h0M513.4 343.3h0M513.6 360h0M513.9 364.6h0M514 367.5h0M514.2 368.5h0M514.4 362.2h0M514.6 366.3h0M514.7 357.3h0M514.9 372h0M515 369.8h0M515.2 377.1h0M515.5 374h0M515.6 373h0M515.8 370.9h0M515.9 373.3h0M516.1 375.4h0M516.3 381h0M516.5 380.3h0M516.8 384.3h0M516.9 384.8h0M517.1 390.2h0M517.4 389.4h0M517.6 388.1h0M517.9 391.4h0M518.2 390.1h0M518.3 390.2h0M518.5 390.1h0M518.7 385.7h0M518.9 385.1h0M519.1 383.5h0M519.2 390.5h0M519.4 392.8h0M519.5 390.2h0M519.8 389h0M520.1 389.1h0M520.3 385.4h0M520.4 387.3h0M520.7 385.7h0M520.8 389.2h0M521 380.8h0M521.1 384.5h0M521.3 387.4h0M521.5 388.7h0M521.7 383.2h0M522 384.2h0M522.2 391.9h0M522.4 396.3h0M522.6 397.1h0M522.8 392.5h0M523 392.5h0M523.3 390.8h0M523.5 394.2h0M523.7 399.5h0M523.9 397h0M524.1 397.9h0M524.3 403.9h0M524.6 404.7h0M524.8 398h0M525 394.9h0M525.3 396.7h0M525.4 397.5h0M525.7 394.1h0M525.8 393.3h0M526.1 393.6h0M526.4 396.3h0M526.6 401.2h0M526.8 395.1h0M527 397.9h0M527.2 397.2h0M527.5 395.6h0M527.7 402.7h0M527.9 400.7h0M528.1 401.8h0M528.3 396.9h0M528.5 397.3h0M528.7 403.2h0M528.9 405.1h0M529.1 402.1h0M529.4 408.6h0M529.6 406.5h0M529.8 406h0M530 401.8h0M530.2 401.2h0M530.4 413.3h0M530.7 408.3h0M530.8 404.5h0M531.1 402.2h0M531.2 401h0M531.4 405.9h0M531.6 407.3h0M531.7 401.6h0M531.9 401.7h0M532.1 408.7h0M532.3 405.5h0M532.5 420.3h0M532.8 418.4h0M533 425.6h0M533.2 426.3h0M533.5 426.9h0M533.7 425.5h0M533.9 424.1h0M534.1 415.9h0M534.2 420h0M534.3 428h0M534.6 427.8h0M534.8 427.7h0M535 427.5h0M535.2 422.5h0M535.5 425.2h0M535.7 427.1h0M535.9 417.5h0M536.2 404.1h0M536.4 403.4h0M536.6 412.4h0M536.8 420h0M537 410.1h0M537.2 406.1h0M537.4 403.3h0M537.7 403.2h0M537.9 403.2h0M538.1 410.2h0M538.3 412.5h0M538.6 410h0M538.7 403h0M539 403h0M539.1 413.6h0M539.3 411.8h0M539.5 409.6h0M539.6 413.3h0M539.8 415.5h0M540.1 407.2h0M540.4 402.9h0M540.5 419.5h0M540.7 424.4h0M540.8 424.5h0M540.9 424.5h0M541.2 424.6h0M541.4 424.7h0M541.5 422.7h0M541.8 424.3h0M542 424.9h0M542.2 424.9h0M542.4 420.8h0M542.6 424.7h0M542.8 424.7h0M543.1 422.2h0M543.3 408h0M543.5 413.2h0M543.7 425.4h0M543.8 425.5h0M544.1 425.6h0M544.2 425.6h0M544.3 416.3h0M544.5 417.4h0M544.7 423h0M544.9 423.8h0M545.1 425.9h0M545.4 426h0M545.6 418.8h0M545.8 426.1h0M546 422.7h0M546.2 426.4h0M546.4 426.6h0M546.7 419.3h0M546.8 412.4h0M547 421.8h0M547.2 425.3h0M547.3 417.4h0M547.5 420h0M547.8 415.5h0M547.9 426.9h0M548.1 425.6h0M548.3 428.5h0M548.5 428.2h0M548.8 414.4h0M548.9 406.8h0M549.2 411.4h0M549.4 415.7h0M549.6 415.4h0M549.9 425.3h0M550.1 419.6h0M550.3 419.2h0M550.5 416h0M550.8 413.8h0M551 421h0M551.2 411.6h0M551.5 406.8h0M551.6 411.4h0M551.7 406.8h0M551.9 407.5h0M552 417.3h0M552.3 423.5h0M552.5 417.5h0M552.8 418.9h0M553 414.8h0M553.2 409h0M553.5 407.6h0M553.6 408.9h0M553.9 408.1h0M554.1 409.8h0M554.3 411.4h0M554.6 409.1h0M554.7 409.3h0M554.9 409.7h0M555.1 415.6h0M555.4 419.7h0M555.6 418.7h0M555.8 422.2h0M556 418.2h0M556.2 413.9h0M556.3 411.8h0M556.5 412.1h0M556.7 413.3h0M556.9 415.5h0M557.2 415.7h0M557.3 416.2h0M557.6 417.8h0M557.7 413h0M558 416.1h0M558.2 422h0M558.5 422.2h0M558.7 422.2h0M559 422.2h0M559.1 419h0M559.3 420.3h0M559.5 421.9h0M559.7 417.4h0M559.9 418.2h0M560.1 419.4h0M560.3 419.2h0M560.6 416.2h0M560.8 414.5h0M560.9 414.4h0M561.2 413.8h0M561.3 413.9h0M561.6 418.3h0M561.8 418.4h0M562 420.6h0M562.3 414.1h0M562.5 415.7h0M562.7 415h0M562.8 415.8h0M563 414.3h0M563.1 414.3h0M563.3 414.4h0M563.5 417.1h0M563.6 419h0M563.8 420h0M564 418.1h0M564.3 414.6h0M564.5 414.7h0M564.7 416.7h0M565 417.7h0M565.2 419h0M565.3 418.2h0M565.5 420.2h0M565.8 419.9h0M566 417h0M566.2 419.5h0M566.5 416.7h0M566.6 415.6h0M566.9 414.8h0M567.1 418.1h0M567.3 417.9h0M567.5 420h0M567.7 421.1h0M567.8 416.7h0M568 414.8h0M568.3 415.9h0M568.5 414.8h0M568.7 414.8h0M568.9 415.3h0M569.1 414.8h0M569.3 416.3h0M569.5 418.1h0M569.6 418.8h0M569.8 419.9h0M570 419.3h0M570.2 420.3h0M570.5 417.8h0M570.7 414.8h0M570.9 417.2h0M571.1 416.5h0M571.4 418h0M571.5 416.4h0M571.7 417h0M571.9 419.6h0M572.1 418.3h0M572.3 421.5h0M572.6 420.2h0M572.8 420.5h0M573 420.9h0M573.2 418.7h0M573.5 415.4h0M573.6 414.8h0M573.8 414.8h0M574 417.2h0M574.2 414.8h0M574.5 415.9h0M574.6 415.2h0M574.8 418.6h0M575 417.9h0M575.1 417.2h0M575.3 421h0M575.4 418h0M575.6 417.3h0M575.7 419.1h0M575.9 418.6h0M576.1 419.2h0M576.3 421h0M576.5 421.8h0M576.7 416.9h0M576.9 420.6h0M577 422.1h0M577.3 420.3h0M577.5 422.3h0M577.6 422.3h0M577.8 422.4h0M577.9 421.4h0M578.1 422.4h0M578.2 422.6h0M578.4 422.6h0M578.6 422h0M578.8 422.8h0M579 422.9h0M579.3 421.6h0M579.5 422.4h0M579.7 423.2h0M579.8 423.3h0M580.1 423.4h0M580.3 423.5h0M580.5 423.5h0M580.6 419.9h0M580.8 422.1h0M581 423.8h0M581.3 423.9h0M581.5 420.6h0M581.7 417.8h0M581.9 415.8h0M582 415.8h0M582.3 417h0M582.5 416.2h0M582.8 417.4h0M582.9 421.1h0M583.2 422.7h0M583.3 422.9h0M583.6 420.4h0M583.8 416.7h0M584.1 418.2h0M584.2 417.4h0M584.5 419.1h0M584.7 417.2h0M585 418.7h0M585.2 418.6h0M585.5 417.6h0M585.7 413.4h0M585.8 413.3h0M586 413.1h0M586.2 413h0M586.4 414.9h0M586.7 415.3h0M586.9 417.4h0M587.2 416.1h0M587.4 413.6h0M587.7 412h0M587.9 413h0M588.2 410.2h0M588.4 408.2h0M588.7 411.6h0M588.8 409.6h0M589 409.6h0M589.2 403.8h0M589.3 411h0M589.6 411.1h0M589.8 409.9h0M590 406.7h0M590.3 400.6h0M590.5 396.1h0M590.7 394.5h0M591 393.3h0M591.2 390.8h0M591.4 390.1h0M591.6 396.3h0M591.9 398.9h0M592.1 405.3h0M592.3 398.2h0M592.5 399.1h0M592.7 394.7h0M592.9 394h0M593.1 392.4h0M593.3 400.1h0M593.4 405.5h0M593.6 404.3h0M593.8 403.2h0M594 401.3h0M594.2 399.4h0M594.4 390.3h0M594.5 391.9h0M594.7 399.3h0M594.9 401.3h0M595 405.8h0M595.2 401.4h0M595.4 401.9h0M595.6 400h0M595.8 398.7h0M595.9 397.5h0M596 406h0M596.3 406.1h0M596.5 405.2h0M596.8 406.2h0M597 406.2h0M597.2 404.3h0M597.3 406.2h0M597.5 404.4h0M597.7 402.8h0M597.9 401h0M598.1 400.6h0M598.3 399.5h0M598.4 404.2h0M598.6 405.9h0M598.9 397.8h0M599 390.1h0M599.1 393.7h0M599.3 390h0M599.5 390.9h0M599.8 389.9h0M600 399.3h0M600.3 398.8h0M600.4 389.7h0M600.7 391.5h0M601 394h0M601.1 389.4h0M601.3 389.5h0M601.5 396.7h0M601.6 399.1h0M601.8 405.4h0M602.1 405.4h0M602.2 401.5h0M602.4 402.7h0M602.5 405.3h0M602.8 403.9h0M602.9 404.3h0M603.1 404.9h0M603.4 396.9h0M603.6 394.7h0M603.7 395.2h0M603.9 391.5h0M604.1 390.7h0M604.2 396h0M604.5 394.9h0M604.7 390.1h0M605 393h0M605.2 382.9h0M605.4 383.7h0M605.6 377.8h0M605.8 362.3h0M606 352.8h0M606.2 357.3h0M606.4 368.1h0M606.6 355.1h0M606.8 354.4h0M607.1 346.9h0M607.2 356h0M607.5 356h0M607.6 356.1h0M607.9 352.3h0M608.2 355.4h0M608.4 355.9h0M608.5 359.5h0M608.7 354.6h0M608.8 346.1h0M609 341.8h0M609.2 348.7h0M609.4 345.1h0M609.5 341.8h0M609.7 348.8h0M609.9 339.3h0M610.1 339.1h0M610.2 339h0M610.5 338.8h0M610.6 345h0M610.8 329.8h0M611 326.7h0M611.3 329.4h0M611.5 326.1h0M611.7 310.1h0M611.9 310.1h0M612.1 304.5h0M612.2 302.5h0M612.5 302h0M612.6 318.9h0M612.8 337.9h0M613 344.7h0M613.2 335.1h0M613.5 347.1h0M613.7 333.9h0M613.9 335.8h0M614.2 335.8h0M614.3 350.5h0M614.6 351.4h0M614.8 343.2h0M615 350h0M615.3 353.8h0M615.5 355.4h0M615.8 357.2h0M615.9 355.5h0M616.1 350.3h0M616.4 360.4h0M616.6 356.9h0M616.8 350.7h0M617 356.3h0M617.2 350.9h0M617.4 357.5h0M617.6 347.8h0M617.7 348.3h0M617.9 354.8h0M618.1 359.1h0M618.3 365.3h0M618.5 359.7h0M618.8 365.2h0M619 366.1h0M619.2 360.7h0M619.3 366.4h0M619.5 365.9h0M619.7 366.8h0M619.9 356.7h0M620 348.7h0M620.3 348.6h0M620.5 343.8h0M620.7 352h0M620.9 350.3h0M621.1 357.3h0M621.3 359h0M621.5 357.3h0M621.7 360.6h0M622 345.8h0M622.1 354.6h0M622.2 351.4h0M622.4 358.7h0M622.6 347.4h0M622.9 351.6h0M623.1 360.3h0M623.2 363.9h0M623.4 348.8h0M623.6 350.1h0M623.8 360.6h0M624 369.2h0M624.1 367h0M624.3 363.8h0M624.6 369.6h0M624.8 369.7h0M625 359.9h0M625.2 360.5h0M625.4 370.2h0M625.6 368.3h0M625.8 366.8h0M626 367.4h0M626.3 370.7h0M626.5 370.8h0M626.7 363.6h0M626.9 363.8h0M627.2 369.4h0M627.4 374.7h0M627.6 369.9h0M627.7 376.9h0M628 377.9h0M628.1 371.4h0M628.3 381.6h0M628.5 379.6h0M628.7 373.5h0M628.9 378.8h0M629.2 378.7h0M629.4 380h0M629.7 385.1h0M629.9 389.5h0M630 389.9h0M630.2 383.5h0M630.3 381.2h0M630.5 383.6h0M630.7 389.7h0M630.9 384.7h0M631.1 391h0M631.3 393.5h0M631.6 394.2h0M631.8 394.7h0M631.9 388h0M632.1 391.1h0M632.3 391.3h0M632.5 395.7h0M632.7 391.8h0M633 391h0M633.1 384.6h0M633.4 381.5h0M633.6 381.9h0M633.8 390.8h0M634 395.9h0M634.2 393.4h0M634.4 392.6h0M634.6 393.6h0M634.9 390h0M635 387.5h0M635.2 387.5h0M635.4 382.5h0M635.5 382.6h0M635.8 383.8h0M635.9 382.8h0M636.1 386h0M636.3 385h0M636.6 383.1h0M636.9 383.2h0M637 383.3h0M637.2 384.1h0M637.4 400.6h0M637.7 399.8h0M637.9 397.1h0M638.1 386h0M638.4 390.2h0M638.5 393.1h0M638.6 384.1h0M638.8 384.2h0M639 386.5h0M639.2 388.6h0M639.5 390.9h0M639.6 394.9h0M639.8 392.6h0M640 385.7h0M640.2 389.3h0M640.4 390.4h0M640.6 403.5h0M640.8 395.7h0M641.1 399.2h0M641.2 392.9h0M641.4 405.2h0M641.7 397h0M641.9 393h0M642.1 395.7h0M642.4 397.1h0M642.6 399.9h0M642.8 392.7h0M643 396.3h0M643.3 407.8h0M643.5 400.8h0M643.7 396.7h0M643.9 396.5h0M644.1 406.6h0M644.2 409.1h0M644.4 397.2h0M644.7 394h0M644.9 395.5h0M645.1 387.8h0M645.3 388h0M645.5 409.1h0M645.7 404.7h0M645.9 411.5h0M646.1 411.8h0M646.3 408.7h0M646.5 411.7h0M646.7 405.8h0M646.8 401.1h0M647.1 413.1h0M647.3 413.4h0M647.6 404.1h0M647.7 411.8h0M647.9 404.2h0M648.1 398.2h0M648.3 393.5h0M648.5 398.3h0M648.8 408.7h0M649 401.5h0M649.3 414.5h0M649.4 416.3h0M649.6 409.8h0M649.9 411.4h0M650 394.6h0M650.2 398.1h0M650.4 396.1h0M650.6 392h0M650.7 401h0M650.9 399h0M651.1 395.9h0M651.3 397.7h0M651.4 393.6h0M651.7 394.1h0M651.9 398.3h0M652 410.7h0M652.2 417.1h0M652.4 415h0M652.7 416.3h0M652.8 413.6h0M653.1 412.9h0M653.3 405h0M653.5 404.7h0M653.7 412.9h0M653.9 416.8h0M654.1 414.1h0M654.3 416.7h0M654.5 413.1h0M654.8 415.2h0M655 405.4h0M655.2 412.4h0M655.4 412.5h0M655.6 397.8h0M655.7 397.9h0M655.9 409.5h0M656 411.7h0M656.2 411h0M656.4 415.8h0M656.6 415.8h0M656.8 413.5h0M657 410.7h0M657.1 412.4h0M657.4 405.4h0M657.5 408.6h0M657.7 415.3h0M657.9 415.2h0M658 407.6h0M658.2 411.9h0M658.3 409.7h0M658.5 409.9h0M658.7 414.5h0M658.9 412.2h0M659.1 414.1h0M659.3 407.5h0M659.5 409.5h0M659.8 401.1h0M659.9 399.1h0M660.1 412.3h0M660.3 410.7h0M660.6 410.4h0M660.7 408.9h0M660.9 412.3h0M661 412.2h0M661.2 407.5h0M661.4 407.4h0M661.6 405.2h0M661.8 409.1h0M662.1 410.4h0M662.3 404.8h0M662.4 407h0M662.6 410.4h0M662.8 408.1h0M663 409.5h0M663.3 405.3h0M663.5 408.9h0M663.7 405.8h0M663.9 405.3h0M664.2 409.6h0M664.3 406.8h0M664.5 408.2h0M664.7 411.5h0M664.9 411.6h0M665.1 407.9h0M665.3 410.5h0M665.5 415.1h0M665.6 415.7h0M665.8 414.7h0M666 417.3h0M666.2 416.2h0M666.3 415.2h0M666.5 416.1h0M666.7 418.7h0M666.8 411h0M667.1 408h0M667.4 408.3h0M667.6 407.4h0M667.8 408.3h0M668 410h0M668.1 412.4h0M668.3 416.8h0M668.5 416h0M668.8 411.4h0M669 408.8h0M669.2 409h0M669.4 409.2h0M669.5 411.2h0M669.7 409.5h0M669.8 409.6h0M670.1 410.7h0M670.3 417.1h0M670.5 418.3h0M670.6 420.2h0M670.8 419.9h0M671 419.2h0M671.2 421.2h0M671.4 422.9h0M671.6 423h0M671.9 422.4h0M672 423.2h0M672.2 423.2h0M672.4 423.2h0M672.6 417.3h0M672.9 423.2h0M673 421.5h0M673.3 420.6h0M673.4 414.3h0M673.5 418.1h0M673.7 411.8h0M673.9 414.3h0M674.1 418.5h0M674.3 422.6h0M674.5 419.1h0M674.7 417.6h0M674.9 417.2h0M675.1 416.6h0M675.4 413.5h0M675.6 415.9h0M675.7 416.2h0M676 422.2h0M676.2 422.2h0M676.4 420.1h0M676.7 415.5h0M676.8 411.8h0M677 411.8h0M677.2 411.8h0M677.5 411.8h0M677.8 411.8h0M678 414.5h0M678.2 412.9h0M678.3 412.7h0M678.5 411.8h0M678.7 419.4h0M678.8 419.7h0M679.1 416.5h0M679.2 419.2h0M679.4 419.3h0M679.6 417.8h0M679.7 419.2h0M679.9 422.5h0M680.1 422.5h0M680.3 423h0M680.6 421.5h0M680.8 419.2h0M681 422.6h0M681.2 420.6h0M681.4 422.3h0M681.6 420.4h0M681.8 415.5h0M682 412.5h0M682.3 409.9h0M682.5 417.2h0M682.6 411.2h0M682.9 410.3h0M683.2 409.6h0M683.3 405.3h0M683.5 406.7h0M683.7 406.6h0M683.9 402.6h0M684.1 401.9h0M684.3 403.9h0M684.5 400h0M684.8 411.1h0M685 411.3h0M685.1 403.6h0M685.3 399.6h0M685.5 397h0M685.7 396.7h0M685.9 403.4h0M686.1 401.5h0M686.3 399.5h0M686.5 399.7h0M686.6 396.7h0M686.8 400.2h0M687 396.6h0M687.2 395.6h0M687.5 394.1h0M687.7 393.4h0M687.9 394.8h0M688.1 395.5h0M688.3 389.2h0M688.4 397.5h0M688.6 401.3h0M688.8 390h0M689 395.9h0M689.1 388.4h0M689.3 385.4h0M689.5 385.5h0M689.7 383.2h0M689.9 388h0M690.1 386.8h0M690.2 379.6h0M690.4 373.7h0M690.7 373.4h0M690.9 378.9h0M691.1 386h0M691.3 389.8h0M691.6 392.4h0M691.7 392.3h0M691.9 392.2h0M692 392.2h0M692.2 379.8h0M692.3 377.1h0M692.5 387.1h0M692.8 378.8h0M692.9 377.5h0M693.1 370.9h0M693.3 381.2h0M693.5 389.4h0M693.7 392.2h0M693.9 387h0M694 384.6h0M694.2 383.8h0M694.5 392.2h0M694.7 388.5h0M695 379.7h0M695.1 377.2h0M695.3 381.3h0M695.5 392.6h0M695.8 385.3h0M695.9 377h0M696.1 386.2h0M696.3 388.6h0M696.5 378h0M696.7 381.9h0M696.9 375.6h0M697.2 372.5h0M697.5 372.8h0M697.7 388.5h0M697.9 396.3h0M698.1 398.2h0M698.4 400.1h0M698.5 398.9h0M698.7 399.8h0M698.9 400.8h0M699 401.7h0M699.3 411.3h0M699.4 406.6h0M699.7 405h0M699.9 406h0M700 406.8h0M700.3 420.2h0M700.5 419.5h0M700.6 413.4h0M700.8 407.6h0M701 407.8h0M701.1 407.9h0M701.2 419.5h0M701.4 425.8h0M701.6 435.4h0M701.9 429.9h0M702 438.2h0M702.2 437.8h0M702.4 429.3h0M702.7 435.3h0M702.8 436.9h0M703 416.1h0M703.2 414.7h0M703.5 425.8h0M703.7 427.2h0M704 433.7h0M704.2 430.5h0M704.4 430.6h0M704.6 429.9h0M704.9 432h0M705 408.6h0M705.3 407.8h0M705.5 409.7h0M705.7 406.1h0M705.9 410.9h0M706.1 407.6h0M706.3 417.6h0M706.5 421.3h0M706.7 410.6h0M706.9 405.3h0M707.2 396.3h0M707.4 390.6h0M707.5 392.4h0M707.7 395h0M707.9 398.8h0M708.1 394.8h0M708.3 394.2h0M708.6 397.1h0M708.7 398.7h0M708.9 392.3h0M709.1 388.8h0M709.3 391.8h0M709.5 397.9h0M709.7 394.1h0M710 391.8h0M710.1 388.8h0M710.4 391.3h0M710.5 388.8h0M710.8 388.8h0M711 388.8h0M711.1 392.9h0M711.3 391.5h0M711.5 395.1h0M711.7 395.1h0M711.9 396.4h0M712.1 397.9h0M712.4 399.8h0M712.6 400.8h0M712.7 407.6h0M713 404.8h0M713.2 408.7h0M713.5 406.7h0M713.8 403h0M714 403.3h0M714.3 400.8h0M714.4 411.4h0M714.6 401.9h0M714.8 400.8h0M715 403.6h0M715.3 400.8h0M715.4 401.1h0M715.7 400.8h0M715.9 400.8h0M716.2 402.8h0M716.3 404.4h0M716.6 404.2h0M716.8 402.2h0M717 400.8h0M717.2 406.6h0M717.3 401.8h0M717.4 400.8h0M717.6 400.8h0M717.8 404.2h0M718 403.8h0M718.2 400.6h0M718.3 406.1h0M718.5 403.3h0M718.7 399.9h0M718.9 399.5h0M719.1 400.4h0M719.3 403.9h0M719.5 401.1h0M719.7 400.9h0M719.9 401.5h0M720.1 409h0M720.2 406.4h0M720.4 407.7h0M720.6 402.9h0M720.8 404.9h0M721.1 408.5h0M721.2 407.7h0M721.5 403h0M721.6 402.2h0M721.9 397.6h0M722.2 391.3h0M722.4 393.4h0M722.6 399.1h0M722.8 396.5h0M723 392.9h0M723.2 396h0M723.4 389.2h0M723.6 391.9h0M723.9 390.2h0M724.1 390.8h0M724.4 398.2h0M724.6 398.1h0M724.8 392.7h0M725 388.2h0M725.3 391.3h0M725.4 387.2h0M725.7 389.3h0M725.9 389.3h0M726.1 393.3h0M726.3 389.2h0M726.6 386.4h0M726.8 390.4h0M727 394.5h0M727.2 389.1h0M727.4 381.9h0M727.6 383.5h0M727.8 384.4h0M728.1 381.7h0M728.2 381.5h0M728.4 388.7h0M728.6 394.1h0M728.9 395.1h0M729 389.1h0M729.1 387.9h0M729.3 381.1h0M729.6 385.3h0M729.8 378.7h0M730 378.2h0M730.2 378h0M730.3 382.3h0M730.5 386.2h0M730.7 391h0M730.8 380.4h0M731 384.9h0M731.2 391.8h0M731.4 391.9h0M731.6 390h0M731.8 383.1h0M732 383.9h0M732.2 379.5h0M732.4 374.4h0M732.6 372h0M732.8 370.8h0M733 374.8h0M733.1 372.5h0M733.4 367.8h0M733.7 367.4h0M733.9 365.4h0M734.1 366.2h0M734.3 363.5h0M734.4 362.8h0M734.7 365.6h0M734.9 363.7h0M735 367.8h0M735.2 359.4h0M735.4 359.6h0M735.6 359.7h0M735.8 365h0M736 371h0M736.1 363.5h0M736.3 367.5h0M736.6 367.8h0M736.7 365.9h0M736.9 363.4h0M737.1 365h0M737.4 362.1h0M737.7 357.1h0M737.8 352.6h0M738.1 351.5h0M738.2 344.5h0M738.3 353.5h0M738.5 351.4h0M738.8 344.5h0M739.1 343.6h0M739.2 339.5h0M739.3 347.5h0M739.6 344.7h0M739.8 348.5h0M740 350.1h0M740.2 341.7h0M740.4 348.2h0M740.6 335h0M740.8 329.8h0M740.9 328.7h0M741.2 338h0M741.4 330.4h0M741.5 334.6h0M741.8 338.6h0M742 340.4h0M742.2 346h0M742.5 333.4h0M742.7 328.3h0M743 331.5h0M743.2 337.2h0M743.4 335.2h0M743.6 331.2h0M743.8 314.5h0M744 314.9h0M744.2 315.7h0M744.4 328.6h0M744.6 335h0M744.8 341.2h0M744.9 348.4h0M745.1 348.7h0M745.3 348.9h0M745.5 342.1h0M745.8 328.2h0M745.9 339.1h0M746.1 342.8h0M746.3 340.5h0M746.5 350.5h0M746.8 350.9h0M747 349.7h0M747.2 351.4h0M747.4 333.7h0M747.5 351.7h0M747.8 352h0M748.1 344.8h0M748.2 341.4h0M748.5 343.3h0M748.7 346.1h0M748.9 343.1h0M749.1 350h0M749.3 330.7h0M749.5 314.3h0M749.6 315.8h0M749.8 316.8h0M765.7 286.5h0M765.8 287.8h0M766 279.1h0M766.2 273.6h0M766.3 280.7h0M766.5 276.2h0M766.7 284.1h0M766.8 294.2h0M767 287.1h0M767.1 280h0M767.3 283.2h0M767.5 280.6h0M767.6 280.6h0M767.8 287.4h0M768.1 296.2h0M768.3 298.4h0M768.5 291.4h0M768.7 286.8h0M768.8 287.6h0M769.1 289.2h0M769.2 291.3h0M769.4 296.6h0M769.6 292.3h0M769.8 301h0M770 300.1h0M770.2 306.5h0M770.4 314.6h0M770.6 312.8h0M770.8 315.7h0M771 321.1h0M771.2 318.3h0M771.3 306.4h0M771.5 311.5h0M771.6 305.4h0M771.8 311.8h0M772 310.4h0M772.2 328.9h0M772.5 326.5h0M772.6 316.6h0M772.9 331.9h0M773.1 331.4h0M773.3 336.3h0M773.5 335h0M773.7 336.2h0M774 338.6h0M774.2 329.5h0M774.5 332.7h0M774.7 334.3h0M774.9 338.4h0M775.1 339.5h0M775.3 351.1h0M775.5 351.8h0M775.8 352.4h0M776 355.8h0M776.2 363.4h0M776.5 377.7h0M776.7 380.4h0M776.8 367.1h0M777 365.3h0M777.1 368.8h0M777.3 371.1h0M777.5 375.4h0M777.7 367.2h0M777.9 391.4h0M778.2 390.5h0M778.4 385h0M778.6 392h0M778.8 389h0M779 389.3h0M779.2 392.9h0M779.4 396.3h0M779.6 403.1h0M779.9 405.2h0M780.1 407.7h0M780.3 406.7h0M780.5 406.5h0M780.7 407.8h0M780.9 407h0M781.1 412.5h0M781.3 412h0M781.5 414.4h0M781.6 410.7h0M781.9 418.2h0M782 412.4h0M782.3 408.5h0M782.5 408.6h0M782.7 409.7h0M783 414.5h0M783.2 415.1h0M783.4 407.3h0M783.6 414.3h0M783.9 415.1h0M784 421.2h0M784.2 421.2h0M784.3 421.2h0M784.5 413.7h0M784.7 421.2h0M784.9 421.2h0M785.1 403.5h0M785.2 405.8h0M785.4 403.1h0M785.5 414.1h0M785.8 408.7h0M786 414.9h0M786.1 411.3h0M786.3 421.2h0M786.5 421.2h0M786.7 411.4h0M786.9 416.2h0M787.1 421.2h0M787.3 421.2h0M787.5 412.9h0M787.7 416.9h0M787.8 405.5h0M787.9 398.6h0M788.2 411.6h0M788.4 404.2h0M788.5 405.1h0M788.8 390.3h0M789 398.7h0M789.2 390.8h0M789.4 389.7h0M789.7 413.3h0M789.9 421.2h0M790 399.7h0M790.3 410.7h0M790.5 394.7h0M790.7 384h0M791 377.1h0M791.2 378.9h0M791.5 364.9h0M791.7 367h0M791.8 365.8h0M792.1 365.2h0M792.2 365.4h0M792.4 374.5h0M792.7 384.4h0M792.9 382.7h0M793.2 378h0M793.4 380.1h0M793.6 387.9h0M793.7 380.3h0M793.9 368.9h0M794.1 370.5h0M794.4 366.8h0M794.6 370.6h0M794.8 379.5h0M795.1 376h0M795.2 376.3h0M795.4 375.2h0M795.6 379.8h0M795.8 384.7h0M796 380.8h0M796.3 377.2h0M796.5 366.8h0M796.7 371h0M797 369.1h0M797.2 370.9h0M797.4 376h0M797.7 374.5h0M797.9 363.4h0M798.1 362.4h0M798.3 366.5h0M798.5 370h0M798.7 376.3h0M799 366.7h0M799.2 372.1h0M799.4 372.6h0M799.6 372.9h0M799.8 371.9h0M800 371.3h0M800.2 370.8h0M800.4 369.5h0M800.6 369.7h0M800.7 362.8h0M800.8 361.2h0M801.1 355.9h0M801.2 358.8h0M801.5 367.3h0M801.6 366.9h0M801.8 363.8h0M802 364.2h0M802.2 365.3h0M802.4 360h0M802.6 358.4h0M802.7 356.2h0M802.9 351.6h0M803.2 351h0M803.4 361.3h0M803.6 362.8h0M803.8 362.7h0M803.9 352.6h0M804.1 358.7h0M804.2 360.8h0M804.4 357.4h0M804.6 350.5h0M804.8 352.1h0M805 341.7h0M805.3 348.5h0M805.4 334.8h0M805.5 339.4h0M805.8 351.5h0M806 359.6h0M806.1 334.7h0M806.3 331.1h0M806.4 334.8h0M806.7 325.5h0M806.9 325.4h0M807.1 322.9h0M807.3 321h0M807.5 316.1h0M807.7 328.3h0M807.9 318h0M808.1 329.4h0M808.3 333.2h0M808.4 319.7h0M808.7 337h0M808.9 334.4h0M809.1 332.9h0M809.2 336.8h0M809.4 339.9h0M809.6 336.5h0M809.8 327.5h0M810 349h0M810.2 343.6h0M810.4 351.8h0M810.6 340.5h0M810.9 351.1h0M811.1 355.6h0M811.3 357h0M811.4 357.8h0M811.7 343.1h0M811.8 347.5h0M812 341.8h0M812.1 338.8h0M812.3 348h0M812.4 354.1h0M812.7 361.4h0M812.9 361.1h0M813.1 347.1h0M813.3 343.8h0M813.5 349.9h0M813.6 357.7h0M813.9 360.1h0M814.1 355.7h0M814.2 348.3h0M814.4 348.3h0M814.6 339.7h0M814.8 339.7h0M815 351h0M815.3 342.3h0M815.5 351h0M815.8 344.2h0M816 342.7h0M816.3 349.3h0M816.5 354.8h0M816.8 352.8h0M817 349.1h0M817.2 352.1h0M817.4 362.2h0M817.7 359.7h0M817.9 348h0M818 346h0M818.3 343.8h0M818.4 340.2h0M818.6 341.1h0M818.9 337.9h0M819.1 341.5h0M819.3 336.5h0M819.6 342.1h0M819.7 350.4h0M819.9 350.4h0M820.2 354.1h0M820.3 355.5h0M820.5 353.9h0M820.7 318.8h0M820.9 298.1h0M821.2 298.1h0M821.3 290.7h0M821.6 299.4h0M821.9 290.5h0M822.1 284.4h0M822.2 292.2h0M822.4 303.7h0M822.7 292.2h0M822.9 296h0M823.1 291.5h0M823.2 302.9h0M823.5 305h0M823.6 293h0M823.9 286.8h0M824 292.7h0M824.1 296.6h0M824.3 297.8h0M824.5 295.5h0M824.6 292.7h0M824.8 303.9h0M825 298.2h0M825.3 300.6h0M825.5 302.6h0M825.8 303.4h0M826 303.6h0M826.3 303.8h0M826.5 286h0M826.7 284h0M827 280.5h0M827.1 294h0M827.3 295.6h0M827.5 288.2h0M827.6 298.2h0M827.8 292.9h0M828.1 295.4h0M828.2 286.8h0M828.4 295.1h0M828.6 292.3h0M828.8 289.8h0M828.9 276.9h0M829.1 291.6h0M829.2 291h0M829.5 298.8h0M829.8 305.9h0M829.9 307.1h0M830 307.3h0M830.2 296.3h0M830.4 288.8h0M830.5 297.4h0M830.8 297.7h0M831 296.6h0M831.3 292.5h0M831.6 289.7h0M831.8 299.1h0M832.1 307.5h0M832.2 298.5h0M832.5 294.4h0M832.7 298.4h0M832.9 298.3h0M833.1 304.1h0M833.3 293.4h0M833.5 293.5h0M833.7 293.7h0M833.9 296.1h0M834.1 293.9h0M834.3 302.8h0M834.4 309.9h0M834.6 307.3h0M834.8 303.2h0M835 317.3h0M835.2 306.3h0M835.5 306.8h0M835.6 296.9h0M835.9 313h0M836.1 308h0M836.3 297.3h0M836.5 306.5h0M836.7 314.8h0M836.9 304.4h0M837.1 317.2h0M837.3 314.8h0M837.5 305.5h0M837.7 300.1h0M838 309.8h0M838.1 323.1h0M838.3 323.7h0M838.4 323.9h0M838.6 323.8h0M838.8 323.7h0M839 319h0M839.1 311.7h0M839.4 306.3h0M839.6 311.4h0M839.7 283.1h0M839.9 255.3h0M840.1 242.6h0M840.3 246.7h0M840.6 253.1h0M840.7 257.2h0M841 247.3h0M841.1 252.1h0M841.3 248.9h0M841.5 250.9h0M841.7 241.6h0M842 259.8h0M842.1 250.6h0M842.4 248.4h0M842.5 256.1h0M842.7 263.9h0M842.9 260.6h0M843 241h0M843.2 232.6h0M843.4 233h0M843.7 240.7h0M843.9 243.6h0M844 245.7h0M844.2 245.3h0M844.3 254.5h0M844.5 249.5h0M844.6 253h0M844.8 249.3h0M845.1 269.6h0M845.3 271.1h0M845.5 272.1h0M845.7 272.4h0M845.9 273.7h0M846.1 275.9h0M846.3 265.5h0M846.5 278.5h0M846.7 268.2h0M847 271.8h0M847.2 256.2h0M847.4 258.4h0M847.5 266.6h0M847.8 273.5h0M848 271h0M848.2 275h0M848.3 280h0M848.5 285.7h0M848.7 286.2h0M848.9 286.8h0M849.1 288.4h0M849.2 290.6h0M849.5 286.7h0M849.7 295.1h0M849.9 301.2h0M850 299.2h0M850.2 306.5h0M850.5 310.9h0M850.7 307.2h0M850.9 311.5h0M851 308.6h0M851.2 308.9h0M851.4 305.2h0M851.6 306.6h0M851.9 312.4h0M852.1 312.6h0M852.4 308.9h0M852.6 308h0M852.8 302.5h0M853 297.3h0M853.2 296.3h0M853.3 297.7h0M853.6 296.4h0M853.8 302.7h0M854 306.1h0M854.2 297.7h0M854.4 297.6h0M854.6 296.6h0M854.7 303.2h0M854.9 304h0M855.1 299.9h0M855.4 299.2h0M855.6 301.5h0M855.9 301.1h0M856 297.9h0M856.2 300.6h0M856.5 308.4h0M856.6 306.2h0M856.9 302.3h0M857.1 298.7h0M857.3 299.1h0M857.4 290.4h0M857.7 291.2h0M857.8 289.3h0M858.1 288.1h0M858.3 299.6h0M858.5 284.5h0M858.7 282.9h0M858.8 281.5h0M858.9 293h0M859.1 281.8h0M859.3 278.1h0M859.5 275.4h0M859.6 276.6h0M859.9 275.6h0M860.1 293.8h0M860.4 288h0M860.5 295h0M860.7 279.6h0M860.8 285h0M861.1 283.9h0M861.4 270.3h0M861.6 271.4h0M861.7 273.3h0M861.9 291.4h0M862.2 284.8h0M862.3 270h0M862.6 278.6h0M862.8 269.9h0M863.1 280.1h0M863.2 275.2h0M863.4 269.7h0M863.6 269.6h0M863.8 269.9h0M864 284.9h0M864.1 293.8h0M864.3 284.5h0M864.5 292.7h0M864.7 287.6h0M864.9 293.6h0M865.1 293.5h0M865.4 269h0M865.5 272.7h0M865.8 269.8h0M866 268.8h0M866.2 268.8h0M866.4 268.7h0M866.6 281.8h0M866.8 281.2h0M867.1 277h0M867.3 281.8h0M867.5 280.1h0M867.7 283h0M867.9 268.5h0M868.2 279.2h0M868.4 289.7h0M868.6 291.3h0M868.8 291.2h0M869.1 289.8h0M869.2 290.9h0M869.4 290.8h0M869.6 290.6h0M869.7 286.7h0M869.9 276.5h0M870.1 268.1h0M870.2 269.7h0M870.5 268h0M870.6 268h0M870.8 267.9h0M871 279h0M871.2 268h0M871.4 280.3h0M871.7 254.1h0M871.8 227.4h0M872 191.5h0M872.1 180.5h0M872.3 190.5h0M872.4 195h0M872.5 186.7h0M872.7 190h0M872.8 178.7h0M873.1 178.1h0M873.3 177.6h0M873.5 177h0M873.8 184.6h0M873.9 186.7h0M874.1 201.7h0M874.3 182.8h0M874.6 186.6h0M874.7 183.6h0M875 182.4h0M875.2 178.6h0M875.4 175.8h0M875.6 175.8h0M875.9 182.8h0M876.1 181.5h0M876.3 201.6h0M876.5 209.2h0M876.6 202.2h0M876.9 175.8h0M877.2 180.5h0M877.4 191.7h0M877.7 189.8h0M877.9 189.1h0M878 195.8h0M878.2 189.2h0M878.3 182.1h0M878.5 181.9h0M878.6 184.8h0M878.9 202h0M879.1 200.9h0M879.3 180.3h0M879.5 181h0M879.7 181.7h0M879.9 182.4h0M880.1 194.8h0M880.3 185.7h0M880.6 188.6h0M880.7 194.6h0M880.9 184h0M881.1 185h0M881.2 191.2h0M881.4 193.1h0M881.6 197.4h0M881.8 194.1h0M882.1 199.2h0M882.2 202.5h0M882.5 202.4h0M882.8 198.9h0M883 191.5h0M883.3 189.6h0M883.4 197.3h0M883.7 199.5h0M884 202.7h0M884.2 210.9h0M884.3 211.8h0M884.5 213.6h0M884.8 215.9h0M884.9 217.4h0M885.1 214.5h0M885.2 220.1h0M885.4 221.9h0M885.6 223.7h0M885.8 225h0M886 216.3h0M886.2 220.9h0M886.4 219.9h0M886.7 205.5h0M886.9 212.8h0M887.1 204h0M887.4 207.5h0M887.6 209.1h0M887.8 218.3h0M887.9 214h0M888.2 223.5h0M888.4 224.9h0M888.6 226.3h0M888.8 227.2h0M889.1 224.1h0M889.4 227.2h0M889.5 212.1h0M889.7 204.1h0M889.8 195.8h0M890 184.4h0M890.2 174.1h0M890.4 175.1h0M890.6 168.6h0M890.7 172.1h0M890.9 175.9h0M891.2 172.1h0M891.3 175.9h0M891.5 171.9h0M891.6 167.8h0M891.8 167.7h0M892 171.4h0M892.2 174.9h0M892.5 167.2h0M892.7 167h0M892.9 169h0M893.1 179.9h0M893.4 166.7h0M893.6 175.4h0M893.9 180.2h0M894.1 175.3h0M894.2 178.5h0M894.4 187h0M894.6 184.9h0M894.8 174.6h0M895.1 171.9h0M895.3 181.6h0M895.4 189.2h0M895.7 189.2h0M895.9 189.2h0M896.1 189.2h0M896.2 187.5h0M896.3 185.8h0M896.6 179.8h0M896.8 167.6h0M897.1 164.8h0M897.2 172.4h0M897.5 176.5h0M897.6 174.2h0M897.8 188h0M898 187.9h0M898.2 178.3h0M898.5 161.3h0M898.6 167.1h0M898.8 161.1h0M898.9 161.6h0M899.1 161.9h0M899.3 162.5h0M899.4 160.5h0M899.7 163.8h0M900 159.9h0M900.1 159.8h0M900.3 170.5h0M900.6 170.5h0M900.8 161.8h0M901 176.3h0M901.2 179.4h0M901.4 180.5h0M901.6 167.2h0M901.8 162.6h0M902.1 161.3h0M902.2 158.6h0M902.4 157.8h0M902.7 171h0M902.8 158.2h0M903.1 158.4h0M903.3 160.8h0M903.5 158.7h0M903.7 166.6h0M903.8 162.7h0M904 172.4h0M904.1 169.2h0M904.3 176.8h0M904.5 183.2h0M904.7 175.5h0M904.9 178.1h0M905.2 180.1h0M905.4 180.3h0M905.6 183.2h0M905.8 182.8h0M905.9 171.7h0M906.1 171h0M906.4 161.6h0M906.6 165h0M906.7 162.3h0M906.9 170.4h0M907.1 175.5h0M907.3 178h0M907.5 173.5h0M907.8 164.3h0M908 167.6h0M908.2 181.4h0M908.4 188.6h0M908.7 191.4h0M908.9 183.4h0M909.1 183.9h0M909.4 193.9h0M909.6 186.6h0M909.8 200.4h0M910.1 213.2h0M910.2 201.2h0M910.4 192.8h0M910.5 198.7h0M910.8 200.1h0M911 206.5h0M911.2 200.2h0M911.4 186.7h0M911.5 162.1h0M911.8 153.2h0M911.9 155.7h0M912.2 151.8h0M912.3 158.3h0M912.5 132.2h0M912.6 104.9h0M912.9 94.1h0M913.1 93.6h0M913.3 98.1h0M913.5 92.8h0M913.7 101h0M913.9 111.1h0M914.1 115.8h0M914.3 107.7h0M914.5 110.3h0M914.8 99.3h0M914.9 98.8h0M915.1 105.8h0M915.3 117h0M915.6 104.4h0M915.8 98.9h0M916 100.9h0M916.2 111.3h0M916.4 114.1h0M916.7 110.7h0M916.9 105.5h0M917.1 117.5h0M917.3 119.3h0M917.5 120.9h0M917.7 112.7h0M918 117.5h0M918.2 121.5h0M918.4 115.9h0M918.7 122.5h0M918.9 119.8h0M919.1 112.9h0M919.3 113h0M919.6 120h0M919.8 117.9h0M920 116.4h0M920.3 116.5h0M920.6 116.9h0M920.7 115.6h0M920.8 118.6h0M921 111h0M921.2 110.5h0M921.4 125.2h0M921.7 125.2h0M921.9 125.2h0M922.1 120.7h0M922.3 121.4h0M922.4 122.8h0M922.7 125.2h0M923 111.2h0M923.2 113.4h0M923.4 119.1h0M923.6 121.3h0M923.8 112.8h0M924 108.6h0M924.2 110.8h0M924.4 115.5h0M924.6 114.6h0M924.9 109.4h0M925 101.6h0M925.3 102.7h0M925.5 110.8h0M925.7 118h0M925.9 121.4h0M926.1 114.4h0M926.4 101.3h0M926.5 92.4h0M926.7 91.7h0M926.9 90.5h0M927.1 92.7h0M927.3 88.9h0M927.5 87.9h0M927.7 87.1h0M927.9 89.5h0M928 85.4h0M928.2 84.7h0M928.4 83.7h0M928.7 90.9h0M928.9 95.4h0M929.1 98.8h0M929.2 89.3h0M929.5 88.2h0M929.6 92.1h0M929.9 85h0M930.1 101.6h0M930.4 109.2h0M930.5 102h0M930.7 99h0M930.9 96.3h0M931 88.7h0M931.3 88.1h0M931.5 97.3h0M931.7 109h0M931.9 103.5h0M932.1 103.1h0M932.3 97.5h0M932.5 92.6h0M932.7 93.6h0M932.8 94.1h0M933 114.4h0M933.2 104.5h0M933.4 101.3h0M933.5 112.8h0M933.8 98.5h0M934 93.3h0M934.2 103.9h0M934.4 103.9h0M934.6 90.7h0M934.8 90.4h0M935 104.8h0M935.2 89.8h0M935.4 108.4h0M935.6 124.2h0M935.8 119.2h0M936 98h0M936.3 112.1h0M936.4 106.6h0M936.6 119.3h0M936.8 120.5h0M937.1 114h0M121.4 238.6h0M121.5 241h0M122.6 244.4h0M122.6 256.6h0M121.4 260.4h0M121.6 267.4h0M121.5 272.4h0M122.6 276h0M123.4 284.4h0M124.4 304.6h0M334 404h0M334 414h0M334 424h0M324.4 377.4h0M533.4 359h0M533.4 375h0M532 380h0M544 382h0M544 394h0M735 331h0M749 346h0M748 352.4h0M880.4 234h0M907.4 229.4h0M224 474h0M327.5 301.4h0M328.3 312.3h0M757.4 188.4h0M758.4 198.4h0M756 202.4h0M755.6 205h0M758 206h0M757 208h0M759 210h0M759.4 213.4h0M755 222h0M756 221h0M762 222h0M762.4 225h0M762.6 228h0M763 232.4h0M754.4 232.4h0M761 236h0M761.4 239h0M760 242h0M762 244h0M760 246h0M753.6 242.4h0M754 246h0M753.6 249h0M763 250.4h0M759.6 253h0M760 256h0M764.4 258.4h0M753.4 254.4h0M753 261h0M753.4 264h0M753 268h0M750.4 273h0M764.4 271.6h0M765 276h0M751 280h0M751 284h0M751.6 289h0M751 294h0M766 280h0M767 284h0M401.4 345h0M401 350h0M456 340h0M455.6 346h0M511.6 337h0M513 344h0M514 352h0M612.4 301h0M613 310h0M612.2 318h0M694.4 369.5h0M478.4 356.5h0M422.4 370h0M379 390.5h0M842.4 230.4h0M844 236h0M825.6 270.5h0M876.6 175.8h0M903 158h0M914.4 89.6h0M928.5 82.3h0M808.4 306.6h0M296.8 356h0M303.6 358h0M701.6 438h0M782.4 421h0M789.6 420h0M871.3 266.5h0M935.5 75.2h0M912.4 147h0M912.6 151h0M912.8 155h0M913 158.5h0" stroke="#000" stroke-width="5.699999999999999" stroke-linecap="round" fill="none"/>
<path d="M120 337.1 120.4 337 120.8 339.1 121.2 339.4 121.6 341.2 122 342.6 122.4 343.5 122.8 346.5 123.2 345.9 123.6 348.1 124 349.4 124.4 350.6 124.8 352.5 125.2 352.4 125.6 355.3 126 355.9 126.4 357.1 126.8 358.8 127.2 359.3 127.6 361.9 128 362 128.4 365.2 128.8 365.5 129.2 367.8 129.6 369.5 130 370.1 130.4 371.7 130.8 372.8 131.2 375.4 131.6 376.5 132 377.1 132.4 379.6 132.8 379.7 133.2 382.3 133.6 383.4 134 384.7 134.4 386.2 134.8 387.5 135.2 389.2 135.6 389.6 136 392.1 136.4 392.7 136.8 393.6 137.2 395.5 137.6 396 138 396.6 138.4 397.1 138.8 398.4 139.2 398.3 139.6 400 140 401 140.4 400.1 140.8 402.9 141.2 403.2 141.6 404.7 142 406.1 142.4 406.5 142.8 408.8 143.2 409.1 143.6 410.5 144 411.2 144.4 412.4 144.8 414.1 145.2 413.9 145.6 416.4 146 416.5 146.4 419 146.8 419.7 147.2 419.5 147.6 421.1 148 421.3 148.4 422.1 148.8 422.4 149.2 423.8 149.6 424.9 150 424.9 150.4 426.1 150.8 425.6 151.2 427.4 151.6 428 152 428.2 152.4 429.2 152.8 429.3 153.2 430.9 153.6 430.5 154 431.7 154.4 432.4 154.8 432.9 155.2 434.9 155.6 434.4 156 436 156.4 435.9 156.8 436.9 157.2 438.1 157.6 437.8 158 439.5 158.4 437.9 158.8 439.8 159.2 438.3 159.6 438.5 160 439.6 160.4 438.6 160.8 440.2 161.2 440 161.6 439.8 162 439.5 162.4 439.8 162.8 441 163.2 440.4 163.6 442.7 164 443.3 164.4 445.3 164.8 446 165.2 447.3 165.6 449.7 166 449.5 166.4 452.5 166.8 452.5 167.2 454.6 167.6 455.4 168 455.4 168.4 457 168.8 456.7 169.2 457.7 169.6 458.3 170 459.5 170.4 459.9 170.8 460.8 171.2 461.7 171.6 462.4 172 463.1 172.4 464.4 172.8 464.5 173.2 465.4 173.6 466 174 467.6 174.4 466.2 174.8 466.1 175.2 466 175.6 464.5 176 466 176.4 463.8 176.8 464.5 177.2 463.4 177.6 463 178 462.9 178.4 462.5 178.8 462.8 179.2 461.9 179.6 462 180 461.4 180.4 460.9 180.8 461.6 181.2 460.5 181.6 461.3 182 460.4 182.4 460.1 182.8 460.4 183.2 460.5 183.6 460.5 184 459.2 184.4 460.7 184.8 460.7 185.2 459.6 185.6 460.9 186 459.8 186.4 460.7 186.8 460.8 187.2 461.3 187.6 461.3 188 460.7 188.4 462.2 188.8 460.8 189.2 462.2 189.6 461.2 190 461.6 190.4 463.1 190.8 461.8 191.2 463.5 191.6 462.4 192 463.4 192.4 463.2 192.8 463.8 193.2 464.3 193.6 463.6 194 465.1 194.4 464.8 194.8 465.5 195.2 465.5 195.6 464.9 196 465.7 196.4 465.8 196.8 467.1 197.2 466.2 197.6 466.9 198 467.3 198.4 466.4 198.8 467.2 199.2 465.1 199.6 466.4 200 464.4 200.4 464.7 200.8 464.8 201.2 463.6 201.6 464.7 202 463.2 202.4 462.4 202.8 461.9 203.2 462.6 203.6 463.3 204 463.2 204.4 465.4 204.8 464.3 205.2 465.1 205.6 467.1 206 466.9 206.4 468.6 206.8 468.3 207.2 469.6 207.6 469.5 208 470.5 208.4 471.3 208.8 470.3 209.2 472.6 209.6 471.6 210 472.7 210.4 472.3 210.8 472.2 211.2 473.3 211.6 472.4 212 474.2 212.4 473.3 212.8 474.3 213.2 474.9 213.6 475 214 475 214.4 475.1 214.8 475.9 215.2 475.7 215.6 475.3 216 476.6 216.4 476.3 216.8 477.2 217.2 476.2 217.6 476.4 218 476.6 218.4 475.2 218.8 474.9 219.2 473.9 219.6 474.1 220 472.4 220.4 473.4 220.8 474 221.2 472.3 221.6 472.5 222 471.1 222.4 472.4 222.8 471.2 223.2 470.6 223.6 470.9 224 469.6 224.4 470.9 224.8 469.8 225.2 470.3 225.6 469.7 226 469.8 226.4 470.3 226.8 469.8 227.2 470 227.6 469.7 228 470 228.4 469.8 228.8 470.2 229.2 471.2 229.6 469.3 230 470.9 230.4 470.5 230.8 469.6 231.2 471.7 231.6 471 232 472.6 232.4 471.5 232.8 472.9 233.2 473.2 233.6 473.7 234 474.7 234.4 473.8 234.8 475.9 235.2 474.7 235.6 475.4 236 475.4 236.4 476.2 236.8 477.1 237.2 476.1 237.6 477 238 476.3 238.4 476.4 238.8 476.9 239.2 476 239.6 477.3 240 477 240.4 477.2 240.8 476.8 241.2 475.8 241.6 476 242 475 242.4 474.9 242.8 473.1 243.2 472.5 243.6 471.8 244 471.2 244.4 473 244.8 472.1 245.2 473.9 245.6 474.3 246 475.2 246.4 476.1 246.8 476.5 247.2 478.3 247.6 478.8 248 479.7 248.4 481 248.8 481.6 249.2 482.4 249.6 481.6 250 483.3 250.4 482.8 250.8 483 251.2 484.1 251.6 484.3 252 484.7 252.4 483.9 252.8 484.6 253.2 484.7 253.6 483.8 254 484.2 254.4 483.8 254.8 483.8 255.2 483.2 255.6 483.7 256 482.8 256.4 482.1 256.8 483.3 257.2 481 257.6 481.5 258 479.8 258.4 479.8 258.8 479.7 259.2 477.6 259.6 476.8 260 474.6 260.4 474.6 260.8 473.3 261.2 471.9 261.6 471.7 262 469.8 262.4 469.9 262.8 468.3 263.2 468.5 263.6 467.7 264 466.8 264.4 467.7 264.8 465.4 265.2 465.7 265.6 463.6 266 464.2 266.4 462.9 266.8 461.7 267.2 463.1 267.6 461.4 268 461.4 268.4 459.8 268.8 459.9 269.2 460 269.6 459.1 270 460.5 270.4 458.2 270.8 458.1 271.2 457.4 271.6 457 272 457.5 272.4 455.5 272.8 456.7 273.2 455.1 273.6 455.9 274 455.8 274.4 454.8 274.8 455 275.2 454.1 275.6 454.5 276 453.7 276.4 453.5 276.8 453.5 277.2 452.2 277.6 454.1 278 452.5 278.4 453.1 278.8 453.1 279.2 451.3 279.6 452.3 280 451 280.4 451.3 280.8 449.2 281.2 448.8 281.6 447.6 282 445 282.4 445 282.8 443.4 283.2 443 283.6 440.3 284 440.3 284.4 439.6 284.8 438 285.2 438 285.6 437 286 437.5 286.4 439.2 286.8 437.9 287.2 439.8 287.6 438.1 288 439.8 288.4 438.6 288.8 439.5 289.2 440.2 289.6 438.3 290 439.9 290.4 438 290.8 437.9 291.2 437.2 291.6 436.7 292 437 292.4 435.4 292.8 436 293.2 434.7 293.6 434.6 294 434 294.4 433.5 294.8 434.4 295.2 431.8 295.6 433.1 296 431.6 296.4 431.3 296.8 431.7 297.2 429.6 297.6 430.6 298 427.5 298.4 427.9 298.8 426.1 299.2 424.8 299.6 424.9 300 422.6 300.4 423 300.8 420.7 301.2 419.8 301.6 419.1 302 417.7 302.4 418.1 302.8 415.3 303.2 415.9 303.6 413.6 304 413.9 304.4 412.7 304.8 410.7 305.2 411.6 305.6 410.1 306 409.1 306.4 407.9 306.8 407.1 307.2 406.7 307.6 405.5 308 405.4 308.4 403.8 308.8 404.4 309.2 403.3 309.6 402.8 310 402.7 310.4 400.9 310.8 401.3 311.2 401.5 311.6 400.4 312 400.6 312.4 399.5 312.8 400.7 313.2 399.5 313.6 401.1 314 399.5 314.4 399.2 314.8 400 315.2 398.9 315.6 400.9 316 399.9 316.4 399.8 316.8 399.5 317.2 399.5 317.6 401.1 318 398.3 318.4 400.7 318.8 399.2 319.2 400.1 319.6 399.2 320 398.3 320.4 398.4 320.8 397 321.2 398.4 321.6 397.3 322 396.3 322.4 396.3 322.8 394.4 323.2 395.7 323.6 394.4 324 394.5 324.4 394 324.8 392.7 325.2 393.5 325.6 392 326 393.1 326.4 392.2 326.8 391.5 327.2 391.5 327.6 391.4 328 392.8 328.4 392.1 328.8 393.9 329.2 393.6 329.6 394.7 330 395.6 330.4 395.3 330.8 396.8 331.2 396.1 331.6 397.2 332 397.8 332.4 397.3 332.8 398.6 333.2 397.4 333.6 398 334 397.7 334.4 397.5 334.8 398 335.2 397.4 335.6 397.8 336 397.5 336.4 398.4 336.8 397.8 337.2 397.6 337.6 398.3 338 396.9 338.4 398.2 338.8 396.9 339.2 397.5 339.6 396.7 340 396.6 340.4 397.2 340.8 395.7 341.2 396.5 341.6 395.9 342 395 342.4 396 342.8 394.9 343.2 395.7 343.6 394.4 344 394.7 344.4 394.2 344.8 394.3 345.2 394.9 345.6 394 346 394.7 346.4 394.8 346.8 395.9 347.2 396.1 347.6 395.6 348 396.1 348.4 396.2 348.8 397.2 349.2 395.7 349.6 397.4 350 397.3 350.4 396.8 350.8 398.5 351.2 398.4 351.6 398.9 352 399.1 352.4 399.9 352.8 400.9 353.2 399.6 353.6 401.1 354 400.1 354.4 401.3 354.8 402.1 355.2 402 355.6 403.2 356 402.8 356.4 403.6 356.8 403.5 357.2 404.5 357.6 405.1 358 404.9 358.4 406.2 358.8 405.1 359.2 406.7 359.6 406 360 405.8 360.4 407.1 360.8 405.5 361.2 406.3 361.6 404.1 362 404.8 362.4 404.1 362.8 403.1 363.2 403 363.6 402.2 364 403.3 364.4 401.8 364.8 401.3 365.2 401.3 365.6 400.4 366 399.6 366.4 399.1 366.8 400.1 367.2 399.8 367.6 400.5 368 401.6 368.4 400.9 368.8 402.7 369.2 402.5 369.6 403.3 370 404.1 370.4 404.7 370.8 406.7 371.2 405.3 371.6 407.1 372 407.1 372.4 408.5 372.8 408.7 373.2 408.9 373.6 409.1 374 408.3 374.4 409.1 374.8 409 375.2 409 375.6 408.5 376 407.7 376.4 409.3 376.8 407.9 377.2 408.1 377.6 409 378 408.3 378.4 409.1 378.8 407.6 379.2 409.2 379.6 407.9 380 408.7 380.4 408.1 380.8 407.3 381.2 408.8 381.6 407.2 382 408.4 382.4 407.3 382.8 406.2 383.2 406.7 383.6 404.9 384 405.9 384.4 403.7 384.8 403.8 385.2 403.8 385.6 403.1 386 403.3 386.4 400.8 386.8 401.4 387.2 400.5 387.6 399.6 388 399.1 388.4 398.5 388.8 399.5 389.2 397.7 389.6 398.2 390 397.7 390.4 398.3 390.8 398.2 391.2 397.3 391.6 398.5 392 397.5 392.4 397.6 392.8 397.7 393.2 396.5 393.6 397.6 394 396.1 394.4 398.1 394.8 397 395.2 397.1 395.6 397.7 396 397.1 396.4 398.7 396.8 396.7 397.2 398 397.6 398 398 399.2 398.4 399.3 398.8 398 399.2 399.6 399.6 399.2 400 398.8 400.4 398.4 400.8 398.1 401.2 398.2 401.6 396.7 402 396.8 402.4 396.5 402.8 396.2 403.2 395.5 403.6 394.3 404 393.8 404.4 393.2 404.8 393.3 405.2 392.6 405.6 392.1 406 391.8 406.4 389.7 406.8 391.2 407.2 389.3 407.6 389.7 408 389.4 408.4 389.4 408.8 390.1 409.2 391 409.6 392.5 410 392.8 410.4 394.1 410.8 394.3 411.2 393.5 411.6 395.7 412 395.2 412.4 397 412.8 397.4 413.2 396.8 413.6 398.5 414 396.8 414.4 398.7 414.8 397.5 415.2 398.1 415.6 398.1 416 397.4 416.4 398.3 416.8 396.7 417.2 398.5 417.6 398.5 418 398.8 418.4 398.8 418.8 397.8 419.2 398.3 419.6 398 420 398.1 420.4 397.2 420.8 396.5 421.2 396.7 421.6 394.8 422 395.5 422.4 393.5 422.8 393.8 423.2 394.2 423.6 392.2 424 392.5 424.4 391 424.8 391.6 425.2 389.5 425.6 389.5 426 389.7 426.4 388 426.8 388.4 427.2 387.3 427.6 386.7 428 386.1 428.4 385.5 428.8 386.7 429.2 384.2 429.6 385.7 430 384.6 430.4 385.6 430.8 385.3 431.2 385 431.6 384.6 432 384.2 432.4 384.7 432.8 383.6 433.2 384.3 433.6 383.8 434 382.4 434.4 384 434.8 382.3 435.2 383.4 435.6 383.2 436 383.1 436.4 384.3 436.8 382.7 437.2 383.5 437.6 382.9 438 383.7 438.4 383.6 438.8 384 439.2 384.7 439.6 383.2 440 385.5 440.4 384.6 440.8 385.2 441.2 385.6 441.6 385.2 442 386.2 442.4 385.6 442.8 386.2 443.2 385.5 443.6 384.9 444 384.2 444.4 383 444.8 383.5 445.2 382 445.6 381.3 446 381.8 446.4 380 446.8 379.7 447.2 377.7 447.6 378.7 448 377.3 448.4 376.8 448.8 377 449.2 376 449.6 378 450 377 450.4 378.9 450.8 379.5 451.2 380.8 451.6 380.7 452 380.6 452.4 382.4 452.8 382.7 453.2 383.3 453.6 384.1 454 384.3 454.4 385.1 454.8 384 455.2 385.3 455.6 383.9 456 384.4 456.4 385.1 456.8 384.6 457.2 385.5 457.6 383.7 458 385.2 458.4 385.2 458.8 385 459.2 385.4 459.6 384.1 460 385.8 460.4 384.3 460.8 384.7 461.2 384.8 461.6 385.1 462 385.3 462.4 384.1 462.8 383.9 463.2 383 463.6 382 464 381.8 464.4 381.4 464.8 381.1 465.2 378.8 465.6 379.2 466 378.2 466.4 377.7 466.8 377 467.2 374.8 467.6 375.9 468 374.3 468.4 374.3 468.8 374.1 469.2 372.8 469.6 373.7 470 371.6 470.4 373.4 470.8 373 471.2 372.6 471.6 372.5 472 371.6 472.4 373.2 472.8 370.8 473.2 371.9 473.6 371.6 474 371.4 474.4 371.5 474.8 370.8 475.2 371.8 475.6 371.2 476 372.1 476.4 372 476.8 372.4 477.2 374.1 477.6 372.6 478 374.4 478.4 374.4 478.8 374.4 479.2 375.6 479.6 374.6 480 376.8 480.4 376.2 480.8 376.9 481.2 375.3 481.6 375.5 482 375.7 482.4 374.5 482.8 376.1 483.2 373.8 483.6 375.2 484 374.5 484.4 374.4 484.8 374.6 485.2 372.7 485.6 373.7 486 372.5 486.4 371.9 486.8 371.7 487.2 369.9 487.6 369.8 488 369.2 488.4 369.5 488.8 368.2 489.2 367.6 489.6 368.6 490 367.4 490.4 369.3 490.8 369.5 491.2 371.7 491.6 371.5 492 373.1 492.4 374.3 492.8 374 493.2 377 493.6 376.6 494 377.2 494.4 378.5 494.8 378.8 495.2 380.4 495.6 379.1 496 380.8 496.4 380.9 496.8 380.7 497.2 382.2 497.6 381.5 498 382.9 498.4 382.3 498.8 383.6 499.2 384 499.6 383.7 500 385.1 500.4 385 500.8 386.2 501.2 386.2 501.6 386.9 502 387.1 502.4 386.9 502.8 386.5 503.2 385.6 503.6 385.6 504 385.6 504.4 385.1 504.8 383.9 505.2 382.8 505.6 384.2 506 382.9 506.4 383.1 506.8 382.3 507.2 381.6 507.6 382.3 508 380.7 508.4 382.3 508.8 380.3 509.2 382.1 509.6 381.9 510 382.2 510.4 383.1 510.8 382 511.2 383.7 511.6 382.9 512 383.1 512.4 383.7 512.8 383.6 513.2 385.2 513.6 384.7 514 385.2 514.4 385.9 514.8 385.4 515.2 386.7 515.6 386.2 516 387.9 516.4 387 516.8 387.7 517.2 388.4 517.6 388.1 518 389.2 518.4 389.3 518.8 390 519.2 390.3 519.6 390.1 520 391.6 520.4 391 520.8 392.2 521.2 392.6 521.6 392.9 522 393.7 522.4 393.1 522.8 393.6 523.2 392.7 523.6 394.3 524 393.5 524.4 394 524.8 394.3 525.2 393.1 525.6 394.9 526 393.2 526.4 395.2 526.8 394.3 527.2 393.9 527.6 394.1 528 392.5 528.4 392.2 528.8 390.3 529.2 390.4 529.6 389.3 530 389.1 530.4 391.4 530.8 390.1 531.2 392.9 531.6 392.3 532 394.3 532.4 395.4 532.8 395.8 533.2 398.1 533.6 398.5 534 399.8 534.4 400.4 534.8 400.7 535.2 402.7 535.6 401.8 536 403.8 536.4 402.8 536.8 404.5 537.2 403.3 537.6 403.8 538 405.6 538.4 404.3 538.8 405.6 539.2 405.3 539.6 405.5 540 406.8 540.4 407.3 540.8 408.2 541.2 406.5 541.6 407.9 542 408 542.4 408.8 542.8 409 543.2 408.4 543.6 410.5 544 409.5 544.4 409.5 544.8 408.7 545.2 407.6 545.6 408.3 546 406.1 546.4 407.9 546.8 406.1 547.2 406.4 547.6 406.7 548 405.2 548.4 404.9 548.8 404.2 549.2 405.2 549.6 404 550 404 550.4 405.2 550.8 403.9 551.2 406.5 551.6 404.2 552 405.6 552.4 406 552.8 405.8 553.2 407.1 553.6 406.3 554 407.5 554.4 407.6 554.8 406.9 555.2 408.5 555.6 407.8 556 409.7 556.4 408.9 556.8 409.8 557.2 409.8 557.6 410.7 558 411.6 558.4 410.5 558.8 413.2 559.2 412.7 559.6 412.2 560 413.2 560.4 413.9 560.8 414.4 561.2 413.3 561.6 414.6 562 413.9 562.4 414.6 562.8 415.1 563.2 415.1 563.6 416 564 415.1 564.4 416 564.8 416.3 565.2 416.2 565.6 417.4 566 417.1 566.4 418.2 566.8 417.3 567.2 417.6 567.6 416.7 568 415.3 568.4 415.3 568.8 413.7 569.2 413.1 569.6 412.4 570 411.3 570.4 410.4 570.8 409.2 571.2 410 571.6 409.4 572 410.5 572.4 411.3 572.8 411 573.2 411.6 573.6 411.8 574 413 574.4 413.3 574.8 414.9 575.2 415.2 575.6 414.5 576 415.9 576.4 415.8 576.8 416.2 577.2 415.1 577.6 415.6 578 416.3 578.4 414.8 578.8 415.3 579.2 414 579.6 414.8 580 413.7 580.4 413.2 580.8 414.1 581.2 412.4 581.6 413.7 582 412.6 582.4 413.9 582.8 412.2 583.2 411.8 583.6 412.4 584 411.2 584.4 412.3 584.8 410.3 585.2 409.6 585.6 408.4 586 406.5 586.4 406.7 586.8 403.9 587.2 402.9 587.6 401.3 588 400.3 588.4 400.4 588.8 398.5 589.2 399.5 589.6 397.5 590 398.1 590.4 398.7 590.8 396.4 591.2 397.7 591.6 396.5 592 397 592.4 395.7 592.8 396 593.2 396 593.6 394.8 594 394.8 594.4 394 594.8 394.2 595.2 393.5 595.6 393.3 596 393.7 596.4 392.4 596.8 392.6 597.2 391.7 597.6 392.1 598 391.6 598.4 390.8 598.8 390.7 599.2 389.1 599.6 390.3 600 388.3 600.4 389.1 600.8 389 601.2 388.2 601.6 388.7 602 387.8 602.4 389 602.8 388.9 603.2 388.7 603.6 388.9 604 387.8 604.4 388.6 604.8 388 605.2 388.4 605.6 388.5 606 388.5 606.4 388.6 606.8 386.6 607.2 387.4 607.6 385.6 608 385.1 608.4 385.4 608.8 383.3 609.2 382.7 609.6 381.5 610 381.7 610.4 379.6 610.8 378.4 611.2 378.2 611.6 376.6 612 377.4 612.4 376.6 612.8 377.5 613.2 377.8 613.6 377.8 614 378.8 614.4 377.2 614.8 379.2 615.2 379 615.6 379.4 616 380.7 616.4 379.8 616.8 381 617.2 381.2 617.6 382.2 618 381.8 618.4 382.2 618.8 383 619.2 381.8 619.6 381.9 620 381.7 620.4 382.5 620.8 382.3 621.2 382.4 621.6 383.7 622 382 622.4 382.9 622.8 383.4 623.2 382.7 623.6 382.5 624 382.2 624.4 383.2 624.8 381.4 625.2 382.7 625.6 381.6 626 381.2 626.4 382.1 626.8 381.1 627.2 381.5 627.6 380.7 628 381 628.4 381.9 628.8 379.9 629.2 381.4 629.6 379.6 630 380.7 630.4 380.5 630.8 381.2 631.2 382 631.6 381.2 632 382.4 632.4 381.6 632.8 383.4 633.2 383.3 633.6 384 634 384.6 634.4 384.2 634.8 385.8 635.2 384.4 635.6 384.3 636 384.1 636.4 383.4 636.8 385.3 637.2 383 637.6 384.7 638 383.4 638.4 384 638.8 384 639.2 383 639.6 384.5 640 384.1 640.4 385.7 640.8 385.6 641.2 386.3 641.6 388.2 642 386.5 642.4 389.1 642.8 388.3 643.2 390 643.6 390.8 644 390.5 644.4 392.1 644.8 390.4 645.2 392.8 645.6 391.7 646 392.7 646.4 393.2 646.8 391.6 647.2 393.7 647.6 393.2 648 394.7 648.4 393.6 648.8 393.2 649.2 392.8 649.6 392.5 650 393.5 650.4 391.4 650.8 391.6 651.2 390.5 651.6 390.7 652 392.1 652.4 390.3 652.8 392.2 653.2 391.9 653.6 392.6 654 394.8 654.4 394 654.8 396.5 655.2 396.6 655.6 398.7 656 399.1 656.4 400 656.8 401.1 657.2 400.9 657.6 403.5 658 403 658.4 403.9 658.8 404.3 659.2 404.5 659.6 405.2 660 404.6 660.4 405.9 660.8 406.2 661.2 407 661.6 408.2 662 406.4 662.4 408.2 662.8 408 663.2 408.8 663.6 408.7 664 409.7 664.4 409.9 664.8 408.9 665.2 410.4 665.6 410.2 666 410.9 666.4 410 666.8 409.2 667.2 410.3 667.6 408.6 668 408.7 668.4 408 668.8 407.7 669.2 406.6 669.6 405.9 670 407.1 670.4 405.5 670.8 405.8 671.2 406.3 671.6 406.7 672 407.9 672.4 405.5 672.8 408.7 673.2 406.4 673.6 408 674 408.2 674.4 407.8 674.8 408.4 675.2 406.7 675.6 408.4 676 406.8 676.4 406.2 676.8 408.3 677.2 406.5 677.6 407.8 678 405.3 678.4 406.9 678.8 406.3 679.2 405.9 679.6 405.8 680 404.3 680.4 406.1 680.8 404.6 681.2 406 681.6 407.1 682 406.6 682.4 408.4 682.8 407.7 683.2 410.1 683.6 409.6 684 409.8 684.4 411 684.8 409.8 685.2 411.3 685.6 410.6 686 410.6 686.4 410.4 686.8 409.8 687.2 410.9 687.6 410.4 688 410.5 688.4 409.8 688.8 409.7 689.2 409.2 689.6 408.2 690 409.6 690.4 408.2 690.8 408 691.2 406.1 691.6 406.4 692 405.7 692.4 404.8 692.8 405.4 693.2 404.4 693.6 406 694 405.9 694.4 406.7 694.8 407.7 695.2 408.1 695.6 409.7 696 410.1 696.4 411.3 696.8 412.5 697.2 413.1 697.6 414 698 413.5 698.4 414.6 698.8 414.2 699.2 414.5 699.6 414 700 412.4 700.4 413.8 700.8 411 701.2 412.8 701.6 411 702 409.7 702.4 412.1 702.8 410.2 703.2 410 703.6 409 704 409.1 704.4 408.7 704.8 407.1 705.2 407.6 705.6 406 706 406 706.4 404.6 706.8 403.4 707.2 403.5 707.6 400.5 708 400.9 708.4 397.8 708.8 398 709.2 397.5 709.6 395.5 710 395.8 710.4 393.7 710.8 393.7 711.2 392.3 711.6 392.1 712 391.3 712.4 390.6 712.8 390.8 713.2 388.4 713.6 388.7 714 387.6 714.4 387.1 714.8 387.1 715.2 386.4 715.6 386.2 716 384.2 716.4 384.6 716.8 383.4 717.2 382.8 717.6 382.9 718 381.7 718.4 382.3 718.8 381.3 719.2 381 719.6 380.5 720 379.1 720.4 380.6 720.8 378.5 721.2 379.5 721.6 377.8 722 377.8 722.4 376.8 722.8 375.9 723.2 377.2 723.6 373.9 724 375.2 724.4 374.4 724.8 373.1 725.2 373 725.6 371.1 726 370.3 726.4 368.5 726.8 367.4 727.2 366.2 727.6 364.6 728 364.5 728.4 362.2 728.8 362.2 729.2 359.2 729.6 359.3 730 357.6 730.4 354.9 730.8 353.9 731.2 351.2 731.6 350.7 732 348.5 732.4 345.8 732.8 345.8 733.2 344 733.6 341.6 734 340.5 734.4 339.9 734.8 338.9 735.2 338.5 735.6 337.8 736 336.7 736.4 337.7 736.8 335.7 737.2 335.3 737.6 335.3 738 333.7 738.4 335 738.8 332.1 739.2 332.8 739.6 330.3 740 329.7 740.4 328.6 740.8 325.2 741.2 326.1 741.6 323.3 742 322.8 742.4 322.2 742.8 319.3 743.2 318.8 743.6 317.4 744 316.6 744.4 315 744.8 313.5 745.2 311.9 745.6 310.1 746 310.4 746.4 307.8 746.8 307 747.2 305.3 747.6 303.8 748 302.9 748.4 301.5 748.8 300.6 749.2 297.8 749.6 297.6 750 297.3 750.4 296.9 750.8 298.1 751.2 297.5 751.6 299.7 752 299 752.4 300.3 752.8 302.2 753.2 301.7 753.6 304 754 304.2 754.4 306.2 754.8 306.8 755.2 309.1 755.6 310.6 756 310.6 756.4 313.7 756.8 314 757.2 315.6 757.6 317.3 758 318.2 758.4 319.9 758.8 320.9 759.2 323.5 759.6 324.1 760 325.3 760.4 327.6 760.8 328.4 761.2 331 761.6 330.9 762 334 762.4 334.2 762.8 336 763.2 338.7 763.6 338.3 764 341 764.4 342.1 764.8 343.6 765.2 345 765.6 346.3 766 349 766.4 348 766.8 351.1 767.2 351.7 767.6 353.4 768 355.3 768.4 356 768.8 359 769.2 358.8 769.6 361.6 770 362.7 770.4 363.6 770.8 366.1 771.2 367.2 771.6 369.2 772 369 772.4 370.9 772.8 371.4 773.2 372.3 773.6 374.3 774 373.3 774.4 375.5 774.8 376.1 775.2 376.6 775.6 378 776 377.4 776.4 379.2 776.8 378.7 777.2 381.2 777.6 380.1 778 380.4 778.4 381.5 778.8 381.1 779.2 382.8 779.6 381.6 780 382.7 780.4 381.5 780.8 381 781.2 381 781.6 379.5 782 379.3 782.4 378.6 782.8 378.4 783.2 378.1 783.6 376.1 784 377.9 784.4 375.6 784.8 375.9 785.2 374.9 785.6 374.2 786 374.4 786.4 372.1 786.8 372.7 787.2 371.6 787.6 371.5 788 370.5 788.4 369.3 788.8 369.3 789.2 367.4 789.6 367.7 790 364.6 790.4 364.5 790.8 363 791.2 360.2 791.6 360.4 792 357.1 792.4 356.7 792.8 355.4 793.2 354.6 793.6 354.3 794 352.2 794.4 352.6 794.8 349.7 795.2 350.4 795.6 348.6 796 347.5 796.4 347.7 796.8 345.5 797.2 345.9 797.6 344.5 798 344.5 798.4 344.3 798.8 342.8 799.2 342.6 799.6 340.8 800 341 800.4 340.4 800.8 338.6 801.2 339.8 801.6 337.4 802 337.8 802.4 336.5 802.8 336.7 803.2 335.6 803.6 334.8 804 334.7 804.4 333.5 804.8 334.2 805.2 332.5 805.6 333 806 332.4 806.4 331.1 806.8 331.4 807.2 330.1 807.6 331.1 808 329.4 808.4 329.6 808.8 329.6 809.2 327.8 809.6 327 810 325.8 810.4 325.6 810.8 323.8 811.2 322.6 811.6 321.4 812 320.4 812.4 319.9 812.8 318.7 813.2 316.9 813.6 317.4 814 315.4 814.4 316.1 814.8 313.5 815.2 313.7 815.6 313.7 816 311.9 816.4 312.5 816.8 311.7 817.2 312.8 817.6 312.8 818 313.9 818.4 313 818.8 312.3 819.2 314.6 819.6 313.6 820 314.5 820.4 313.6 820.8 312.7 821.2 312.8 821.6 311 822 311.6 822.4 311 822.8 310.7 823.2 311 823.6 309.5 824 309.4 824.4 308.4 824.8 309.5 825.2 307.3 825.6 306.5 826 306.2 826.4 305.4 826.8 304.8 827.2 302.7 827.6 303.7 828 301.8 828.4 300.8 828.8 300.5 829.2 298.8 829.6 299.5 830 297.4 830.4 297.8 830.8 296.2 831.2 294.2 831.6 294.6 832 292.8 832.4 292.8 832.8 291 833.2 290 833.6 288.7 834 288 834.4 287.2 834.8 284.7 835.2 286.2 835.6 283.8 836 283.4 836.4 282.3 836.8 280.7 837.2 280.9 837.6 279.2 838 279.6 838.4 277.3 838.8 277.7 839.2 276.8 839.6 275.1 840 276.3 840.4 274.2 840.8 273.5 841.2 274.1 841.6 271.8 842 272.4 842.4 270.6 842.8 271.4 843.2 269.2 843.6 269.4 844 268.4 844.4 267.7 844.8 267.4 845.2 265.8 845.6 267 846 265.2 846.4 264.4 846.8 265.3 847.2 262.8 847.6 262.9 848 261.9 848.4 261.1 848.8 261.4 849.2 260.3 849.6 259.9 850 258.2 850.4 259 850.8 257.5 851.2 256.8 851.6 257.1 852 254.5 852.4 255.4 852.8 253.3 853.2 253.3 853.6 252 854 250.3 854.4 250.7 854.8 248.3 855.2 248.3 855.6 246 856 245.7 856.4 245.3 856.8 243.6 857.2 244.6 857.6 243.9 858 245.2 858.4 245 858.8 244.9 859.2 245.2 859.6 245.5 860 246.4 860.4 245.3 860.8 245.4 861.2 244.9 861.6 244.2 862 244.3 862.4 242.7 862.8 243.3 863.2 241.7 863.6 241.9 864 241.6 864.4 240 864.8 241.4 865.2 239 865.6 240.1 866 238.3 866.4 238.1 866.8 238.8 867.2 236.6 867.6 236.8 868 235.4 868.4 235.9 868.8 235.8 869.2 234 869.6 233.9 870 230.9 870.4 231.3 870.8 229.1 871.2 228.9 871.6 226.6 872 225.4 872.4 224.9 872.8 222 873.2 222.2 873.6 220 874 218.2 874.4 218.4 874.8 216.5 875.2 216.1 875.6 213.6 876 214.8 876.4 212.9 876.8 212.3 877.2 212.2 877.6 209.5 878 210.3 878.4 208 878.8 207.8 879.2 206.8 879.6 205.6 880 206.2 880.4 204 880.8 204.5 881.2 203.2 881.6 203.3 882 202.6 882.4 201.5 882.8 202.3 883.2 200.5 883.6 201.1 884 200 884.4 200.5 884.8 200.4 885.2 198.5 885.6 199 886 198.3 886.4 197.6 886.8 196.7 887.2 195.8 887.6 196 888 194.6 888.4 194.5 888.8 193.9 889.2 192.3 889.6 192.6 890 190.4 890.4 192 890.8 189.3 891.2 189.7 891.6 188.9 892 188.1 892.4 186.9 892.8 185.2 893.2 184.9 893.6 183.5 894 183 894.4 181.7 894.8 180.1 895.2 180.1 895.6 177.7 896 178.3 896.4 177 896.8 175.1 897.2 175.7 897.6 174.8 898 176.4 898.4 174.9 898.8 176.4 899.2 175.8 899.6 176.6 900 177.3 900.4 176.4 900.8 178 901.2 177 901.6 177.2 902 178 902.4 177 902.8 177.2 903.2 175.9 903.6 176.5 904 174.1 904.4 173.9 904.8 174.5 905.2 173 905.6 172.6 906 170.7 906.4 171.2 906.8 170.2 907.2 169 907.6 169.7 908 167.5 908.4 168 908.8 167.1 909.2 166.3 909.6 165.5 910 164.3 910.4 164.3 910.8 161.6 911.2 161.9 911.6 159.7 912 159.9 912.4 158.5 912.8 155.7 913.2 155.9 913.6 153.7 914 153.2 914.4 152 914.8 150.3 915.2 148.9 915.6 146.8 916 146.5 916.4 145.3 916.8 145.3 917.2 145.8 917.6 143.8 918 143.4 918.4 142.3 918.8 143.3 919.2 141.5 919.6 141.4 920 141.3 920.4 140 920.8 140.1 921.2 137.7 921.6 138.4 922 136.6 922.4 135.6 922.8 135 923.2 133.5 923.6 134.7 924 132.3 924.4 133.2 924.8 133.1 925.2 131.8 925.6 132.6 926 130.6 926.4 132.3 926.8 131.1 927.2 130.6 927.6 129.8 928 128.9 928.4 130.5 928.8 129.3 929.2 129.2 929.6 128.6 930 127.1 930.4 127.3 930.8 125.7 931.2 126.4 931.6 124 932 125 932.4 124.3 932.8 122.1 933.2 122.1 933.6 120.7 934 120.4 934.4 117.9 934.8 118.5 935.2 117.6 935.6 115.5 936 116.5 936.4 113.1 936.8 112.2 937.2 110.4 937.6 108.5 938 108.1" stroke="#0072B2" stroke-width="2.2" stroke-linejoin="round" stroke-linecap="round" fill="none"/>
<path d="M936.3 71.2 H945 V109.5 L942.25 111.75 L939 109.25 L936.3 108.5 Z" fill="#0072B2"/>
<g fill="#ff0000" fill-opacity="0.85" stroke="#ff0000" stroke-opacity="0.85" stroke-width="1.39"><circle cx="939.4" cy="63.2" r="2.1"/><circle cx="939.3" cy="65.5" r="2.1"/><circle cx="939.4" cy="68" r="2.1"/><circle cx="939.3" cy="70.5" r="2.1"/><circle cx="939.5" cy="73" r="2.1"/><circle cx="939.2" cy="75.5" r="2.1"/><circle cx="939.8" cy="77.5" r="2.1"/><circle cx="938" cy="78.5" r="2.1"/><circle cx="940.5" cy="77.5" r="2.1"/><circle cx="937.5" cy="81" r="2.1"/><circle cx="940.5" cy="81" r="2.1"/><circle cx="939" cy="80" r="2.1"/><circle cx="937.3" cy="82.3" r="2.1"/><circle cx="940.8" cy="82" r="2.1"/><circle cx="939.5" cy="83.5" r="2.1"/><circle cx="941" cy="84.5" r="2.1"/><circle cx="938" cy="85.5" r="2.1"/><circle cx="939.5" cy="87" r="2.1"/><circle cx="940.5" cy="88.5" r="2.1"/><circle cx="938.5" cy="89" r="2.1"/><circle cx="941" cy="89" r="2.1"/><circle cx="940" cy="91" r="2.1"/><circle cx="941.5" cy="92.5" r="2.1"/></g>
</g>
<rect x="79.5" y="15.5" width="906.0" height="527.0" fill="none" stroke="#000" stroke-width="1.11"/>
<path d="M122.5 542.5v5.2M285.5 542.5v5.2M448.5 542.5v5.2M611.5 542.5v5.2M774.5 542.5v5.2M937.5 542.5v5.2M79.5 492.5h-5.2M79.5 421.5h-5.2M79.5 350.5h-5.2M79.5 279.5h-5.2M79.5 208.5h-5.2M79.5 137.5h-5.2M79.5 65.5h-5.2" stroke="#000" stroke-width="1.11" fill="none"/>
<g font-family="'DejaVu Sans', 'Liberation Sans', sans-serif" font-size="13.89" fill="#000">
<text x="104.2" y="562.3" letter-spacing="-0.12">2006</text>
<text x="267.2" y="562.3" letter-spacing="-0.12">2010</text>
<text x="430.2" y="562.3" letter-spacing="-0.12">2014</text>
<text x="594.2" y="562.3" letter-spacing="-0.12">2018</text>
<text x="757.2" y="562.3" letter-spacing="-0.12">2022</text>
<text x="920.2" y="562.3" letter-spacing="-0.12">2026</text>
<text x="70.2" y="498" text-anchor="end" letter-spacing="-0.58">0</text>
<text x="67.45" y="426" text-anchor="end" letter-spacing="-0.58">500</text>
<text x="68.2" y="355" text-anchor="end" letter-spacing="-0.58">1000</text>
<text x="68.2" y="284" text-anchor="end" letter-spacing="-0.58">1500</text>
<text x="68.2" y="213" text-anchor="end" letter-spacing="-0.58">2000</text>
<text x="68.2" y="142" text-anchor="end" letter-spacing="-0.58">2500</text>
<text x="68.2" y="71" text-anchor="end" letter-spacing="-0.58">3000</text>
<text x="532.5" y="581.6" text-anchor="middle">ds</text>
<text transform="translate(25.2 279) rotate(-90)" text-anchor="middle">y</text>
</g>
</svg>
</body></html>
